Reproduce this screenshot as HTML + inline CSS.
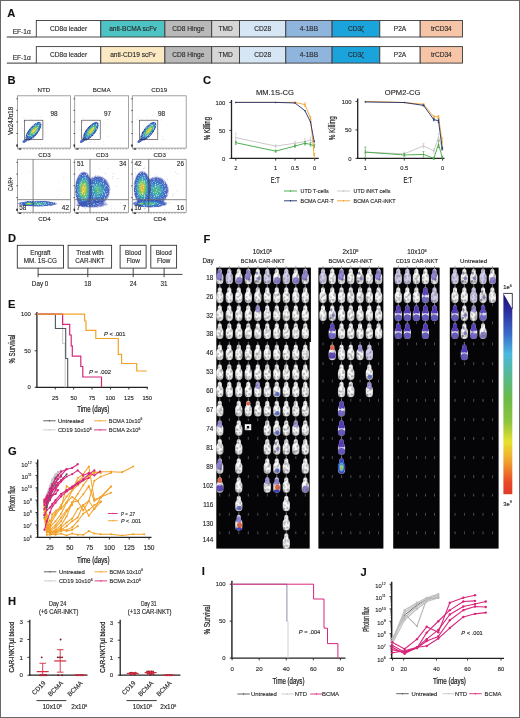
<!DOCTYPE html>
<html><head><meta charset="utf-8"><style>
html,body{margin:0;padding:0;background:#fff;}
svg{display:block;font-family:"Liberation Sans", sans-serif;will-change:transform;}
text{stroke:#2a2a2a;stroke-width:0.13px;}
</style></head><body>
<svg width="520" height="718" viewBox="0 0 520 718">
<rect width="520" height="718" fill="#fff"/>
<text x="7.3" y="17.3" font-size="11.2" font-weight="bold" fill="#111">A</text>
<line x1="6.8" y1="37.0" x2="36.3" y2="37.0" stroke="#333" stroke-width="1"/>
<rect x="36.3" y="20.5" width="64.50" height="16.50" fill="#ffffff" stroke="#3a3a3a" stroke-width="0.9"/>
<text x="68.55" y="31.05" font-size="6.6" text-anchor="middle" fill="#2a2a2a">CD8&#945; leader</text>
<rect x="100.8" y="20.5" width="64.10" height="16.50" fill="#4ec3c4" stroke="#3a3a3a" stroke-width="0.9"/>
<text x="132.85" y="31.05" font-size="6.6" text-anchor="middle" fill="#2a2a2a">anti-BCMA scFv</text>
<rect x="164.9" y="20.5" width="46.80" height="16.50" fill="#b9b9b9" stroke="#3a3a3a" stroke-width="0.9"/>
<text x="188.3" y="31.05" font-size="6.6" text-anchor="middle" fill="#2a2a2a">CD8 Hinge</text>
<rect x="211.7" y="20.5" width="27.80" height="16.50" fill="#d6d6d6" stroke="#3a3a3a" stroke-width="0.9"/>
<text x="225.6" y="31.05" font-size="6.6" text-anchor="middle" fill="#2a2a2a">TMD</text>
<rect x="239.5" y="20.5" width="46.30" height="16.50" fill="#d7e6f5" stroke="#3a3a3a" stroke-width="0.9"/>
<text x="262.65" y="31.05" font-size="6.6" text-anchor="middle" fill="#2a2a2a">CD28</text>
<rect x="285.8" y="20.5" width="46.30" height="16.50" fill="#8fb5dd" stroke="#3a3a3a" stroke-width="0.9"/>
<text x="308.95000000000005" y="31.05" font-size="6.6" text-anchor="middle" fill="#2a2a2a">4-1BB</text>
<rect x="332.1" y="20.5" width="47.70" height="16.50" fill="#1ba4dc" stroke="#3a3a3a" stroke-width="0.9"/>
<text x="355.95000000000005" y="31.05" font-size="6.6" text-anchor="middle" fill="#2a2a2a">CD3&#950;</text>
<rect x="379.8" y="20.5" width="40.40" height="16.50" fill="#ffffff" stroke="#3a3a3a" stroke-width="0.9"/>
<text x="400.0" y="31.05" font-size="6.6" text-anchor="middle" fill="#2a2a2a">P2A</text>
<rect x="420.2" y="20.5" width="42.30" height="16.50" fill="#f6c4a6" stroke="#3a3a3a" stroke-width="0.9"/>
<text x="441.35" y="31.05" font-size="6.6" text-anchor="middle" fill="#2a2a2a">trCD34</text>
<text x="12.7" y="34.0" font-size="6.6" fill="#2a2a2a">EF-1&#945;</text>
<line x1="6.8" y1="63.1" x2="36.3" y2="63.1" stroke="#333" stroke-width="1"/>
<rect x="36.3" y="46.6" width="64.50" height="16.50" fill="#ffffff" stroke="#3a3a3a" stroke-width="0.9"/>
<text x="68.55" y="57.15" font-size="6.6" text-anchor="middle" fill="#2a2a2a">CD8&#945; leader</text>
<rect x="100.8" y="46.6" width="64.10" height="16.50" fill="#fbe9c3" stroke="#3a3a3a" stroke-width="0.9"/>
<text x="132.85" y="57.15" font-size="6.6" text-anchor="middle" fill="#2a2a2a">anti-CD19 scFv</text>
<rect x="164.9" y="46.6" width="46.80" height="16.50" fill="#b9b9b9" stroke="#3a3a3a" stroke-width="0.9"/>
<text x="188.3" y="57.15" font-size="6.6" text-anchor="middle" fill="#2a2a2a">CD8 Hinge</text>
<rect x="211.7" y="46.6" width="27.80" height="16.50" fill="#d6d6d6" stroke="#3a3a3a" stroke-width="0.9"/>
<text x="225.6" y="57.15" font-size="6.6" text-anchor="middle" fill="#2a2a2a">TMD</text>
<rect x="239.5" y="46.6" width="46.30" height="16.50" fill="#d7e6f5" stroke="#3a3a3a" stroke-width="0.9"/>
<text x="262.65" y="57.15" font-size="6.6" text-anchor="middle" fill="#2a2a2a">CD28</text>
<rect x="285.8" y="46.6" width="46.30" height="16.50" fill="#8fb5dd" stroke="#3a3a3a" stroke-width="0.9"/>
<text x="308.95000000000005" y="57.15" font-size="6.6" text-anchor="middle" fill="#2a2a2a">4-1BB</text>
<rect x="332.1" y="46.6" width="47.70" height="16.50" fill="#1ba4dc" stroke="#3a3a3a" stroke-width="0.9"/>
<text x="355.95000000000005" y="57.15" font-size="6.6" text-anchor="middle" fill="#2a2a2a">CD3&#950;</text>
<rect x="379.8" y="46.6" width="40.40" height="16.50" fill="#ffffff" stroke="#3a3a3a" stroke-width="0.9"/>
<text x="400.0" y="57.15" font-size="6.6" text-anchor="middle" fill="#2a2a2a">P2A</text>
<rect x="420.2" y="46.6" width="42.30" height="16.50" fill="#f6c4a6" stroke="#3a3a3a" stroke-width="0.9"/>
<text x="441.35" y="57.15" font-size="6.6" text-anchor="middle" fill="#2a2a2a">trCD34</text>
<text x="12.7" y="60.1" font-size="6.6" fill="#2a2a2a">EF-1&#945;</text>
<defs>
<radialGradient id="dens" cx="0.5" cy="0.5" r="0.5">
<stop offset="0" stop-color="#f09a30"/><stop offset="0.12" stop-color="#e8c838"/><stop offset="0.3" stop-color="#8cc448"/>
<stop offset="0.5" stop-color="#40b0a8"/><stop offset="0.7" stop-color="#3478c8"/><stop offset="0.88" stop-color="#3448b4" stop-opacity="0.9"/><stop offset="1" stop-color="#3448b4" stop-opacity="0"/>
</radialGradient>
<radialGradient id="densR1" cx="0.6" cy="0.5" r="0.5" fx="0.62" fy="0.5">
<stop offset="0" stop-color="#e8c030"/><stop offset="0.15" stop-color="#d8d840"/><stop offset="0.32" stop-color="#7cc050"/>
<stop offset="0.5" stop-color="#38a8b0"/><stop offset="0.68" stop-color="#2f6cc0"/><stop offset="0.85" stop-color="#243a98" stop-opacity="0.95"/><stop offset="1" stop-color="#243a98" stop-opacity="0"/>
</radialGradient>
<radialGradient id="dens2" cx="0.5" cy="0.5" r="0.5">
<stop offset="0" stop-color="#5cb868"/><stop offset="0.25" stop-color="#40b0a8"/>
<stop offset="0.55" stop-color="#3478c8"/><stop offset="0.85" stop-color="#3448b4" stop-opacity="0.85"/><stop offset="1" stop-color="#3448b4" stop-opacity="0"/>
</radialGradient>
<filter id="speck" x="0" y="0" width="1" height="1" color-interpolation-filters="sRGB">
<feTurbulence type="fractalNoise" baseFrequency="1.1" numOctaves="1" seed="9" result="n"/>
<feColorMatrix in="n" type="matrix" values="0 0 0 0 0  0 0 0 0 0  0 0 0 0 0  0 0 0 2.4 -0.22" result="m"/>
<feComposite in="SourceGraphic" in2="m" operator="in"/>
</filter>
<radialGradient id="dens3" cx="0.5" cy="0.5" r="0.5">
<stop offset="0" stop-color="#3468c0"/><stop offset="0.7" stop-color="#3448b4" stop-opacity="0.75"/><stop offset="1" stop-color="#3448b4" stop-opacity="0"/>
</radialGradient>
</defs>
<text x="7.6" y="83.5" font-size="11.2" font-weight="bold" fill="#111">B</text>
<text x="43.900000000000006" y="92.2" font-size="6.2" text-anchor="middle" fill="#2a2a2a">NTD</text>
<text x="101.65" y="92.2" font-size="6.2" text-anchor="middle" fill="#2a2a2a">BCMA</text>
<text x="159.25" y="92.2" font-size="6.2" text-anchor="middle" fill="#2a2a2a">CD19</text>
<rect x="17.4" y="95.8" width="53.00" height="52.30" fill="none" stroke="#8c8c8c" stroke-width="0.8"/><line x1="16.099999999999998" y1="145.1" x2="17.799999999999997" y2="145.1" stroke="#222" stroke-width="0.6"/><line x1="16.099999999999998" y1="133.5" x2="17.799999999999997" y2="133.5" stroke="#222" stroke-width="0.6"/><line x1="16.099999999999998" y1="121.9" x2="17.799999999999997" y2="121.9" stroke="#222" stroke-width="0.6"/><line x1="16.099999999999998" y1="110.4" x2="17.799999999999997" y2="110.4" stroke="#222" stroke-width="0.6"/><line x1="16.099999999999998" y1="98.8" x2="17.799999999999997" y2="98.8" stroke="#222" stroke-width="0.6"/><line x1="17.4" y1="149.0" x2="70.4" y2="149.0" stroke="#777" stroke-width="0.6" stroke-dasharray="1.5 1.5"/><rect x="18.9" y="148.4" width="2.2" height="1.2" fill="#222"/><rect x="16.4" y="144.6" width="1.3" height="2.2" fill="#222"/>
<circle cx="31.1" cy="119.7" r="0.4" fill="#9a84e0" opacity="0.55"/><circle cx="40.9" cy="117.2" r="0.4" fill="#9a84e0" opacity="0.55"/><circle cx="37.5" cy="126.3" r="0.4" fill="#9a84e0" opacity="0.55"/><circle cx="23.1" cy="130.7" r="0.4" fill="#9a84e0" opacity="0.55"/><circle cx="22.5" cy="128.4" r="0.4" fill="#9a84e0" opacity="0.55"/><circle cx="23.5" cy="117.8" r="0.4" fill="#9a84e0" opacity="0.55"/><circle cx="34.1" cy="140.6" r="0.4" fill="#9a84e0" opacity="0.55"/><circle cx="25.1" cy="121.9" r="0.4" fill="#9a84e0" opacity="0.55"/><circle cx="40.2" cy="144.4" r="0.4" fill="#9a84e0" opacity="0.55"/><circle cx="38.7" cy="127.3" r="0.4" fill="#9a84e0" opacity="0.55"/><circle cx="50.7" cy="116.4" r="0.4" fill="#9a84e0" opacity="0.55"/><circle cx="47.2" cy="124.0" r="0.4" fill="#9a84e0" opacity="0.55"/><circle cx="25.7" cy="118.7" r="0.4" fill="#9a84e0" opacity="0.55"/><circle cx="30.7" cy="140.3" r="0.4" fill="#9a84e0" opacity="0.55"/><circle cx="26.8" cy="133.0" r="0.4" fill="#9a84e0" opacity="0.55"/><circle cx="40.6" cy="126.5" r="0.4" fill="#9a84e0" opacity="0.55"/><circle cx="37.8" cy="116.9" r="0.4" fill="#9a84e0" opacity="0.55"/><circle cx="23.2" cy="121.4" r="0.4" fill="#9a84e0" opacity="0.55"/><circle cx="41.8" cy="128.3" r="0.4" fill="#9a84e0" opacity="0.55"/><circle cx="30.8" cy="133.2" r="0.4" fill="#9a84e0" opacity="0.55"/><circle cx="35.0" cy="124.3" r="0.4" fill="#9a84e0" opacity="0.55"/><circle cx="45.2" cy="136.7" r="0.4" fill="#9a84e0" opacity="0.55"/><circle cx="28.7" cy="132.8" r="0.4" fill="#9a84e0" opacity="0.55"/><circle cx="37.2" cy="142.1" r="0.4" fill="#9a84e0" opacity="0.55"/><circle cx="43.3" cy="123.9" r="0.4" fill="#9a84e0" opacity="0.55"/><circle cx="50.8" cy="118.7" r="0.4" fill="#9a84e0" opacity="0.55"/><circle cx="33.9" cy="138.5" r="0.4" fill="#9a84e0" opacity="0.55"/><circle cx="26.0" cy="130.2" r="0.4" fill="#9a84e0" opacity="0.55"/>
<g filter="url(#speck)"><ellipse cx="0" cy="0" rx="13.2" ry="5.0" fill="url(#densR1)" opacity="1.0" transform="translate(32.2 132.8) rotate(-51)"/></g>
<ellipse cx="0" cy="0" rx="3.2" ry="1.8" fill="url(#dens3)" opacity="1.0" transform="translate(24.9 141.0) rotate(-30)"/>
<rect x="24.4" y="120.2" width="18.5" height="19.39999999999999" fill="none" stroke="#333" stroke-width="0.6"/>
<text x="54.0" y="115.8" font-size="6.4" text-anchor="middle" fill="#2a2a2a">98</text>
<text x="44.400000000000006" y="156.7" font-size="6.2" text-anchor="middle" fill="#2a2a2a">CD3</text>
<rect x="74.7" y="95.8" width="53.90" height="52.30" fill="none" stroke="#8c8c8c" stroke-width="0.8"/><line x1="73.4" y1="145.1" x2="75.10000000000001" y2="145.1" stroke="#222" stroke-width="0.6"/><line x1="73.4" y1="133.5" x2="75.10000000000001" y2="133.5" stroke="#222" stroke-width="0.6"/><line x1="73.4" y1="121.9" x2="75.10000000000001" y2="121.9" stroke="#222" stroke-width="0.6"/><line x1="73.4" y1="110.4" x2="75.10000000000001" y2="110.4" stroke="#222" stroke-width="0.6"/><line x1="73.4" y1="98.8" x2="75.10000000000001" y2="98.8" stroke="#222" stroke-width="0.6"/><line x1="74.7" y1="149.0" x2="128.6" y2="149.0" stroke="#777" stroke-width="0.6" stroke-dasharray="1.5 1.5"/><rect x="76.2" y="148.4" width="2.2" height="1.2" fill="#222"/><rect x="73.7" y="144.6" width="1.3" height="2.2" fill="#222"/>
<circle cx="79.9" cy="135.7" r="0.4" fill="#9a84e0" opacity="0.55"/><circle cx="101.6" cy="132.8" r="0.4" fill="#9a84e0" opacity="0.55"/><circle cx="105.0" cy="124.7" r="0.4" fill="#9a84e0" opacity="0.55"/><circle cx="99.6" cy="133.4" r="0.4" fill="#9a84e0" opacity="0.55"/><circle cx="96.1" cy="129.1" r="0.4" fill="#9a84e0" opacity="0.55"/><circle cx="103.9" cy="144.3" r="0.4" fill="#9a84e0" opacity="0.55"/><circle cx="92.9" cy="135.6" r="0.4" fill="#9a84e0" opacity="0.55"/><circle cx="80.5" cy="136.7" r="0.4" fill="#9a84e0" opacity="0.55"/><circle cx="98.1" cy="145.8" r="0.4" fill="#9a84e0" opacity="0.55"/><circle cx="103.4" cy="123.8" r="0.4" fill="#9a84e0" opacity="0.55"/><circle cx="90.3" cy="135.7" r="0.4" fill="#9a84e0" opacity="0.55"/><circle cx="79.4" cy="129.3" r="0.4" fill="#9a84e0" opacity="0.55"/><circle cx="83.7" cy="118.6" r="0.4" fill="#9a84e0" opacity="0.55"/><circle cx="80.5" cy="138.8" r="0.4" fill="#9a84e0" opacity="0.55"/><circle cx="82.6" cy="122.7" r="0.4" fill="#9a84e0" opacity="0.55"/><circle cx="90.4" cy="142.0" r="0.4" fill="#9a84e0" opacity="0.55"/><circle cx="81.1" cy="128.9" r="0.4" fill="#9a84e0" opacity="0.55"/><circle cx="95.2" cy="142.4" r="0.4" fill="#9a84e0" opacity="0.55"/><circle cx="103.3" cy="141.8" r="0.4" fill="#9a84e0" opacity="0.55"/><circle cx="87.1" cy="127.9" r="0.4" fill="#9a84e0" opacity="0.55"/><circle cx="89.5" cy="142.4" r="0.4" fill="#9a84e0" opacity="0.55"/><circle cx="107.4" cy="119.7" r="0.4" fill="#9a84e0" opacity="0.55"/><circle cx="84.0" cy="122.2" r="0.4" fill="#9a84e0" opacity="0.55"/><circle cx="85.7" cy="130.0" r="0.4" fill="#9a84e0" opacity="0.55"/><circle cx="96.4" cy="123.1" r="0.4" fill="#9a84e0" opacity="0.55"/><circle cx="78.8" cy="128.0" r="0.4" fill="#9a84e0" opacity="0.55"/><circle cx="89.8" cy="132.6" r="0.4" fill="#9a84e0" opacity="0.55"/><circle cx="107.3" cy="136.4" r="0.4" fill="#9a84e0" opacity="0.55"/>
<g filter="url(#speck)"><ellipse cx="0" cy="0" rx="13.2" ry="5.0" fill="url(#densR1)" opacity="1.0" transform="translate(89.5 132.8) rotate(-51)"/></g>
<ellipse cx="0" cy="0" rx="3.2" ry="1.8" fill="url(#dens3)" opacity="1.0" transform="translate(82.2 141.0) rotate(-30)"/>
<rect x="81.7" y="120.2" width="18.5" height="19.39999999999999" fill="none" stroke="#333" stroke-width="0.6"/>
<text x="107.5" y="115.8" font-size="6.4" text-anchor="middle" fill="#2a2a2a">97</text>
<text x="102.15" y="156.7" font-size="6.2" text-anchor="middle" fill="#2a2a2a">CD3</text>
<rect x="132.3" y="95.8" width="53.90" height="52.30" fill="none" stroke="#8c8c8c" stroke-width="0.8"/><line x1="131.0" y1="145.1" x2="132.70000000000002" y2="145.1" stroke="#222" stroke-width="0.6"/><line x1="131.0" y1="133.5" x2="132.70000000000002" y2="133.5" stroke="#222" stroke-width="0.6"/><line x1="131.0" y1="121.9" x2="132.70000000000002" y2="121.9" stroke="#222" stroke-width="0.6"/><line x1="131.0" y1="110.4" x2="132.70000000000002" y2="110.4" stroke="#222" stroke-width="0.6"/><line x1="131.0" y1="98.8" x2="132.70000000000002" y2="98.8" stroke="#222" stroke-width="0.6"/><line x1="132.3" y1="149.0" x2="186.2" y2="149.0" stroke="#777" stroke-width="0.6" stroke-dasharray="1.5 1.5"/><rect x="133.8" y="148.4" width="2.2" height="1.2" fill="#222"/><rect x="131.3" y="144.6" width="1.3" height="2.2" fill="#222"/>
<circle cx="151.8" cy="134.1" r="0.4" fill="#9a84e0" opacity="0.55"/><circle cx="156.6" cy="116.7" r="0.4" fill="#9a84e0" opacity="0.55"/><circle cx="163.3" cy="139.2" r="0.4" fill="#9a84e0" opacity="0.55"/><circle cx="162.5" cy="139.7" r="0.4" fill="#9a84e0" opacity="0.55"/><circle cx="148.1" cy="127.4" r="0.4" fill="#9a84e0" opacity="0.55"/><circle cx="139.4" cy="134.7" r="0.4" fill="#9a84e0" opacity="0.55"/><circle cx="138.2" cy="117.1" r="0.4" fill="#9a84e0" opacity="0.55"/><circle cx="142.6" cy="120.0" r="0.4" fill="#9a84e0" opacity="0.55"/><circle cx="146.5" cy="116.6" r="0.4" fill="#9a84e0" opacity="0.55"/><circle cx="136.3" cy="119.7" r="0.4" fill="#9a84e0" opacity="0.55"/><circle cx="139.3" cy="126.3" r="0.4" fill="#9a84e0" opacity="0.55"/><circle cx="137.1" cy="142.1" r="0.4" fill="#9a84e0" opacity="0.55"/><circle cx="154.7" cy="119.6" r="0.4" fill="#9a84e0" opacity="0.55"/><circle cx="143.9" cy="125.8" r="0.4" fill="#9a84e0" opacity="0.55"/><circle cx="147.2" cy="118.8" r="0.4" fill="#9a84e0" opacity="0.55"/><circle cx="161.8" cy="145.8" r="0.4" fill="#9a84e0" opacity="0.55"/><circle cx="150.3" cy="130.0" r="0.4" fill="#9a84e0" opacity="0.55"/><circle cx="138.9" cy="118.2" r="0.4" fill="#9a84e0" opacity="0.55"/><circle cx="146.6" cy="123.2" r="0.4" fill="#9a84e0" opacity="0.55"/><circle cx="161.2" cy="120.0" r="0.4" fill="#9a84e0" opacity="0.55"/><circle cx="137.0" cy="144.5" r="0.4" fill="#9a84e0" opacity="0.55"/><circle cx="152.1" cy="119.5" r="0.4" fill="#9a84e0" opacity="0.55"/><circle cx="152.6" cy="115.8" r="0.4" fill="#9a84e0" opacity="0.55"/><circle cx="152.1" cy="145.3" r="0.4" fill="#9a84e0" opacity="0.55"/><circle cx="162.2" cy="136.6" r="0.4" fill="#9a84e0" opacity="0.55"/><circle cx="144.1" cy="126.4" r="0.4" fill="#9a84e0" opacity="0.55"/><circle cx="141.3" cy="138.9" r="0.4" fill="#9a84e0" opacity="0.55"/><circle cx="152.3" cy="139.2" r="0.4" fill="#9a84e0" opacity="0.55"/>
<g filter="url(#speck)"><ellipse cx="0" cy="0" rx="13.2" ry="5.0" fill="url(#densR1)" opacity="1.0" transform="translate(147.10000000000002 132.8) rotate(-51)"/></g>
<ellipse cx="0" cy="0" rx="3.2" ry="1.8" fill="url(#dens3)" opacity="1.0" transform="translate(139.8 141.0) rotate(-30)"/>
<rect x="139.3" y="120.2" width="18.5" height="19.39999999999999" fill="none" stroke="#333" stroke-width="0.6"/>
<text x="161.5" y="115.8" font-size="6.4" text-anchor="middle" fill="#2a2a2a">98</text>
<text x="159.75" y="156.7" font-size="6.2" text-anchor="middle" fill="#2a2a2a">CD3</text>
<rect x="17.4" y="159.3" width="53.00" height="53.00" fill="none" stroke="#8c8c8c" stroke-width="0.8"/><line x1="16.099999999999998" y1="209.3" x2="17.799999999999997" y2="209.3" stroke="#222" stroke-width="0.6"/><line x1="16.099999999999998" y1="197.6" x2="17.799999999999997" y2="197.6" stroke="#222" stroke-width="0.6"/><line x1="16.099999999999998" y1="185.8" x2="17.799999999999997" y2="185.8" stroke="#222" stroke-width="0.6"/><line x1="16.099999999999998" y1="174.1" x2="17.799999999999997" y2="174.1" stroke="#222" stroke-width="0.6"/><line x1="16.099999999999998" y1="162.3" x2="17.799999999999997" y2="162.3" stroke="#222" stroke-width="0.6"/><line x1="17.4" y1="213.20000000000002" x2="70.4" y2="213.20000000000002" stroke="#777" stroke-width="0.6" stroke-dasharray="1.5 1.5"/><rect x="18.9" y="212.60000000000002" width="2.2" height="1.2" fill="#222"/><rect x="16.4" y="208.8" width="1.3" height="2.2" fill="#222"/>
<circle cx="35.2" cy="171.7" r="0.35" fill="#b0a8e0" opacity="0.5"/><circle cx="56.9" cy="197.2" r="0.35" fill="#b0a8e0" opacity="0.5"/><circle cx="58.8" cy="191.2" r="0.35" fill="#b0a8e0" opacity="0.5"/><circle cx="57.2" cy="189.0" r="0.35" fill="#b0a8e0" opacity="0.5"/><circle cx="30.6" cy="181.6" r="0.35" fill="#b0a8e0" opacity="0.5"/><circle cx="36.4" cy="165.3" r="0.35" fill="#b0a8e0" opacity="0.5"/><circle cx="21.7" cy="173.6" r="0.35" fill="#b0a8e0" opacity="0.5"/><circle cx="32.1" cy="187.4" r="0.35" fill="#b0a8e0" opacity="0.5"/><circle cx="63.4" cy="179.2" r="0.35" fill="#b0a8e0" opacity="0.5"/><circle cx="62.6" cy="197.3" r="0.35" fill="#b0a8e0" opacity="0.5"/><circle cx="63.4" cy="176.5" r="0.35" fill="#b0a8e0" opacity="0.5"/><circle cx="30.3" cy="171.9" r="0.35" fill="#b0a8e0" opacity="0.5"/><circle cx="29.3" cy="171.1" r="0.35" fill="#b0a8e0" opacity="0.5"/><circle cx="48.5" cy="194.4" r="0.35" fill="#b0a8e0" opacity="0.5"/><circle cx="58.2" cy="180.3" r="0.35" fill="#b0a8e0" opacity="0.5"/><circle cx="49.8" cy="191.0" r="0.35" fill="#b0a8e0" opacity="0.5"/><circle cx="24.2" cy="186.4" r="0.35" fill="#b0a8e0" opacity="0.5"/><circle cx="61.3" cy="190.4" r="0.35" fill="#b0a8e0" opacity="0.5"/><circle cx="54.2" cy="180.3" r="0.35" fill="#b0a8e0" opacity="0.5"/><circle cx="28.4" cy="190.7" r="0.35" fill="#b0a8e0" opacity="0.5"/><circle cx="35.4" cy="191.0" r="0.35" fill="#b0a8e0" opacity="0.5"/><circle cx="64.1" cy="177.5" r="0.35" fill="#b0a8e0" opacity="0.5"/><circle cx="38.5" cy="195.9" r="0.35" fill="#b0a8e0" opacity="0.5"/><circle cx="53.0" cy="170.0" r="0.35" fill="#b0a8e0" opacity="0.5"/><circle cx="26.1" cy="169.3" r="0.35" fill="#b0a8e0" opacity="0.5"/>
<circle cx="56.6" cy="196.1" r="0.35" fill="#d8d070" opacity="0.5"/><circle cx="26.2" cy="196.2" r="0.35" fill="#d8d070" opacity="0.5"/><circle cx="59.6" cy="194.8" r="0.35" fill="#d8d070" opacity="0.5"/><circle cx="34.4" cy="193.9" r="0.35" fill="#d8d070" opacity="0.5"/><circle cx="25.6" cy="189.4" r="0.35" fill="#d8d070" opacity="0.5"/><circle cx="59.2" cy="194.8" r="0.35" fill="#d8d070" opacity="0.5"/><circle cx="41.5" cy="197.1" r="0.35" fill="#d8d070" opacity="0.5"/><circle cx="37.8" cy="196.6" r="0.35" fill="#d8d070" opacity="0.5"/>
<g filter="url(#speck)"><ellipse cx="0" cy="0" rx="20.5" ry="3.1" fill="url(#dens2)" opacity="1.0" transform="translate(37.4 203.7) rotate(0)"/></g>
<ellipse cx="0" cy="0" rx="6.0" ry="2.2" fill="url(#dens)" opacity="1.0" transform="translate(28.9 203.7) rotate(0)"/>
<line x1="33.099999999999994" y1="159.3" x2="33.099999999999994" y2="212.3" stroke="#555" stroke-width="0.7"/>
<line x1="17.4" y1="199.7" x2="70.4" y2="199.7" stroke="#666" stroke-width="0.8"/>
<text x="22.799999999999997" y="209.5" font-size="6.4" text-anchor="middle" fill="#2a2a2a">58</text>
<text x="65.4" y="209.5" font-size="6.4" text-anchor="middle" fill="#2a2a2a">42</text>
<text x="44.400000000000006" y="220.6" font-size="6.2" text-anchor="middle" fill="#2a2a2a">CD4</text>
<rect x="74.7" y="159.3" width="53.90" height="53.00" fill="none" stroke="#8c8c8c" stroke-width="0.8"/><line x1="73.4" y1="209.3" x2="75.10000000000001" y2="209.3" stroke="#222" stroke-width="0.6"/><line x1="73.4" y1="197.6" x2="75.10000000000001" y2="197.6" stroke="#222" stroke-width="0.6"/><line x1="73.4" y1="185.8" x2="75.10000000000001" y2="185.8" stroke="#222" stroke-width="0.6"/><line x1="73.4" y1="174.1" x2="75.10000000000001" y2="174.1" stroke="#222" stroke-width="0.6"/><line x1="73.4" y1="162.3" x2="75.10000000000001" y2="162.3" stroke="#222" stroke-width="0.6"/><line x1="74.7" y1="213.20000000000002" x2="128.6" y2="213.20000000000002" stroke="#777" stroke-width="0.6" stroke-dasharray="1.5 1.5"/><rect x="76.2" y="212.60000000000002" width="2.2" height="1.2" fill="#222"/><rect x="73.7" y="208.8" width="1.3" height="2.2" fill="#222"/>
<circle cx="112.8" cy="176.4" r="0.45" fill="#3b50b8" opacity="0.5"/><circle cx="87.0" cy="179.9" r="0.45" fill="#3b50b8" opacity="0.5"/><circle cx="86.5" cy="192.5" r="0.45" fill="#3b50b8" opacity="0.5"/><circle cx="87.3" cy="185.3" r="0.45" fill="#3b50b8" opacity="0.5"/><circle cx="81.6" cy="206.4" r="0.45" fill="#3b50b8" opacity="0.5"/><circle cx="91.6" cy="187.0" r="0.45" fill="#3b50b8" opacity="0.5"/><circle cx="101.9" cy="206.2" r="0.45" fill="#3b50b8" opacity="0.5"/><circle cx="94.6" cy="206.8" r="0.45" fill="#3b50b8" opacity="0.5"/><circle cx="98.2" cy="190.2" r="0.45" fill="#3b50b8" opacity="0.5"/><circle cx="99.2" cy="168.1" r="0.45" fill="#3b50b8" opacity="0.5"/><circle cx="95.5" cy="175.2" r="0.45" fill="#3b50b8" opacity="0.5"/><circle cx="75.9" cy="201.7" r="0.45" fill="#3b50b8" opacity="0.5"/><circle cx="83.4" cy="187.7" r="0.45" fill="#3b50b8" opacity="0.5"/><circle cx="108.3" cy="191.2" r="0.45" fill="#3b50b8" opacity="0.5"/><circle cx="90.3" cy="189.6" r="0.45" fill="#3b50b8" opacity="0.5"/><circle cx="100.6" cy="201.0" r="0.45" fill="#3b50b8" opacity="0.5"/><circle cx="80.5" cy="191.4" r="0.45" fill="#3b50b8" opacity="0.5"/><circle cx="86.9" cy="179.2" r="0.45" fill="#3b50b8" opacity="0.5"/><circle cx="110.4" cy="189.1" r="0.45" fill="#3b50b8" opacity="0.5"/><circle cx="100.9" cy="200.0" r="0.45" fill="#3b50b8" opacity="0.5"/><circle cx="116.7" cy="186.4" r="0.45" fill="#3b50b8" opacity="0.5"/><circle cx="103.2" cy="189.0" r="0.45" fill="#3b50b8" opacity="0.5"/><circle cx="98.7" cy="197.1" r="0.45" fill="#3b50b8" opacity="0.5"/><circle cx="96.0" cy="190.2" r="0.45" fill="#3b50b8" opacity="0.5"/><circle cx="97.2" cy="207.8" r="0.45" fill="#3b50b8" opacity="0.5"/><circle cx="107.1" cy="205.0" r="0.45" fill="#3b50b8" opacity="0.5"/><circle cx="118.0" cy="178.5" r="0.45" fill="#3b50b8" opacity="0.5"/><circle cx="100.8" cy="207.9" r="0.45" fill="#3b50b8" opacity="0.5"/><circle cx="113.4" cy="173.2" r="0.45" fill="#3b50b8" opacity="0.5"/><circle cx="81.2" cy="186.3" r="0.45" fill="#3b50b8" opacity="0.5"/><circle cx="79.0" cy="177.6" r="0.45" fill="#3b50b8" opacity="0.5"/><circle cx="79.0" cy="196.1" r="0.45" fill="#3b50b8" opacity="0.5"/><circle cx="110.9" cy="205.9" r="0.45" fill="#3b50b8" opacity="0.5"/><circle cx="82.6" cy="198.1" r="0.45" fill="#3b50b8" opacity="0.5"/><circle cx="105.3" cy="173.4" r="0.45" fill="#3b50b8" opacity="0.5"/><circle cx="115.3" cy="208.9" r="0.45" fill="#3b50b8" opacity="0.5"/><circle cx="85.6" cy="208.3" r="0.45" fill="#3b50b8" opacity="0.5"/><circle cx="93.6" cy="188.3" r="0.45" fill="#3b50b8" opacity="0.5"/><circle cx="120.1" cy="203.1" r="0.45" fill="#3b50b8" opacity="0.5"/><circle cx="82.9" cy="185.9" r="0.45" fill="#3b50b8" opacity="0.5"/><circle cx="98.9" cy="181.9" r="0.45" fill="#3b50b8" opacity="0.5"/><circle cx="84.5" cy="181.0" r="0.45" fill="#3b50b8" opacity="0.5"/><circle cx="108.1" cy="168.1" r="0.45" fill="#3b50b8" opacity="0.5"/><circle cx="100.6" cy="186.2" r="0.45" fill="#3b50b8" opacity="0.5"/><circle cx="76.5" cy="181.6" r="0.45" fill="#3b50b8" opacity="0.5"/><circle cx="103.7" cy="189.3" r="0.45" fill="#3b50b8" opacity="0.5"/><circle cx="78.6" cy="209.7" r="0.45" fill="#3b50b8" opacity="0.5"/><circle cx="111.1" cy="209.1" r="0.45" fill="#3b50b8" opacity="0.5"/><circle cx="80.4" cy="178.7" r="0.45" fill="#3b50b8" opacity="0.5"/><circle cx="77.5" cy="200.8" r="0.45" fill="#3b50b8" opacity="0.5"/><circle cx="87.8" cy="172.9" r="0.45" fill="#3b50b8" opacity="0.5"/><circle cx="94.7" cy="206.5" r="0.45" fill="#3b50b8" opacity="0.5"/><circle cx="112.5" cy="178.4" r="0.45" fill="#3b50b8" opacity="0.5"/><circle cx="82.4" cy="206.8" r="0.45" fill="#3b50b8" opacity="0.5"/><circle cx="101.3" cy="197.4" r="0.45" fill="#3b50b8" opacity="0.5"/><circle cx="79.7" cy="169.8" r="0.45" fill="#3b50b8" opacity="0.5"/><circle cx="106.6" cy="185.6" r="0.45" fill="#3b50b8" opacity="0.5"/><circle cx="79.0" cy="207.6" r="0.45" fill="#3b50b8" opacity="0.5"/><circle cx="104.2" cy="201.8" r="0.45" fill="#3b50b8" opacity="0.5"/><circle cx="79.5" cy="204.1" r="0.45" fill="#3b50b8" opacity="0.5"/>
<g filter="url(#speck)"><ellipse cx="0" cy="0" rx="13.0" ry="15.0" fill="url(#dens2)" opacity="1.0" transform="translate(97.7 190.0) rotate(0)"/></g>
<g filter="url(#speck)"><ellipse cx="0" cy="0" rx="9.0" ry="18.5" fill="url(#dens)" opacity="1.0" transform="translate(83.7 189.5) rotate(0)"/></g>
<g filter="url(#speck)"><ellipse cx="0" cy="0" rx="17" ry="4.0" fill="url(#dens3)" opacity="1.0" transform="translate(91.7 204.0) rotate(0)"/></g>
<line x1="90.0" y1="159.3" x2="90.0" y2="212.3" stroke="#444" stroke-width="0.7"/>
<line x1="74.7" y1="199.7" x2="128.6" y2="199.7" stroke="#666" stroke-width="0.8"/>
<text x="80.5" y="165.6" font-size="6.4" text-anchor="middle" fill="#2a2a2a">51</text>
<text x="122.8" y="165.6" font-size="6.4" text-anchor="middle" fill="#2a2a2a">34</text>
<text x="78.2" y="209.6" font-size="6.4" text-anchor="middle" fill="#2a2a2a">7</text>
<text x="124.6" y="209.6" font-size="6.4" text-anchor="middle" fill="#2a2a2a">7</text>
<text x="102.15" y="220.6" font-size="6.2" text-anchor="middle" fill="#2a2a2a">CD4</text>
<rect x="132.3" y="159.3" width="53.90" height="53.00" fill="none" stroke="#8c8c8c" stroke-width="0.8"/><line x1="131.0" y1="209.3" x2="132.70000000000002" y2="209.3" stroke="#222" stroke-width="0.6"/><line x1="131.0" y1="197.6" x2="132.70000000000002" y2="197.6" stroke="#222" stroke-width="0.6"/><line x1="131.0" y1="185.8" x2="132.70000000000002" y2="185.8" stroke="#222" stroke-width="0.6"/><line x1="131.0" y1="174.1" x2="132.70000000000002" y2="174.1" stroke="#222" stroke-width="0.6"/><line x1="131.0" y1="162.3" x2="132.70000000000002" y2="162.3" stroke="#222" stroke-width="0.6"/><line x1="132.3" y1="213.20000000000002" x2="186.2" y2="213.20000000000002" stroke="#777" stroke-width="0.6" stroke-dasharray="1.5 1.5"/><rect x="133.8" y="212.60000000000002" width="2.2" height="1.2" fill="#222"/><rect x="131.3" y="208.8" width="1.3" height="2.2" fill="#222"/>
<circle cx="136.3" cy="204.4" r="0.45" fill="#3b50b8" opacity="0.5"/><circle cx="153.7" cy="181.9" r="0.45" fill="#3b50b8" opacity="0.5"/><circle cx="158.1" cy="207.1" r="0.45" fill="#3b50b8" opacity="0.5"/><circle cx="145.3" cy="172.9" r="0.45" fill="#3b50b8" opacity="0.5"/><circle cx="157.0" cy="177.6" r="0.45" fill="#3b50b8" opacity="0.5"/><circle cx="138.2" cy="174.2" r="0.45" fill="#3b50b8" opacity="0.5"/><circle cx="135.6" cy="176.0" r="0.45" fill="#3b50b8" opacity="0.5"/><circle cx="147.3" cy="180.4" r="0.45" fill="#3b50b8" opacity="0.5"/><circle cx="167.4" cy="179.8" r="0.45" fill="#3b50b8" opacity="0.5"/><circle cx="155.8" cy="174.9" r="0.45" fill="#3b50b8" opacity="0.5"/><circle cx="148.9" cy="168.1" r="0.45" fill="#3b50b8" opacity="0.5"/><circle cx="144.5" cy="168.0" r="0.45" fill="#3b50b8" opacity="0.5"/><circle cx="166.2" cy="191.0" r="0.45" fill="#3b50b8" opacity="0.5"/><circle cx="141.8" cy="187.7" r="0.45" fill="#3b50b8" opacity="0.5"/><circle cx="175.3" cy="171.9" r="0.45" fill="#3b50b8" opacity="0.5"/><circle cx="170.1" cy="185.9" r="0.45" fill="#3b50b8" opacity="0.5"/><circle cx="155.5" cy="203.2" r="0.45" fill="#3b50b8" opacity="0.5"/><circle cx="150.9" cy="189.1" r="0.45" fill="#3b50b8" opacity="0.5"/><circle cx="164.2" cy="209.5" r="0.45" fill="#3b50b8" opacity="0.5"/><circle cx="148.7" cy="203.1" r="0.45" fill="#3b50b8" opacity="0.5"/><circle cx="165.0" cy="194.6" r="0.45" fill="#3b50b8" opacity="0.5"/><circle cx="151.5" cy="182.2" r="0.45" fill="#3b50b8" opacity="0.5"/><circle cx="135.7" cy="172.9" r="0.45" fill="#3b50b8" opacity="0.5"/><circle cx="136.5" cy="199.2" r="0.45" fill="#3b50b8" opacity="0.5"/><circle cx="144.8" cy="174.3" r="0.45" fill="#3b50b8" opacity="0.5"/><circle cx="137.1" cy="203.5" r="0.45" fill="#3b50b8" opacity="0.5"/><circle cx="172.4" cy="196.1" r="0.45" fill="#3b50b8" opacity="0.5"/><circle cx="146.0" cy="177.7" r="0.45" fill="#3b50b8" opacity="0.5"/><circle cx="146.5" cy="187.1" r="0.45" fill="#3b50b8" opacity="0.5"/><circle cx="140.4" cy="186.5" r="0.45" fill="#3b50b8" opacity="0.5"/><circle cx="145.1" cy="208.7" r="0.45" fill="#3b50b8" opacity="0.5"/><circle cx="177.0" cy="190.8" r="0.45" fill="#3b50b8" opacity="0.5"/><circle cx="144.3" cy="208.8" r="0.45" fill="#3b50b8" opacity="0.5"/><circle cx="147.2" cy="182.6" r="0.45" fill="#3b50b8" opacity="0.5"/><circle cx="133.3" cy="183.7" r="0.45" fill="#3b50b8" opacity="0.5"/><circle cx="154.6" cy="188.9" r="0.45" fill="#3b50b8" opacity="0.5"/><circle cx="142.3" cy="189.0" r="0.45" fill="#3b50b8" opacity="0.5"/><circle cx="133.5" cy="178.7" r="0.45" fill="#3b50b8" opacity="0.5"/><circle cx="137.3" cy="184.5" r="0.45" fill="#3b50b8" opacity="0.5"/><circle cx="135.2" cy="168.3" r="0.45" fill="#3b50b8" opacity="0.5"/><circle cx="147.0" cy="177.3" r="0.45" fill="#3b50b8" opacity="0.5"/><circle cx="159.6" cy="190.1" r="0.45" fill="#3b50b8" opacity="0.5"/><circle cx="167.0" cy="195.6" r="0.45" fill="#3b50b8" opacity="0.5"/><circle cx="165.4" cy="205.1" r="0.45" fill="#3b50b8" opacity="0.5"/><circle cx="150.8" cy="181.3" r="0.45" fill="#3b50b8" opacity="0.5"/><circle cx="177.5" cy="173.7" r="0.45" fill="#3b50b8" opacity="0.5"/><circle cx="165.8" cy="195.0" r="0.45" fill="#3b50b8" opacity="0.5"/><circle cx="135.3" cy="203.2" r="0.45" fill="#3b50b8" opacity="0.5"/><circle cx="173.3" cy="194.3" r="0.45" fill="#3b50b8" opacity="0.5"/><circle cx="166.2" cy="202.2" r="0.45" fill="#3b50b8" opacity="0.5"/><circle cx="139.6" cy="189.8" r="0.45" fill="#3b50b8" opacity="0.5"/><circle cx="155.9" cy="203.2" r="0.45" fill="#3b50b8" opacity="0.5"/><circle cx="169.4" cy="202.8" r="0.45" fill="#3b50b8" opacity="0.5"/><circle cx="159.5" cy="205.7" r="0.45" fill="#3b50b8" opacity="0.5"/><circle cx="164.0" cy="197.1" r="0.45" fill="#3b50b8" opacity="0.5"/><circle cx="143.6" cy="168.6" r="0.45" fill="#3b50b8" opacity="0.5"/><circle cx="139.3" cy="182.8" r="0.45" fill="#3b50b8" opacity="0.5"/><circle cx="138.0" cy="203.2" r="0.45" fill="#3b50b8" opacity="0.5"/><circle cx="158.4" cy="194.3" r="0.45" fill="#3b50b8" opacity="0.5"/><circle cx="161.4" cy="196.6" r="0.45" fill="#3b50b8" opacity="0.5"/>
<g filter="url(#speck)"><ellipse cx="0" cy="0" rx="13.0" ry="14.5" fill="url(#dens2)" opacity="1.0" transform="translate(156.3 190.5) rotate(0)"/></g>
<g filter="url(#speck)"><ellipse cx="0" cy="0" rx="9.0" ry="17.5" fill="url(#dens)" opacity="1.0" transform="translate(142.3 188.0) rotate(0)"/></g>
<g filter="url(#speck)"><ellipse cx="0" cy="0" rx="18" ry="4.2" fill="url(#dens2)" opacity="1.0" transform="translate(149.8 203.6) rotate(0)"/></g>
<ellipse cx="0" cy="0" rx="5" ry="2.0" fill="url(#dens)" opacity="0.8" transform="translate(141.3 203.6) rotate(0)"/>
<line x1="148.70000000000002" y1="159.3" x2="148.70000000000002" y2="212.3" stroke="#444" stroke-width="0.7"/>
<line x1="132.3" y1="199.7" x2="186.2" y2="199.7" stroke="#666" stroke-width="0.8"/>
<text x="138.10000000000002" y="165.6" font-size="6.4" text-anchor="middle" fill="#2a2a2a">42</text>
<text x="180.39999999999998" y="165.6" font-size="6.4" text-anchor="middle" fill="#2a2a2a">26</text>
<text x="137.8" y="209.6" font-size="6.4" text-anchor="middle" fill="#2a2a2a">16</text>
<text x="180.39999999999998" y="209.6" font-size="6.4" text-anchor="middle" fill="#2a2a2a">16</text>
<text x="159.75" y="220.6" font-size="6.2" text-anchor="middle" fill="#2a2a2a">CD4</text>
<text x="13.4" y="120.9" font-size="6.8" text-anchor="middle" textLength="28.4" lengthAdjust="spacingAndGlyphs" transform="rotate(-90 13.4 120.9)" fill="#2a2a2a">V&#945;24J&#945;18</text>
<text x="13.2" y="183.9" font-size="6.6" text-anchor="middle" textLength="14.0" lengthAdjust="spacingAndGlyphs" transform="rotate(-90 13.2 183.9)" fill="#2a2a2a">CAR+</text>
<text x="203.0" y="83.7" font-size="11.2" font-weight="bold" fill="#111">C</text>
<line x1="231.50" y1="100.00" x2="231.50" y2="159.00" stroke="#222" stroke-width="1.3"/>
<line x1="230.90" y1="158.40" x2="318.80" y2="158.40" stroke="#222" stroke-width="1.2"/>
<line x1="229.30" y1="102.40" x2="231.50" y2="102.40" stroke="#222" stroke-width="0.9"/>
<text x="225.4" y="104.5" font-size="5.9" text-anchor="end" fill="#2a2a2a">100</text>
<line x1="229.30" y1="130.40" x2="231.50" y2="130.40" stroke="#222" stroke-width="0.9"/>
<text x="225.4" y="132.5" font-size="5.9" text-anchor="end" fill="#2a2a2a">50</text>
<line x1="229.30" y1="158.40" x2="231.50" y2="158.40" stroke="#222" stroke-width="0.9"/>
<text x="225.4" y="160.5" font-size="5.9" text-anchor="end" fill="#2a2a2a">0</text>
<line x1="235.80" y1="158.40" x2="235.80" y2="160.60" stroke="#222" stroke-width="0.9"/>
<text x="235.8" y="170.0" font-size="5.8" text-anchor="middle" fill="#2a2a2a">2</text>
<line x1="275.70" y1="158.40" x2="275.70" y2="160.60" stroke="#222" stroke-width="0.9"/>
<text x="275.7" y="170.0" font-size="5.8" text-anchor="middle" fill="#2a2a2a">1</text>
<line x1="295.00" y1="158.40" x2="295.00" y2="160.60" stroke="#222" stroke-width="0.9"/>
<text x="295.0" y="170.0" font-size="5.8" text-anchor="middle" fill="#2a2a2a">0.5</text>
<line x1="314.70" y1="158.40" x2="314.70" y2="160.60" stroke="#222" stroke-width="0.9"/>
<text x="314.7" y="170.0" font-size="5.8" text-anchor="middle" fill="#2a2a2a">0</text>
<line x1="235.80" y1="133.20" x2="235.80" y2="142.16" stroke="#c4c4c4" stroke-width="0.6"/>
<line x1="234.80" y1="133.20" x2="236.80" y2="133.20" stroke="#c4c4c4" stroke-width="0.6"/>
<line x1="234.80" y1="142.16" x2="236.80" y2="142.16" stroke="#c4c4c4" stroke-width="0.6"/>
<line x1="275.70" y1="144.96" x2="275.70" y2="147.20" stroke="#c4c4c4" stroke-width="0.6"/>
<line x1="274.70" y1="144.96" x2="276.70" y2="144.96" stroke="#c4c4c4" stroke-width="0.6"/>
<line x1="274.70" y1="147.20" x2="276.70" y2="147.20" stroke="#c4c4c4" stroke-width="0.6"/>
<line x1="295.00" y1="141.60" x2="295.00" y2="144.96" stroke="#c4c4c4" stroke-width="0.6"/>
<line x1="294.00" y1="141.60" x2="296.00" y2="141.60" stroke="#c4c4c4" stroke-width="0.6"/>
<line x1="294.00" y1="144.96" x2="296.00" y2="144.96" stroke="#c4c4c4" stroke-width="0.6"/>
<line x1="305.00" y1="138.80" x2="305.00" y2="144.40" stroke="#c4c4c4" stroke-width="0.6"/>
<line x1="304.00" y1="138.80" x2="306.00" y2="138.80" stroke="#c4c4c4" stroke-width="0.6"/>
<line x1="304.00" y1="144.40" x2="306.00" y2="144.40" stroke="#c4c4c4" stroke-width="0.6"/>
<line x1="310.50" y1="137.12" x2="310.50" y2="142.72" stroke="#c4c4c4" stroke-width="0.6"/>
<line x1="309.50" y1="137.12" x2="311.50" y2="137.12" stroke="#c4c4c4" stroke-width="0.6"/>
<line x1="309.50" y1="142.72" x2="311.50" y2="142.72" stroke="#c4c4c4" stroke-width="0.6"/>
<line x1="314.20" y1="140.48" x2="314.20" y2="144.96" stroke="#c4c4c4" stroke-width="0.6"/>
<line x1="313.20" y1="140.48" x2="315.20" y2="140.48" stroke="#c4c4c4" stroke-width="0.6"/>
<line x1="313.20" y1="144.96" x2="315.20" y2="144.96" stroke="#c4c4c4" stroke-width="0.6"/>
<polyline points="235.80,137.68 275.70,146.08 295.00,143.28 305.00,141.60 310.50,139.92 314.20,142.72" fill="none" stroke="#c4c4c4" stroke-width="0.9" stroke-linejoin="round"/>
<circle cx="235.80" cy="137.68" r="0.75" fill="#c4c4c4"/><circle cx="275.70" cy="146.08" r="0.75" fill="#c4c4c4"/><circle cx="295.00" cy="143.28" r="0.75" fill="#c4c4c4"/><circle cx="305.00" cy="141.60" r="0.75" fill="#c4c4c4"/><circle cx="310.50" cy="139.92" r="0.75" fill="#c4c4c4"/><circle cx="314.20" cy="142.72" r="0.75" fill="#c4c4c4"/>
<line x1="235.80" y1="141.04" x2="235.80" y2="144.40" stroke="#3ea640" stroke-width="0.6"/>
<line x1="234.80" y1="141.04" x2="236.80" y2="141.04" stroke="#3ea640" stroke-width="0.6"/>
<line x1="234.80" y1="144.40" x2="236.80" y2="144.40" stroke="#3ea640" stroke-width="0.6"/>
<line x1="275.70" y1="150.00" x2="275.70" y2="152.24" stroke="#3ea640" stroke-width="0.6"/>
<line x1="274.70" y1="150.00" x2="276.70" y2="150.00" stroke="#3ea640" stroke-width="0.6"/>
<line x1="274.70" y1="152.24" x2="276.70" y2="152.24" stroke="#3ea640" stroke-width="0.6"/>
<line x1="295.00" y1="144.96" x2="295.00" y2="147.20" stroke="#3ea640" stroke-width="0.6"/>
<line x1="294.00" y1="144.96" x2="296.00" y2="144.96" stroke="#3ea640" stroke-width="0.6"/>
<line x1="294.00" y1="147.20" x2="296.00" y2="147.20" stroke="#3ea640" stroke-width="0.6"/>
<line x1="305.00" y1="141.60" x2="305.00" y2="144.96" stroke="#3ea640" stroke-width="0.6"/>
<line x1="304.00" y1="141.60" x2="306.00" y2="141.60" stroke="#3ea640" stroke-width="0.6"/>
<line x1="304.00" y1="144.96" x2="306.00" y2="144.96" stroke="#3ea640" stroke-width="0.6"/>
<line x1="310.50" y1="142.72" x2="310.50" y2="146.08" stroke="#3ea640" stroke-width="0.6"/>
<line x1="309.50" y1="142.72" x2="311.50" y2="142.72" stroke="#3ea640" stroke-width="0.6"/>
<line x1="309.50" y1="146.08" x2="311.50" y2="146.08" stroke="#3ea640" stroke-width="0.6"/>
<line x1="314.20" y1="144.40" x2="314.20" y2="147.76" stroke="#3ea640" stroke-width="0.6"/>
<line x1="313.20" y1="144.40" x2="315.20" y2="144.40" stroke="#3ea640" stroke-width="0.6"/>
<line x1="313.20" y1="147.76" x2="315.20" y2="147.76" stroke="#3ea640" stroke-width="0.6"/>
<polyline points="235.80,142.72 275.70,151.12 295.00,146.08 305.00,143.28 310.50,144.40 314.20,146.08" fill="none" stroke="#3ea640" stroke-width="0.9" stroke-linejoin="round"/>
<circle cx="235.80" cy="142.72" r="0.75" fill="#3ea640"/><circle cx="275.70" cy="151.12" r="0.75" fill="#3ea640"/><circle cx="295.00" cy="146.08" r="0.75" fill="#3ea640"/><circle cx="305.00" cy="143.28" r="0.75" fill="#3ea640"/><circle cx="310.50" cy="144.40" r="0.75" fill="#3ea640"/><circle cx="314.20" cy="146.08" r="0.75" fill="#3ea640"/>
<line x1="295.00" y1="101.84" x2="295.00" y2="102.96" stroke="#f2a22a" stroke-width="0.6"/>
<line x1="294.00" y1="101.84" x2="296.00" y2="101.84" stroke="#f2a22a" stroke-width="0.6"/>
<line x1="294.00" y1="102.96" x2="296.00" y2="102.96" stroke="#f2a22a" stroke-width="0.6"/>
<line x1="305.00" y1="102.96" x2="305.00" y2="106.32" stroke="#f2a22a" stroke-width="0.6"/>
<line x1="304.00" y1="102.96" x2="306.00" y2="102.96" stroke="#f2a22a" stroke-width="0.6"/>
<line x1="304.00" y1="106.32" x2="306.00" y2="106.32" stroke="#f2a22a" stroke-width="0.6"/>
<line x1="310.50" y1="116.40" x2="310.50" y2="119.76" stroke="#f2a22a" stroke-width="0.6"/>
<line x1="309.50" y1="116.40" x2="311.50" y2="116.40" stroke="#f2a22a" stroke-width="0.6"/>
<line x1="309.50" y1="119.76" x2="311.50" y2="119.76" stroke="#f2a22a" stroke-width="0.6"/>
<line x1="314.20" y1="153.36" x2="314.20" y2="157.84" stroke="#f2a22a" stroke-width="0.6"/>
<line x1="313.20" y1="153.36" x2="315.20" y2="153.36" stroke="#f2a22a" stroke-width="0.6"/>
<line x1="313.20" y1="157.84" x2="315.20" y2="157.84" stroke="#f2a22a" stroke-width="0.6"/>
<polyline points="235.80,102.40 275.70,102.40 295.00,102.40 305.00,104.64 310.50,118.08 314.20,155.60" fill="none" stroke="#f2a22a" stroke-width="0.9" stroke-linejoin="round"/>
<circle cx="235.80" cy="102.40" r="0.75" fill="#f2a22a"/><circle cx="275.70" cy="102.40" r="0.75" fill="#f2a22a"/><circle cx="295.00" cy="102.40" r="0.75" fill="#f2a22a"/><circle cx="305.00" cy="104.64" r="0.75" fill="#f2a22a"/><circle cx="310.50" cy="118.08" r="0.75" fill="#f2a22a"/><circle cx="314.20" cy="155.60" r="0.75" fill="#f2a22a"/>
<polyline points="235.80,102.40 275.70,102.40 295.00,102.96 305.00,110.80 310.50,122.00 314.20,141.60" fill="none" stroke="#1f3072" stroke-width="0.9" stroke-linejoin="round"/>
<circle cx="235.80" cy="102.40" r="0.75" fill="#1f3072"/><circle cx="275.70" cy="102.40" r="0.75" fill="#1f3072"/><circle cx="295.00" cy="102.96" r="0.75" fill="#1f3072"/><circle cx="305.00" cy="110.80" r="0.75" fill="#1f3072"/><circle cx="310.50" cy="122.00" r="0.75" fill="#1f3072"/><circle cx="314.20" cy="141.60" r="0.75" fill="#1f3072"/>
<text x="274.9" y="94.6" font-size="7.6" text-anchor="middle" fill="#222">MM.1S-CG</text>
<text x="275.2" y="182.6" font-size="9.8" text-anchor="middle" textLength="8.8" lengthAdjust="spacingAndGlyphs" style="stroke:#222;stroke-width:0.24px" fill="#222">E:T</text>
<line x1="357.70" y1="98.40" x2="357.70" y2="159.00" stroke="#222" stroke-width="1.3"/>
<line x1="357.10" y1="158.40" x2="444.50" y2="158.40" stroke="#222" stroke-width="1.2"/>
<line x1="355.50" y1="101.40" x2="357.70" y2="101.40" stroke="#222" stroke-width="0.9"/>
<text x="351.59999999999997" y="103.5" font-size="5.9" text-anchor="end" fill="#2a2a2a">100</text>
<line x1="355.50" y1="129.90" x2="357.70" y2="129.90" stroke="#222" stroke-width="0.9"/>
<text x="351.59999999999997" y="132.0" font-size="5.9" text-anchor="end" fill="#2a2a2a">50</text>
<line x1="355.50" y1="158.40" x2="357.70" y2="158.40" stroke="#222" stroke-width="0.9"/>
<text x="351.59999999999997" y="160.5" font-size="5.9" text-anchor="end" fill="#2a2a2a">0</text>
<line x1="365.30" y1="158.40" x2="365.30" y2="160.60" stroke="#222" stroke-width="0.9"/>
<text x="365.3" y="170.0" font-size="5.8" text-anchor="middle" fill="#2a2a2a">1</text>
<line x1="404.30" y1="158.40" x2="404.30" y2="160.60" stroke="#222" stroke-width="0.9"/>
<text x="404.3" y="170.0" font-size="5.8" text-anchor="middle" fill="#2a2a2a">0.5</text>
<line x1="442.60" y1="158.40" x2="442.60" y2="160.60" stroke="#222" stroke-width="0.9"/>
<text x="442.6" y="170.0" font-size="5.8" text-anchor="middle" fill="#2a2a2a">0</text>
<line x1="365.30" y1="150.42" x2="365.30" y2="153.84" stroke="#c4c4c4" stroke-width="0.6"/>
<line x1="364.30" y1="150.42" x2="366.30" y2="150.42" stroke="#c4c4c4" stroke-width="0.6"/>
<line x1="364.30" y1="153.84" x2="366.30" y2="153.84" stroke="#c4c4c4" stroke-width="0.6"/>
<line x1="404.30" y1="152.13" x2="404.30" y2="155.55" stroke="#c4c4c4" stroke-width="0.6"/>
<line x1="403.30" y1="152.13" x2="405.30" y2="152.13" stroke="#c4c4c4" stroke-width="0.6"/>
<line x1="403.30" y1="155.55" x2="405.30" y2="155.55" stroke="#c4c4c4" stroke-width="0.6"/>
<line x1="423.50" y1="143.58" x2="423.50" y2="148.14" stroke="#c4c4c4" stroke-width="0.6"/>
<line x1="422.50" y1="143.58" x2="424.50" y2="143.58" stroke="#c4c4c4" stroke-width="0.6"/>
<line x1="422.50" y1="148.14" x2="424.50" y2="148.14" stroke="#c4c4c4" stroke-width="0.6"/>
<line x1="433.80" y1="148.71" x2="433.80" y2="153.27" stroke="#c4c4c4" stroke-width="0.6"/>
<line x1="432.80" y1="148.71" x2="434.80" y2="148.71" stroke="#c4c4c4" stroke-width="0.6"/>
<line x1="432.80" y1="153.27" x2="434.80" y2="153.27" stroke="#c4c4c4" stroke-width="0.6"/>
<line x1="438.50" y1="133.89" x2="438.50" y2="140.73" stroke="#c4c4c4" stroke-width="0.6"/>
<line x1="437.50" y1="133.89" x2="439.50" y2="133.89" stroke="#c4c4c4" stroke-width="0.6"/>
<line x1="437.50" y1="140.73" x2="439.50" y2="140.73" stroke="#c4c4c4" stroke-width="0.6"/>
<line x1="442.20" y1="145.86" x2="442.20" y2="150.42" stroke="#c4c4c4" stroke-width="0.6"/>
<line x1="441.20" y1="145.86" x2="443.20" y2="145.86" stroke="#c4c4c4" stroke-width="0.6"/>
<line x1="441.20" y1="150.42" x2="443.20" y2="150.42" stroke="#c4c4c4" stroke-width="0.6"/>
<polyline points="365.30,152.13 404.30,153.84 423.50,145.86 433.80,150.99 438.50,137.31 442.20,148.14" fill="none" stroke="#c4c4c4" stroke-width="0.9" stroke-linejoin="round"/>
<circle cx="365.30" cy="152.13" r="0.75" fill="#c4c4c4"/><circle cx="404.30" cy="153.84" r="0.75" fill="#c4c4c4"/><circle cx="423.50" cy="145.86" r="0.75" fill="#c4c4c4"/><circle cx="433.80" cy="150.99" r="0.75" fill="#c4c4c4"/><circle cx="438.50" cy="137.31" r="0.75" fill="#c4c4c4"/><circle cx="442.20" cy="148.14" r="0.75" fill="#c4c4c4"/>
<line x1="365.30" y1="147.00" x2="365.30" y2="157.26" stroke="#3ea640" stroke-width="0.6"/>
<line x1="364.30" y1="147.00" x2="366.30" y2="147.00" stroke="#3ea640" stroke-width="0.6"/>
<line x1="364.30" y1="157.26" x2="366.30" y2="157.26" stroke="#3ea640" stroke-width="0.6"/>
<line x1="404.30" y1="153.27" x2="404.30" y2="156.69" stroke="#3ea640" stroke-width="0.6"/>
<line x1="403.30" y1="153.27" x2="405.30" y2="153.27" stroke="#3ea640" stroke-width="0.6"/>
<line x1="403.30" y1="156.69" x2="405.30" y2="156.69" stroke="#3ea640" stroke-width="0.6"/>
<line x1="423.50" y1="151.56" x2="423.50" y2="157.26" stroke="#3ea640" stroke-width="0.6"/>
<line x1="422.50" y1="151.56" x2="424.50" y2="151.56" stroke="#3ea640" stroke-width="0.6"/>
<line x1="422.50" y1="157.26" x2="424.50" y2="157.26" stroke="#3ea640" stroke-width="0.6"/>
<line x1="433.80" y1="157.26" x2="433.80" y2="159.54" stroke="#3ea640" stroke-width="0.6"/>
<line x1="432.80" y1="157.26" x2="434.80" y2="157.26" stroke="#3ea640" stroke-width="0.6"/>
<line x1="432.80" y1="159.54" x2="434.80" y2="159.54" stroke="#3ea640" stroke-width="0.6"/>
<line x1="438.50" y1="140.73" x2="438.50" y2="147.57" stroke="#3ea640" stroke-width="0.6"/>
<line x1="437.50" y1="140.73" x2="439.50" y2="140.73" stroke="#3ea640" stroke-width="0.6"/>
<line x1="437.50" y1="147.57" x2="439.50" y2="147.57" stroke="#3ea640" stroke-width="0.6"/>
<line x1="442.20" y1="156.12" x2="442.20" y2="158.40" stroke="#3ea640" stroke-width="0.6"/>
<line x1="441.20" y1="156.12" x2="443.20" y2="156.12" stroke="#3ea640" stroke-width="0.6"/>
<line x1="441.20" y1="158.40" x2="443.20" y2="158.40" stroke="#3ea640" stroke-width="0.6"/>
<polyline points="365.30,152.13 404.30,154.98 423.50,154.41 433.80,158.40 438.50,144.15 442.20,157.26" fill="none" stroke="#3ea640" stroke-width="0.9" stroke-linejoin="round"/>
<circle cx="365.30" cy="152.13" r="0.75" fill="#3ea640"/><circle cx="404.30" cy="154.98" r="0.75" fill="#3ea640"/><circle cx="423.50" cy="154.41" r="0.75" fill="#3ea640"/><circle cx="433.80" cy="158.40" r="0.75" fill="#3ea640"/><circle cx="438.50" cy="144.15" r="0.75" fill="#3ea640"/><circle cx="442.20" cy="157.26" r="0.75" fill="#3ea640"/>
<line x1="423.50" y1="103.68" x2="423.50" y2="104.82" stroke="#f2a22a" stroke-width="0.6"/>
<line x1="422.50" y1="103.68" x2="424.50" y2="103.68" stroke="#f2a22a" stroke-width="0.6"/>
<line x1="422.50" y1="104.82" x2="424.50" y2="104.82" stroke="#f2a22a" stroke-width="0.6"/>
<line x1="433.80" y1="115.65" x2="433.80" y2="117.93" stroke="#f2a22a" stroke-width="0.6"/>
<line x1="432.80" y1="115.65" x2="434.80" y2="115.65" stroke="#f2a22a" stroke-width="0.6"/>
<line x1="432.80" y1="117.93" x2="434.80" y2="117.93" stroke="#f2a22a" stroke-width="0.6"/>
<line x1="438.50" y1="115.65" x2="438.50" y2="117.93" stroke="#f2a22a" stroke-width="0.6"/>
<line x1="437.50" y1="115.65" x2="439.50" y2="115.65" stroke="#f2a22a" stroke-width="0.6"/>
<line x1="437.50" y1="117.93" x2="439.50" y2="117.93" stroke="#f2a22a" stroke-width="0.6"/>
<line x1="442.20" y1="137.88" x2="442.20" y2="147.00" stroke="#f2a22a" stroke-width="0.6"/>
<line x1="441.20" y1="137.88" x2="443.20" y2="137.88" stroke="#f2a22a" stroke-width="0.6"/>
<line x1="441.20" y1="147.00" x2="443.20" y2="147.00" stroke="#f2a22a" stroke-width="0.6"/>
<polyline points="365.30,101.40 404.30,102.54 423.50,104.25 433.80,116.79 438.50,116.79 442.20,142.44" fill="none" stroke="#f2a22a" stroke-width="0.9" stroke-linejoin="round"/>
<circle cx="365.30" cy="101.40" r="0.75" fill="#f2a22a"/><circle cx="404.30" cy="102.54" r="0.75" fill="#f2a22a"/><circle cx="423.50" cy="104.25" r="0.75" fill="#f2a22a"/><circle cx="433.80" cy="116.79" r="0.75" fill="#f2a22a"/><circle cx="438.50" cy="116.79" r="0.75" fill="#f2a22a"/><circle cx="442.20" cy="142.44" r="0.75" fill="#f2a22a"/>
<line x1="423.50" y1="104.82" x2="423.50" y2="105.96" stroke="#1f3072" stroke-width="0.6"/>
<line x1="422.50" y1="104.82" x2="424.50" y2="104.82" stroke="#1f3072" stroke-width="0.6"/>
<line x1="422.50" y1="105.96" x2="424.50" y2="105.96" stroke="#1f3072" stroke-width="0.6"/>
<line x1="433.80" y1="118.50" x2="433.80" y2="120.78" stroke="#1f3072" stroke-width="0.6"/>
<line x1="432.80" y1="118.50" x2="434.80" y2="118.50" stroke="#1f3072" stroke-width="0.6"/>
<line x1="432.80" y1="120.78" x2="434.80" y2="120.78" stroke="#1f3072" stroke-width="0.6"/>
<line x1="438.50" y1="119.07" x2="438.50" y2="122.49" stroke="#1f3072" stroke-width="0.6"/>
<line x1="437.50" y1="119.07" x2="439.50" y2="119.07" stroke="#1f3072" stroke-width="0.6"/>
<line x1="437.50" y1="122.49" x2="439.50" y2="122.49" stroke="#1f3072" stroke-width="0.6"/>
<line x1="442.20" y1="147.57" x2="442.20" y2="149.85" stroke="#1f3072" stroke-width="0.6"/>
<line x1="441.20" y1="147.57" x2="443.20" y2="147.57" stroke="#1f3072" stroke-width="0.6"/>
<line x1="441.20" y1="149.85" x2="443.20" y2="149.85" stroke="#1f3072" stroke-width="0.6"/>
<polyline points="365.30,101.97 404.30,102.54 423.50,105.39 433.80,119.64 438.50,120.78 442.20,148.71" fill="none" stroke="#1f3072" stroke-width="0.9" stroke-linejoin="round"/>
<circle cx="365.30" cy="101.97" r="0.75" fill="#1f3072"/><circle cx="404.30" cy="102.54" r="0.75" fill="#1f3072"/><circle cx="423.50" cy="105.39" r="0.75" fill="#1f3072"/><circle cx="433.80" cy="119.64" r="0.75" fill="#1f3072"/><circle cx="438.50" cy="120.78" r="0.75" fill="#1f3072"/><circle cx="442.20" cy="148.71" r="0.75" fill="#1f3072"/>
<text x="402.6" y="94.6" font-size="7.6" text-anchor="middle" fill="#222">OPM2-CG</text>
<text x="407.9" y="182.6" font-size="9.8" text-anchor="middle" textLength="8.8" lengthAdjust="spacingAndGlyphs" style="stroke:#222;stroke-width:0.24px" fill="#222">E:T</text>
<text x="209.6" y="128.6" font-size="8.6" text-anchor="middle" textLength="23.5" lengthAdjust="spacingAndGlyphs" transform="rotate(-90 209.6 128.6)" style="stroke:#222;stroke-width:0.24px" fill="#222">% Killing</text>
<text x="335.4" y="128.2" font-size="8.6" text-anchor="middle" textLength="24.0" lengthAdjust="spacingAndGlyphs" transform="rotate(-90 335.4 128.2)" style="stroke:#222;stroke-width:0.24px" fill="#222">% Killing</text>
<line x1="284.00" y1="191.00" x2="297.00" y2="191.00" stroke="#3ea640" stroke-width="0.9"/>
<circle cx="290.50" cy="191.00" r="0.7" fill="#3ea640"/>
<text x="300.6" y="192.9" font-size="5.4" fill="#2a2a2a">UTD T-cells</text>
<line x1="337.00" y1="191.00" x2="350.00" y2="191.00" stroke="#c4c4c4" stroke-width="0.9"/>
<circle cx="343.50" cy="191.00" r="0.7" fill="#c4c4c4"/>
<text x="353.6" y="192.9" font-size="5.4" fill="#2a2a2a">UTD iNKT cells</text>
<line x1="284.00" y1="200.80" x2="297.00" y2="200.80" stroke="#1f3072" stroke-width="0.9"/>
<circle cx="290.50" cy="200.80" r="0.7" fill="#1f3072"/>
<text x="300.6" y="202.70000000000002" font-size="5.4" fill="#2a2a2a">BCMA CAR-T</text>
<line x1="337.00" y1="200.80" x2="350.00" y2="200.80" stroke="#f2a22a" stroke-width="0.9"/>
<circle cx="343.50" cy="200.80" r="0.7" fill="#f2a22a"/>
<text x="353.6" y="202.70000000000002" font-size="5.4" fill="#2a2a2a">BCMA CAR-iNKT</text>
<text x="7.9" y="242.3" font-size="11.2" font-weight="bold" fill="#111">D</text>
<rect x="17.3" y="245.3" width="46.2" height="22.8" fill="#fff" stroke="#333" stroke-width="0.9"/>
<text x="40.4" y="254.5" font-size="6.3" text-anchor="middle" fill="#2a2a2a">Engraft</text>
<text x="40.4" y="263.0" font-size="6.3" text-anchor="middle" fill="#2a2a2a">MM. 1S-CG</text>
<rect x="68.1" y="245.3" width="43.5" height="22.8" fill="#fff" stroke="#333" stroke-width="0.9"/>
<text x="89.85" y="254.5" font-size="6.3" text-anchor="middle" fill="#2a2a2a">Treat with</text>
<text x="89.85" y="263.0" font-size="6.3" text-anchor="middle" fill="#2a2a2a">CAR-iNKT</text>
<rect x="120.1" y="245.3" width="26.0" height="22.8" fill="#fff" stroke="#333" stroke-width="0.9"/>
<text x="133.1" y="254.5" font-size="6.3" text-anchor="middle" fill="#2a2a2a">Blood</text>
<text x="133.1" y="263.0" font-size="6.3" text-anchor="middle" fill="#2a2a2a">Flow</text>
<rect x="150.8" y="245.3" width="25.8" height="22.8" fill="#fff" stroke="#333" stroke-width="0.9"/>
<text x="163.7" y="254.5" font-size="6.3" text-anchor="middle" fill="#2a2a2a">Blood</text>
<text x="163.7" y="263.0" font-size="6.3" text-anchor="middle" fill="#2a2a2a">Flow</text>
<line x1="38.00" y1="274.40" x2="182.50" y2="274.40" stroke="#333" stroke-width="0.9"/>
<line x1="38.10" y1="268.10" x2="38.10" y2="277.20" stroke="#333" stroke-width="0.9"/>
<text x="40.1" y="286.0" font-size="6.3" text-anchor="middle" fill="#2a2a2a">Day 0</text>
<line x1="87.80" y1="268.10" x2="87.80" y2="277.20" stroke="#333" stroke-width="0.9"/>
<text x="87.8" y="286.0" font-size="6.3" text-anchor="middle" fill="#2a2a2a">18</text>
<line x1="133.20" y1="268.10" x2="133.20" y2="277.20" stroke="#333" stroke-width="0.9"/>
<text x="133.2" y="286.0" font-size="6.3" text-anchor="middle" fill="#2a2a2a">24</text>
<line x1="164.10" y1="268.10" x2="164.10" y2="277.20" stroke="#333" stroke-width="0.9"/>
<text x="164.1" y="286.0" font-size="6.3" text-anchor="middle" fill="#2a2a2a">31</text>
<text x="8.0" y="307.9" font-size="11.2" font-weight="bold" fill="#111">E</text>
<line x1="36.90" y1="311.90" x2="36.90" y2="387.90" stroke="#222" stroke-width="1.3"/>
<line x1="36.30" y1="387.30" x2="147.80" y2="387.30" stroke="#222" stroke-width="1.2"/>
<line x1="34.70" y1="314.20" x2="36.90" y2="314.20" stroke="#222" stroke-width="0.9"/>
<text x="30.799999999999997" y="316.3" font-size="5.9" text-anchor="end" fill="#2a2a2a">100</text>
<line x1="34.70" y1="350.75" x2="36.90" y2="350.75" stroke="#222" stroke-width="0.9"/>
<text x="30.799999999999997" y="352.85" font-size="5.9" text-anchor="end" fill="#2a2a2a">50</text>
<line x1="34.70" y1="387.30" x2="36.90" y2="387.30" stroke="#222" stroke-width="0.9"/>
<text x="30.799999999999997" y="389.40000000000003" font-size="5.9" text-anchor="end" fill="#2a2a2a">0</text>
<line x1="55.29" y1="387.30" x2="55.29" y2="389.50" stroke="#222" stroke-width="0.9"/>
<text x="55.2875" y="399.8" font-size="5.8" text-anchor="middle" fill="#2a2a2a">25</text>
<line x1="73.68" y1="387.30" x2="73.68" y2="389.50" stroke="#222" stroke-width="0.9"/>
<text x="73.67500000000001" y="399.8" font-size="5.8" text-anchor="middle" fill="#2a2a2a">50</text>
<line x1="92.06" y1="387.30" x2="92.06" y2="389.50" stroke="#222" stroke-width="0.9"/>
<text x="92.0625" y="399.8" font-size="5.8" text-anchor="middle" fill="#2a2a2a">75</text>
<line x1="110.45" y1="387.30" x2="110.45" y2="389.50" stroke="#222" stroke-width="0.9"/>
<text x="110.45000000000002" y="399.8" font-size="5.8" text-anchor="middle" fill="#2a2a2a">100</text>
<line x1="128.84" y1="387.30" x2="128.84" y2="389.50" stroke="#222" stroke-width="0.9"/>
<text x="128.8375" y="399.8" font-size="5.8" text-anchor="middle" fill="#2a2a2a">125</text>
<line x1="147.22" y1="387.30" x2="147.22" y2="389.50" stroke="#222" stroke-width="0.9"/>
<text x="147.225" y="399.8" font-size="5.8" text-anchor="middle" fill="#2a2a2a">150</text>
<text x="93.3" y="411.6" font-size="8.4" text-anchor="middle" textLength="32.2" lengthAdjust="spacingAndGlyphs" style="stroke:#222;stroke-width:0.24px" fill="#222">Time (days)</text>
<text x="15.0" y="349.1" font-size="9.2" text-anchor="middle" textLength="28.9" lengthAdjust="spacingAndGlyphs" transform="rotate(-90 15.0 349.1)" style="stroke:#222;stroke-width:0.24px" fill="#222">% Survival</text>
<path d="M36.9,314.2 H62.6 V343.5 H65.2 V387.3" fill="none" stroke="#cfcfcf" stroke-width="1.2"/>
<path d="M36.9,314.2 H55.4 V328.5 H65.7 V358.5 H67.7 V387.3" fill="none" stroke="#4d565e" stroke-width="1.1"/>
<path d="M36.9,314.2 H62.6 V324.3 H69.7 V335 H71.2 V345.8 H72.3 V356.1 H80.8 V366.5 H82.8 V377 H101.5 V387.3" fill="none" stroke="#d8267c" stroke-width="1.2"/>
<path d="M36.9,314.2 H84.6 V321 H86.0 V330.4 H95.8 V338.5 H118.3 V354.3 H121.6 V363.5 H136.7 V371 H146.8" fill="none" stroke="#f2a22a" stroke-width="1.2"/>
<text x="104.0" y="335.6" font-size="6.2" textLength="21.5" lengthAdjust="spacingAndGlyphs" fill="#222"><tspan font-style="italic">P</tspan> &lt; .001</text>
<text x="89.0" y="373.8" font-size="6.2" textLength="22" lengthAdjust="spacingAndGlyphs" fill="#222"><tspan font-style="italic">P</tspan> = .002</text>
<line x1="43.20" y1="420.80" x2="55.70" y2="420.80" stroke="#4d565e" stroke-width="0.9"/>
<circle cx="49.40" cy="420.80" r="0.7" fill="#4d565e"/>
<text x="58.0" y="422.8" font-size="5.9" fill="#2a2a2a">Untreated</text>
<line x1="94.00" y1="420.80" x2="106.50" y2="420.80" stroke="#f2a22a" stroke-width="0.9"/>
<circle cx="100.20" cy="420.80" r="0.7" fill="#f2a22a"/>
<text x="108.8" y="422.8" font-size="5.9" textLength="33.6" lengthAdjust="spacingAndGlyphs" fill="#2a2a2a">BCMA 10x10<tspan font-size="3.6" dy="-2.4">6</tspan></text>
<line x1="43.20" y1="429.90" x2="55.70" y2="429.90" stroke="#c8c8c8" stroke-width="0.9"/>
<circle cx="49.40" cy="429.90" r="0.7" fill="#c8c8c8"/>
<text x="58.0" y="431.9" font-size="5.9" textLength="33.6" lengthAdjust="spacingAndGlyphs" fill="#2a2a2a">CD19 10x10<tspan font-size="3.6" dy="-2.4">6</tspan></text>
<line x1="94.00" y1="429.90" x2="106.50" y2="429.90" stroke="#d8267c" stroke-width="0.9"/>
<circle cx="100.20" cy="429.90" r="0.7" fill="#d8267c"/>
<text x="108.8" y="431.9" font-size="5.9" textLength="31.5" lengthAdjust="spacingAndGlyphs" fill="#2a2a2a">BCMA 2x10<tspan font-size="3.6" dy="-2.4">6</tspan></text>
<text x="8.0" y="454.6" font-size="11.2" font-weight="bold" fill="#111">G</text>
<line x1="37.70" y1="459.60" x2="37.70" y2="537.80" stroke="#222" stroke-width="1.4"/>
<line x1="37.10" y1="537.30" x2="151.50" y2="537.30" stroke="#222" stroke-width="1.2"/>
<line x1="35.50" y1="463.00" x2="37.70" y2="463.00" stroke="#222" stroke-width="0.9"/>
<text x="31.700000000000003" y="466.50" font-size="5.8" text-anchor="end" fill="#2a2a2a">10<tspan font-size="3.6" dy="-2.8">12</tspan></text>
<line x1="36.40" y1="471.66" x2="37.70" y2="471.66" stroke="#222" stroke-width="0.6"/>
<line x1="36.40" y1="469.47" x2="37.70" y2="469.47" stroke="#222" stroke-width="0.6"/>
<line x1="36.40" y1="467.93" x2="37.70" y2="467.93" stroke="#222" stroke-width="0.6"/>
<line x1="36.40" y1="466.73" x2="37.70" y2="466.73" stroke="#222" stroke-width="0.6"/>
<line x1="36.40" y1="465.75" x2="37.70" y2="465.75" stroke="#222" stroke-width="0.6"/>
<line x1="36.40" y1="464.92" x2="37.70" y2="464.92" stroke="#222" stroke-width="0.6"/>
<line x1="36.40" y1="464.20" x2="37.70" y2="464.20" stroke="#222" stroke-width="0.6"/>
<line x1="36.40" y1="463.57" x2="37.70" y2="463.57" stroke="#222" stroke-width="0.6"/>
<line x1="35.50" y1="475.38" x2="37.70" y2="475.38" stroke="#222" stroke-width="0.9"/>
<text x="31.700000000000003" y="478.88" font-size="5.8" text-anchor="end" fill="#2a2a2a">10<tspan font-size="3.6" dy="-2.8">11</tspan></text>
<line x1="36.40" y1="484.04" x2="37.70" y2="484.04" stroke="#222" stroke-width="0.6"/>
<line x1="36.40" y1="481.86" x2="37.70" y2="481.86" stroke="#222" stroke-width="0.6"/>
<line x1="36.40" y1="480.31" x2="37.70" y2="480.31" stroke="#222" stroke-width="0.6"/>
<line x1="36.40" y1="479.11" x2="37.70" y2="479.11" stroke="#222" stroke-width="0.6"/>
<line x1="36.40" y1="478.13" x2="37.70" y2="478.13" stroke="#222" stroke-width="0.6"/>
<line x1="36.40" y1="477.30" x2="37.70" y2="477.30" stroke="#222" stroke-width="0.6"/>
<line x1="36.40" y1="476.58" x2="37.70" y2="476.58" stroke="#222" stroke-width="0.6"/>
<line x1="36.40" y1="475.95" x2="37.70" y2="475.95" stroke="#222" stroke-width="0.6"/>
<line x1="35.50" y1="487.77" x2="37.70" y2="487.77" stroke="#222" stroke-width="0.9"/>
<text x="31.700000000000003" y="491.27" font-size="5.8" text-anchor="end" fill="#2a2a2a">10<tspan font-size="3.6" dy="-2.8">10</tspan></text>
<line x1="36.40" y1="496.42" x2="37.70" y2="496.42" stroke="#222" stroke-width="0.6"/>
<line x1="36.40" y1="494.24" x2="37.70" y2="494.24" stroke="#222" stroke-width="0.6"/>
<line x1="36.40" y1="492.69" x2="37.70" y2="492.69" stroke="#222" stroke-width="0.6"/>
<line x1="36.40" y1="491.49" x2="37.70" y2="491.49" stroke="#222" stroke-width="0.6"/>
<line x1="36.40" y1="490.51" x2="37.70" y2="490.51" stroke="#222" stroke-width="0.6"/>
<line x1="36.40" y1="489.68" x2="37.70" y2="489.68" stroke="#222" stroke-width="0.6"/>
<line x1="36.40" y1="488.97" x2="37.70" y2="488.97" stroke="#222" stroke-width="0.6"/>
<line x1="36.40" y1="488.33" x2="37.70" y2="488.33" stroke="#222" stroke-width="0.6"/>
<line x1="35.50" y1="500.15" x2="37.70" y2="500.15" stroke="#222" stroke-width="0.9"/>
<text x="31.700000000000003" y="503.65" font-size="5.8" text-anchor="end" fill="#2a2a2a">10<tspan font-size="3.6" dy="-2.8">9</tspan></text>
<line x1="36.40" y1="508.81" x2="37.70" y2="508.81" stroke="#222" stroke-width="0.6"/>
<line x1="36.40" y1="506.62" x2="37.70" y2="506.62" stroke="#222" stroke-width="0.6"/>
<line x1="36.40" y1="505.08" x2="37.70" y2="505.08" stroke="#222" stroke-width="0.6"/>
<line x1="36.40" y1="503.88" x2="37.70" y2="503.88" stroke="#222" stroke-width="0.6"/>
<line x1="36.40" y1="502.90" x2="37.70" y2="502.90" stroke="#222" stroke-width="0.6"/>
<line x1="36.40" y1="502.07" x2="37.70" y2="502.07" stroke="#222" stroke-width="0.6"/>
<line x1="36.40" y1="501.35" x2="37.70" y2="501.35" stroke="#222" stroke-width="0.6"/>
<line x1="36.40" y1="500.72" x2="37.70" y2="500.72" stroke="#222" stroke-width="0.6"/>
<line x1="35.50" y1="512.53" x2="37.70" y2="512.53" stroke="#222" stroke-width="0.9"/>
<text x="31.700000000000003" y="516.03" font-size="5.8" text-anchor="end" fill="#2a2a2a">10<tspan font-size="3.6" dy="-2.8">8</tspan></text>
<line x1="36.40" y1="521.19" x2="37.70" y2="521.19" stroke="#222" stroke-width="0.6"/>
<line x1="36.40" y1="519.01" x2="37.70" y2="519.01" stroke="#222" stroke-width="0.6"/>
<line x1="36.40" y1="517.46" x2="37.70" y2="517.46" stroke="#222" stroke-width="0.6"/>
<line x1="36.40" y1="516.26" x2="37.70" y2="516.26" stroke="#222" stroke-width="0.6"/>
<line x1="36.40" y1="515.28" x2="37.70" y2="515.28" stroke="#222" stroke-width="0.6"/>
<line x1="36.40" y1="514.45" x2="37.70" y2="514.45" stroke="#222" stroke-width="0.6"/>
<line x1="36.40" y1="513.73" x2="37.70" y2="513.73" stroke="#222" stroke-width="0.6"/>
<line x1="36.40" y1="513.10" x2="37.70" y2="513.10" stroke="#222" stroke-width="0.6"/>
<line x1="35.50" y1="524.92" x2="37.70" y2="524.92" stroke="#222" stroke-width="0.9"/>
<text x="31.700000000000003" y="528.42" font-size="5.8" text-anchor="end" fill="#2a2a2a">10<tspan font-size="3.6" dy="-2.8">7</tspan></text>
<line x1="36.40" y1="533.57" x2="37.70" y2="533.57" stroke="#222" stroke-width="0.6"/>
<line x1="36.40" y1="531.39" x2="37.70" y2="531.39" stroke="#222" stroke-width="0.6"/>
<line x1="36.40" y1="529.84" x2="37.70" y2="529.84" stroke="#222" stroke-width="0.6"/>
<line x1="36.40" y1="528.64" x2="37.70" y2="528.64" stroke="#222" stroke-width="0.6"/>
<line x1="36.40" y1="527.66" x2="37.70" y2="527.66" stroke="#222" stroke-width="0.6"/>
<line x1="36.40" y1="526.83" x2="37.70" y2="526.83" stroke="#222" stroke-width="0.6"/>
<line x1="36.40" y1="526.12" x2="37.70" y2="526.12" stroke="#222" stroke-width="0.6"/>
<line x1="36.40" y1="525.48" x2="37.70" y2="525.48" stroke="#222" stroke-width="0.6"/>
<line x1="35.50" y1="537.30" x2="37.70" y2="537.30" stroke="#222" stroke-width="0.9"/>
<text x="31.700000000000003" y="540.80" font-size="5.8" text-anchor="end" fill="#2a2a2a">10<tspan font-size="3.6" dy="-2.8">6</tspan></text>
<line x1="50.00" y1="537.30" x2="50.00" y2="539.50" stroke="#222" stroke-width="0.9"/>
<text x="50.0" y="549.6999999999999" font-size="6.6" text-anchor="middle" fill="#2a2a2a">25</text>
<line x1="69.80" y1="537.30" x2="69.80" y2="539.50" stroke="#222" stroke-width="0.9"/>
<text x="69.8" y="549.6999999999999" font-size="6.6" text-anchor="middle" fill="#2a2a2a">50</text>
<line x1="89.60" y1="537.30" x2="89.60" y2="539.50" stroke="#222" stroke-width="0.9"/>
<text x="89.60000000000001" y="549.6999999999999" font-size="6.6" text-anchor="middle" fill="#2a2a2a">75</text>
<line x1="109.40" y1="537.30" x2="109.40" y2="539.50" stroke="#222" stroke-width="0.9"/>
<text x="109.4" y="549.6999999999999" font-size="6.6" text-anchor="middle" fill="#2a2a2a">100</text>
<line x1="129.20" y1="537.30" x2="129.20" y2="539.50" stroke="#222" stroke-width="0.9"/>
<text x="129.2" y="549.6999999999999" font-size="6.6" text-anchor="middle" fill="#2a2a2a">125</text>
<line x1="149.00" y1="537.30" x2="149.00" y2="539.50" stroke="#222" stroke-width="0.9"/>
<text x="149.0" y="549.6999999999999" font-size="6.6" text-anchor="middle" fill="#2a2a2a">150</text>
<text x="93.2" y="563.2" font-size="8.4" text-anchor="middle" textLength="32.6" lengthAdjust="spacingAndGlyphs" style="stroke:#222;stroke-width:0.24px" fill="#222">Time (days)</text>
<text x="15.4" y="498.4" font-size="9.0" text-anchor="middle" textLength="25.0" lengthAdjust="spacingAndGlyphs" transform="rotate(-90 15.4 498.4)" style="stroke:#222;stroke-width:0.24px" fill="#222">Photon flux</text>
<polyline points="44.46,508.82 46.83,501.39 50.00,490.24 52.38,482.81 55.54,477.86 57.92,472.91 61.09,470.43" fill="none" stroke="#c4c4c4" stroke-width="1.1" stroke-linejoin="round"/>
<circle cx="44.46" cy="508.82" r="1.0" fill="#c4c4c4"/><circle cx="46.83" cy="501.39" r="1.0" fill="#c4c4c4"/><circle cx="50.00" cy="490.24" r="1.0" fill="#c4c4c4"/><circle cx="52.38" cy="482.81" r="1.0" fill="#c4c4c4"/><circle cx="55.54" cy="477.86" r="1.0" fill="#c4c4c4"/><circle cx="57.92" cy="472.91" r="1.0" fill="#c4c4c4"/><circle cx="61.09" cy="470.43" r="1.0" fill="#c4c4c4"/>
<polyline points="44.46,505.10 46.83,496.43 50.00,487.77 52.38,480.34 55.54,475.38 57.92,471.67" fill="none" stroke="#c4c4c4" stroke-width="1.1" stroke-linejoin="round"/>
<circle cx="44.46" cy="505.10" r="1.0" fill="#c4c4c4"/><circle cx="46.83" cy="496.43" r="1.0" fill="#c4c4c4"/><circle cx="50.00" cy="487.77" r="1.0" fill="#c4c4c4"/><circle cx="52.38" cy="480.34" r="1.0" fill="#c4c4c4"/><circle cx="55.54" cy="475.38" r="1.0" fill="#c4c4c4"/><circle cx="57.92" cy="471.67" r="1.0" fill="#c4c4c4"/>
<polyline points="44.46,512.53 46.83,503.87 50.00,492.72 52.38,486.53 55.54,481.57 57.92,476.62 61.09,474.14" fill="none" stroke="#c4c4c4" stroke-width="1.1" stroke-linejoin="round"/>
<circle cx="44.46" cy="512.53" r="1.0" fill="#c4c4c4"/><circle cx="46.83" cy="503.87" r="1.0" fill="#c4c4c4"/><circle cx="50.00" cy="492.72" r="1.0" fill="#c4c4c4"/><circle cx="52.38" cy="486.53" r="1.0" fill="#c4c4c4"/><circle cx="55.54" cy="481.57" r="1.0" fill="#c4c4c4"/><circle cx="57.92" cy="476.62" r="1.0" fill="#c4c4c4"/><circle cx="61.09" cy="474.14" r="1.0" fill="#c4c4c4"/>
<polyline points="44.46,502.63 46.83,493.96 50.00,485.29 52.38,479.10 55.54,474.14" fill="none" stroke="#c4c4c4" stroke-width="1.1" stroke-linejoin="round"/>
<circle cx="44.46" cy="502.63" r="1.0" fill="#c4c4c4"/><circle cx="46.83" cy="493.96" r="1.0" fill="#c4c4c4"/><circle cx="50.00" cy="485.29" r="1.0" fill="#c4c4c4"/><circle cx="52.38" cy="479.10" r="1.0" fill="#c4c4c4"/><circle cx="55.54" cy="474.14" r="1.0" fill="#c4c4c4"/>
<polyline points="44.46,517.49 46.83,505.10 50.00,495.20 52.38,487.77 55.54,482.81 57.92,479.10 61.09,476.62" fill="none" stroke="#4d565e" stroke-width="1.0" stroke-linejoin="round"/>
<circle cx="44.46" cy="517.49" r="1.0" fill="#4d565e"/><circle cx="46.83" cy="505.10" r="1.0" fill="#4d565e"/><circle cx="50.00" cy="495.20" r="1.0" fill="#4d565e"/><circle cx="52.38" cy="487.77" r="1.0" fill="#4d565e"/><circle cx="55.54" cy="482.81" r="1.0" fill="#4d565e"/><circle cx="57.92" cy="479.10" r="1.0" fill="#4d565e"/><circle cx="61.09" cy="476.62" r="1.0" fill="#4d565e"/>
<polyline points="44.46,515.01 46.83,507.58 50.00,497.67 52.38,491.48 55.54,485.29 61.09,480.34 66.63,474.14" fill="none" stroke="#4d565e" stroke-width="1.0" stroke-linejoin="round"/>
<circle cx="44.46" cy="515.01" r="1.0" fill="#4d565e"/><circle cx="46.83" cy="507.58" r="1.0" fill="#4d565e"/><circle cx="50.00" cy="497.67" r="1.0" fill="#4d565e"/><circle cx="52.38" cy="491.48" r="1.0" fill="#4d565e"/><circle cx="55.54" cy="485.29" r="1.0" fill="#4d565e"/><circle cx="61.09" cy="480.34" r="1.0" fill="#4d565e"/><circle cx="66.63" cy="474.14" r="1.0" fill="#4d565e"/>
<polyline points="44.46,510.06 46.83,501.39 50.00,493.96 52.38,485.29 55.54,477.86 57.92,475.38" fill="none" stroke="#4d565e" stroke-width="1.0" stroke-linejoin="round"/>
<circle cx="44.46" cy="510.06" r="1.0" fill="#4d565e"/><circle cx="46.83" cy="501.39" r="1.0" fill="#4d565e"/><circle cx="50.00" cy="493.96" r="1.0" fill="#4d565e"/><circle cx="52.38" cy="485.29" r="1.0" fill="#4d565e"/><circle cx="55.54" cy="477.86" r="1.0" fill="#4d565e"/><circle cx="57.92" cy="475.38" r="1.0" fill="#4d565e"/>
<polyline points="44.46,502.63 46.83,524.92 50.00,533.58 55.54,534.82 61.09,533.58 66.63,535.44 72.18,533.58 77.72,534.82 83.26,534.82 88.81,531.11 94.35,533.58 100.69,534.20 110.98,534.20 122.07,535.44 133.16,534.20 144.25,534.20" fill="none" stroke="#f2a22a" stroke-width="1.05" stroke-linejoin="round"/>
<circle cx="44.46" cy="502.63" r="1.05" fill="#f2a22a"/><circle cx="46.83" cy="524.92" r="1.05" fill="#f2a22a"/><circle cx="50.00" cy="533.58" r="1.05" fill="#f2a22a"/><circle cx="55.54" cy="534.82" r="1.05" fill="#f2a22a"/><circle cx="61.09" cy="533.58" r="1.05" fill="#f2a22a"/><circle cx="66.63" cy="535.44" r="1.05" fill="#f2a22a"/><circle cx="72.18" cy="533.58" r="1.05" fill="#f2a22a"/><circle cx="77.72" cy="534.82" r="1.05" fill="#f2a22a"/><circle cx="83.26" cy="534.82" r="1.05" fill="#f2a22a"/><circle cx="88.81" cy="531.11" r="1.05" fill="#f2a22a"/><circle cx="94.35" cy="533.58" r="1.05" fill="#f2a22a"/><circle cx="100.69" cy="534.20" r="1.05" fill="#f2a22a"/><circle cx="110.98" cy="534.20" r="1.05" fill="#f2a22a"/><circle cx="122.07" cy="535.44" r="1.05" fill="#f2a22a"/><circle cx="133.16" cy="534.20" r="1.05" fill="#f2a22a"/><circle cx="144.25" cy="534.20" r="1.05" fill="#f2a22a"/>
<polyline points="44.46,500.15 46.83,518.72 50.00,531.11 55.54,527.39 61.09,521.20 66.63,511.29 72.18,502.63 77.72,493.96 83.26,485.29 88.81,477.86 94.35,472.91 100.69,471.67 110.98,471.67 122.07,472.16 133.16,466.47" fill="none" stroke="#f2a22a" stroke-width="1.05" stroke-linejoin="round"/>
<circle cx="44.46" cy="500.15" r="1.05" fill="#f2a22a"/><circle cx="46.83" cy="518.72" r="1.05" fill="#f2a22a"/><circle cx="50.00" cy="531.11" r="1.05" fill="#f2a22a"/><circle cx="55.54" cy="527.39" r="1.05" fill="#f2a22a"/><circle cx="61.09" cy="521.20" r="1.05" fill="#f2a22a"/><circle cx="66.63" cy="511.29" r="1.05" fill="#f2a22a"/><circle cx="72.18" cy="502.63" r="1.05" fill="#f2a22a"/><circle cx="77.72" cy="493.96" r="1.05" fill="#f2a22a"/><circle cx="83.26" cy="485.29" r="1.05" fill="#f2a22a"/><circle cx="88.81" cy="477.86" r="1.05" fill="#f2a22a"/><circle cx="94.35" cy="472.91" r="1.05" fill="#f2a22a"/><circle cx="100.69" cy="471.67" r="1.05" fill="#f2a22a"/><circle cx="110.98" cy="471.67" r="1.05" fill="#f2a22a"/><circle cx="122.07" cy="472.16" r="1.05" fill="#f2a22a"/><circle cx="133.16" cy="466.47" r="1.05" fill="#f2a22a"/>
<polyline points="44.46,506.34 46.83,522.44 50.00,527.39 55.54,521.20 61.09,513.77 66.63,502.63 72.18,490.24 77.72,478.11 83.26,474.14 88.81,466.47 94.35,499.53 100.69,497.67 110.98,486.53" fill="none" stroke="#f2a22a" stroke-width="1.05" stroke-linejoin="round"/>
<circle cx="44.46" cy="506.34" r="1.05" fill="#f2a22a"/><circle cx="46.83" cy="522.44" r="1.05" fill="#f2a22a"/><circle cx="50.00" cy="527.39" r="1.05" fill="#f2a22a"/><circle cx="55.54" cy="521.20" r="1.05" fill="#f2a22a"/><circle cx="61.09" cy="513.77" r="1.05" fill="#f2a22a"/><circle cx="66.63" cy="502.63" r="1.05" fill="#f2a22a"/><circle cx="72.18" cy="490.24" r="1.05" fill="#f2a22a"/><circle cx="77.72" cy="478.11" r="1.05" fill="#f2a22a"/><circle cx="83.26" cy="474.14" r="1.05" fill="#f2a22a"/><circle cx="88.81" cy="466.47" r="1.05" fill="#f2a22a"/><circle cx="94.35" cy="499.53" r="1.05" fill="#f2a22a"/><circle cx="100.69" cy="497.67" r="1.05" fill="#f2a22a"/><circle cx="110.98" cy="486.53" r="1.05" fill="#f2a22a"/>
<polyline points="44.46,503.87 46.83,518.72 50.00,524.92 55.54,515.01 61.09,507.58 66.63,486.16 72.18,490.24 77.72,485.29 83.26,480.34 88.81,475.38 94.35,471.67 100.69,472.91" fill="none" stroke="#f2a22a" stroke-width="1.05" stroke-linejoin="round"/>
<circle cx="44.46" cy="503.87" r="1.05" fill="#f2a22a"/><circle cx="46.83" cy="518.72" r="1.05" fill="#f2a22a"/><circle cx="50.00" cy="524.92" r="1.05" fill="#f2a22a"/><circle cx="55.54" cy="515.01" r="1.05" fill="#f2a22a"/><circle cx="61.09" cy="507.58" r="1.05" fill="#f2a22a"/><circle cx="66.63" cy="486.16" r="1.05" fill="#f2a22a"/><circle cx="72.18" cy="490.24" r="1.05" fill="#f2a22a"/><circle cx="77.72" cy="485.29" r="1.05" fill="#f2a22a"/><circle cx="83.26" cy="480.34" r="1.05" fill="#f2a22a"/><circle cx="88.81" cy="475.38" r="1.05" fill="#f2a22a"/><circle cx="94.35" cy="471.67" r="1.05" fill="#f2a22a"/><circle cx="100.69" cy="472.91" r="1.05" fill="#f2a22a"/>
<polyline points="44.46,510.06 46.83,529.87 50.00,533.58 55.54,531.11 61.09,527.39 66.63,522.44 72.18,518.48 77.72,508.94 83.26,505.10 88.81,501.02 94.35,480.83 100.69,476.62 110.98,472.91" fill="none" stroke="#f2a22a" stroke-width="1.05" stroke-linejoin="round"/>
<circle cx="44.46" cy="510.06" r="1.05" fill="#f2a22a"/><circle cx="46.83" cy="529.87" r="1.05" fill="#f2a22a"/><circle cx="50.00" cy="533.58" r="1.05" fill="#f2a22a"/><circle cx="55.54" cy="531.11" r="1.05" fill="#f2a22a"/><circle cx="61.09" cy="527.39" r="1.05" fill="#f2a22a"/><circle cx="66.63" cy="522.44" r="1.05" fill="#f2a22a"/><circle cx="72.18" cy="518.48" r="1.05" fill="#f2a22a"/><circle cx="77.72" cy="508.94" r="1.05" fill="#f2a22a"/><circle cx="83.26" cy="505.10" r="1.05" fill="#f2a22a"/><circle cx="88.81" cy="501.02" r="1.05" fill="#f2a22a"/><circle cx="94.35" cy="480.83" r="1.05" fill="#f2a22a"/><circle cx="100.69" cy="476.62" r="1.05" fill="#f2a22a"/><circle cx="110.98" cy="472.91" r="1.05" fill="#f2a22a"/>
<polyline points="44.46,512.53 46.83,527.39 50.00,532.35 55.54,529.87 61.09,525.16 66.63,516.37 72.18,502.26 77.72,501.02 83.26,494.21 88.81,486.16 94.35,501.02 100.69,496.93 110.98,492.72" fill="none" stroke="#f2a22a" stroke-width="1.05" stroke-linejoin="round"/>
<circle cx="44.46" cy="512.53" r="1.05" fill="#f2a22a"/><circle cx="46.83" cy="527.39" r="1.05" fill="#f2a22a"/><circle cx="50.00" cy="532.35" r="1.05" fill="#f2a22a"/><circle cx="55.54" cy="529.87" r="1.05" fill="#f2a22a"/><circle cx="61.09" cy="525.16" r="1.05" fill="#f2a22a"/><circle cx="66.63" cy="516.37" r="1.05" fill="#f2a22a"/><circle cx="72.18" cy="502.26" r="1.05" fill="#f2a22a"/><circle cx="77.72" cy="501.02" r="1.05" fill="#f2a22a"/><circle cx="83.26" cy="494.21" r="1.05" fill="#f2a22a"/><circle cx="88.81" cy="486.16" r="1.05" fill="#f2a22a"/><circle cx="94.35" cy="501.02" r="1.05" fill="#f2a22a"/><circle cx="100.69" cy="496.93" r="1.05" fill="#f2a22a"/><circle cx="110.98" cy="492.72" r="1.05" fill="#f2a22a"/>
<polyline points="44.46,501.39 46.83,522.44 50.00,529.87 52.14,514.39 56.18,510.43 61.09,508.82 66.63,502.26 72.18,496.93 77.72,501.02 83.26,510.43 88.81,501.02 94.35,508.94 100.69,502.26" fill="none" stroke="#f2a22a" stroke-width="1.05" stroke-linejoin="round"/>
<circle cx="44.46" cy="501.39" r="1.05" fill="#f2a22a"/><circle cx="46.83" cy="522.44" r="1.05" fill="#f2a22a"/><circle cx="50.00" cy="529.87" r="1.05" fill="#f2a22a"/><circle cx="52.14" cy="514.39" r="1.05" fill="#f2a22a"/><circle cx="56.18" cy="510.43" r="1.05" fill="#f2a22a"/><circle cx="61.09" cy="508.82" r="1.05" fill="#f2a22a"/><circle cx="66.63" cy="502.26" r="1.05" fill="#f2a22a"/><circle cx="72.18" cy="496.93" r="1.05" fill="#f2a22a"/><circle cx="77.72" cy="501.02" r="1.05" fill="#f2a22a"/><circle cx="83.26" cy="510.43" r="1.05" fill="#f2a22a"/><circle cx="88.81" cy="501.02" r="1.05" fill="#f2a22a"/><circle cx="94.35" cy="508.94" r="1.05" fill="#f2a22a"/><circle cx="100.69" cy="502.26" r="1.05" fill="#f2a22a"/>
<polyline points="44.46,507.58 46.83,531.11 50.00,533.58 55.54,532.35 61.09,529.87 66.63,526.15 72.18,521.20 77.72,517.49 83.26,505.10 88.81,515.75 94.35,508.94 100.69,496.93 110.98,486.53" fill="none" stroke="#f2a22a" stroke-width="1.05" stroke-linejoin="round"/>
<circle cx="44.46" cy="507.58" r="1.05" fill="#f2a22a"/><circle cx="46.83" cy="531.11" r="1.05" fill="#f2a22a"/><circle cx="50.00" cy="533.58" r="1.05" fill="#f2a22a"/><circle cx="55.54" cy="532.35" r="1.05" fill="#f2a22a"/><circle cx="61.09" cy="529.87" r="1.05" fill="#f2a22a"/><circle cx="66.63" cy="526.15" r="1.05" fill="#f2a22a"/><circle cx="72.18" cy="521.20" r="1.05" fill="#f2a22a"/><circle cx="77.72" cy="517.49" r="1.05" fill="#f2a22a"/><circle cx="83.26" cy="505.10" r="1.05" fill="#f2a22a"/><circle cx="88.81" cy="515.75" r="1.05" fill="#f2a22a"/><circle cx="94.35" cy="508.94" r="1.05" fill="#f2a22a"/><circle cx="100.69" cy="496.93" r="1.05" fill="#f2a22a"/><circle cx="110.98" cy="486.53" r="1.05" fill="#f2a22a"/>
<polyline points="44.46,505.10 46.83,515.01 50.00,521.20 55.54,513.03 61.09,505.10 66.63,496.43 72.18,490.24 77.72,481.57 83.26,476.62" fill="none" stroke="#f2a22a" stroke-width="1.05" stroke-linejoin="round"/>
<circle cx="44.46" cy="505.10" r="1.05" fill="#f2a22a"/><circle cx="46.83" cy="515.01" r="1.05" fill="#f2a22a"/><circle cx="50.00" cy="521.20" r="1.05" fill="#f2a22a"/><circle cx="55.54" cy="513.03" r="1.05" fill="#f2a22a"/><circle cx="61.09" cy="505.10" r="1.05" fill="#f2a22a"/><circle cx="66.63" cy="496.43" r="1.05" fill="#f2a22a"/><circle cx="72.18" cy="490.24" r="1.05" fill="#f2a22a"/><circle cx="77.72" cy="481.57" r="1.05" fill="#f2a22a"/><circle cx="83.26" cy="476.62" r="1.05" fill="#f2a22a"/>
<polyline points="44.46,518.72 46.83,534.82 50.00,534.82 55.54,533.58 61.09,531.11 66.63,529.87 72.18,527.39 77.72,521.20 83.26,513.77 88.81,510.06 94.35,505.10 100.69,501.39" fill="none" stroke="#f2a22a" stroke-width="1.05" stroke-linejoin="round"/>
<circle cx="44.46" cy="518.72" r="1.05" fill="#f2a22a"/><circle cx="46.83" cy="534.82" r="1.05" fill="#f2a22a"/><circle cx="50.00" cy="534.82" r="1.05" fill="#f2a22a"/><circle cx="55.54" cy="533.58" r="1.05" fill="#f2a22a"/><circle cx="61.09" cy="531.11" r="1.05" fill="#f2a22a"/><circle cx="66.63" cy="529.87" r="1.05" fill="#f2a22a"/><circle cx="72.18" cy="527.39" r="1.05" fill="#f2a22a"/><circle cx="77.72" cy="521.20" r="1.05" fill="#f2a22a"/><circle cx="83.26" cy="513.77" r="1.05" fill="#f2a22a"/><circle cx="88.81" cy="510.06" r="1.05" fill="#f2a22a"/><circle cx="94.35" cy="505.10" r="1.05" fill="#f2a22a"/><circle cx="100.69" cy="501.39" r="1.05" fill="#f2a22a"/>
<polyline points="44.46,508.82 46.83,532.35 50.00,531.11 55.54,532.35 61.09,528.63 66.63,531.11 72.18,529.87 77.72,526.15" fill="none" stroke="#f2a22a" stroke-width="1.05" stroke-linejoin="round"/>
<circle cx="44.46" cy="508.82" r="1.05" fill="#f2a22a"/><circle cx="46.83" cy="532.35" r="1.05" fill="#f2a22a"/><circle cx="50.00" cy="531.11" r="1.05" fill="#f2a22a"/><circle cx="55.54" cy="532.35" r="1.05" fill="#f2a22a"/><circle cx="61.09" cy="528.63" r="1.05" fill="#f2a22a"/><circle cx="66.63" cy="531.11" r="1.05" fill="#f2a22a"/><circle cx="72.18" cy="529.87" r="1.05" fill="#f2a22a"/><circle cx="77.72" cy="526.15" r="1.05" fill="#f2a22a"/>
<polyline points="44.46,498.91 46.83,526.15 50.00,529.87 55.54,525.16 61.09,517.49 66.63,510.06 72.18,505.10" fill="none" stroke="#f2a22a" stroke-width="1.05" stroke-linejoin="round"/>
<circle cx="44.46" cy="498.91" r="1.05" fill="#f2a22a"/><circle cx="46.83" cy="526.15" r="1.05" fill="#f2a22a"/><circle cx="50.00" cy="529.87" r="1.05" fill="#f2a22a"/><circle cx="55.54" cy="525.16" r="1.05" fill="#f2a22a"/><circle cx="61.09" cy="517.49" r="1.05" fill="#f2a22a"/><circle cx="66.63" cy="510.06" r="1.05" fill="#f2a22a"/><circle cx="72.18" cy="505.10" r="1.05" fill="#f2a22a"/>
<polyline points="44.46,502.63 46.83,496.43 50.00,489.00 52.38,484.05 55.54,479.10 57.92,475.38 61.09,471.67 66.63,469.19 72.18,467.95 77.72,464.24" fill="none" stroke="#d8267c" stroke-width="1.05" stroke-linejoin="round"/>
<circle cx="44.46" cy="502.63" r="1.15" fill="#d8267c"/><circle cx="46.83" cy="496.43" r="1.15" fill="#d8267c"/><circle cx="50.00" cy="489.00" r="1.15" fill="#d8267c"/><circle cx="52.38" cy="484.05" r="1.15" fill="#d8267c"/><circle cx="55.54" cy="479.10" r="1.15" fill="#d8267c"/><circle cx="57.92" cy="475.38" r="1.15" fill="#d8267c"/><circle cx="61.09" cy="471.67" r="1.15" fill="#d8267c"/><circle cx="66.63" cy="469.19" r="1.15" fill="#d8267c"/><circle cx="72.18" cy="467.95" r="1.15" fill="#d8267c"/><circle cx="77.72" cy="464.24" r="1.15" fill="#d8267c"/>
<polyline points="44.46,505.10 46.83,500.15 50.00,492.72 52.38,487.77 55.54,482.81 57.92,479.10 61.09,475.38 66.63,469.19" fill="none" stroke="#d8267c" stroke-width="1.05" stroke-linejoin="round"/>
<circle cx="44.46" cy="505.10" r="1.15" fill="#d8267c"/><circle cx="46.83" cy="500.15" r="1.15" fill="#d8267c"/><circle cx="50.00" cy="492.72" r="1.15" fill="#d8267c"/><circle cx="52.38" cy="487.77" r="1.15" fill="#d8267c"/><circle cx="55.54" cy="482.81" r="1.15" fill="#d8267c"/><circle cx="57.92" cy="479.10" r="1.15" fill="#d8267c"/><circle cx="61.09" cy="475.38" r="1.15" fill="#d8267c"/><circle cx="66.63" cy="469.19" r="1.15" fill="#d8267c"/>
<polyline points="44.46,501.39 46.83,497.67 50.00,493.96 52.38,490.24 55.54,487.77 57.92,482.81 61.09,480.34 63.46,477.86" fill="none" stroke="#d8267c" stroke-width="1.05" stroke-linejoin="round"/>
<circle cx="44.46" cy="501.39" r="1.15" fill="#d8267c"/><circle cx="46.83" cy="497.67" r="1.15" fill="#d8267c"/><circle cx="50.00" cy="493.96" r="1.15" fill="#d8267c"/><circle cx="52.38" cy="490.24" r="1.15" fill="#d8267c"/><circle cx="55.54" cy="487.77" r="1.15" fill="#d8267c"/><circle cx="57.92" cy="482.81" r="1.15" fill="#d8267c"/><circle cx="61.09" cy="480.34" r="1.15" fill="#d8267c"/><circle cx="63.46" cy="477.86" r="1.15" fill="#d8267c"/>
<polyline points="44.46,508.82 46.83,503.87 50.00,500.15 52.38,495.20 55.54,490.24 57.92,485.29 61.09,481.57 66.63,476.62 72.18,474.14 77.72,470.43 83.26,475.38 88.81,472.91 94.35,475.38 99.90,471.67" fill="none" stroke="#d8267c" stroke-width="1.05" stroke-linejoin="round"/>
<circle cx="44.46" cy="508.82" r="1.15" fill="#d8267c"/><circle cx="46.83" cy="503.87" r="1.15" fill="#d8267c"/><circle cx="50.00" cy="500.15" r="1.15" fill="#d8267c"/><circle cx="52.38" cy="495.20" r="1.15" fill="#d8267c"/><circle cx="55.54" cy="490.24" r="1.15" fill="#d8267c"/><circle cx="57.92" cy="485.29" r="1.15" fill="#d8267c"/><circle cx="61.09" cy="481.57" r="1.15" fill="#d8267c"/><circle cx="66.63" cy="476.62" r="1.15" fill="#d8267c"/><circle cx="72.18" cy="474.14" r="1.15" fill="#d8267c"/><circle cx="77.72" cy="470.43" r="1.15" fill="#d8267c"/><circle cx="83.26" cy="475.38" r="1.15" fill="#d8267c"/><circle cx="88.81" cy="472.91" r="1.15" fill="#d8267c"/><circle cx="94.35" cy="475.38" r="1.15" fill="#d8267c"/><circle cx="99.90" cy="471.67" r="1.15" fill="#d8267c"/>
<polyline points="44.46,515.01 46.83,510.06 50.00,507.58 52.38,503.87 55.54,500.15 61.09,493.96 66.63,490.24 72.18,486.53 77.72,482.81 83.26,479.10 88.81,474.14 94.35,470.43" fill="none" stroke="#d8267c" stroke-width="1.05" stroke-linejoin="round"/>
<circle cx="44.46" cy="515.01" r="1.15" fill="#d8267c"/><circle cx="46.83" cy="510.06" r="1.15" fill="#d8267c"/><circle cx="50.00" cy="507.58" r="1.15" fill="#d8267c"/><circle cx="52.38" cy="503.87" r="1.15" fill="#d8267c"/><circle cx="55.54" cy="500.15" r="1.15" fill="#d8267c"/><circle cx="61.09" cy="493.96" r="1.15" fill="#d8267c"/><circle cx="66.63" cy="490.24" r="1.15" fill="#d8267c"/><circle cx="72.18" cy="486.53" r="1.15" fill="#d8267c"/><circle cx="77.72" cy="482.81" r="1.15" fill="#d8267c"/><circle cx="83.26" cy="479.10" r="1.15" fill="#d8267c"/><circle cx="88.81" cy="474.14" r="1.15" fill="#d8267c"/><circle cx="94.35" cy="470.43" r="1.15" fill="#d8267c"/>
<polyline points="44.46,529.87 46.83,521.20 50.00,512.53 52.38,506.34 55.54,502.63 61.09,496.43 66.63,491.48 72.18,487.77 77.72,484.05 83.26,480.34 88.81,477.86" fill="none" stroke="#d8267c" stroke-width="1.05" stroke-linejoin="round"/>
<circle cx="44.46" cy="529.87" r="1.15" fill="#d8267c"/><circle cx="46.83" cy="521.20" r="1.15" fill="#d8267c"/><circle cx="50.00" cy="512.53" r="1.15" fill="#d8267c"/><circle cx="52.38" cy="506.34" r="1.15" fill="#d8267c"/><circle cx="55.54" cy="502.63" r="1.15" fill="#d8267c"/><circle cx="61.09" cy="496.43" r="1.15" fill="#d8267c"/><circle cx="66.63" cy="491.48" r="1.15" fill="#d8267c"/><circle cx="72.18" cy="487.77" r="1.15" fill="#d8267c"/><circle cx="77.72" cy="484.05" r="1.15" fill="#d8267c"/><circle cx="83.26" cy="480.34" r="1.15" fill="#d8267c"/><circle cx="88.81" cy="477.86" r="1.15" fill="#d8267c"/>
<polyline points="44.46,500.15 46.83,496.43 50.00,497.67 52.38,495.20 55.54,493.96 57.92,490.24" fill="none" stroke="#d8267c" stroke-width="1.05" stroke-linejoin="round"/>
<circle cx="44.46" cy="500.15" r="1.15" fill="#d8267c"/><circle cx="46.83" cy="496.43" r="1.15" fill="#d8267c"/><circle cx="50.00" cy="497.67" r="1.15" fill="#d8267c"/><circle cx="52.38" cy="495.20" r="1.15" fill="#d8267c"/><circle cx="55.54" cy="493.96" r="1.15" fill="#d8267c"/><circle cx="57.92" cy="490.24" r="1.15" fill="#d8267c"/>
<line x1="107.90" y1="513.50" x2="117.70" y2="513.50" stroke="#d8267c" stroke-width="0.9"/>
<circle cx="113.00" cy="513.50" r="0.75" fill="#d8267c"/>
<text x="121.0" y="515.5" font-size="6.0" textLength="14.0" lengthAdjust="spacingAndGlyphs" fill="#222"><tspan font-style="italic">P</tspan> = .27</text>
<line x1="107.90" y1="520.70" x2="117.70" y2="520.70" stroke="#f2a22a" stroke-width="0.9"/>
<circle cx="113.00" cy="520.70" r="0.75" fill="#f2a22a"/>
<text x="121.0" y="522.7" font-size="6.0" textLength="20.0" lengthAdjust="spacingAndGlyphs" fill="#222"><tspan font-style="italic">P</tspan> &lt; .001</text>
<line x1="43.80" y1="571.80" x2="56.30" y2="571.80" stroke="#4d565e" stroke-width="0.9"/>
<circle cx="50.00" cy="571.80" r="0.7" fill="#4d565e"/>
<text x="59.0" y="573.8" font-size="5.9" fill="#2a2a2a">Untreated</text>
<line x1="94.60" y1="571.80" x2="107.10" y2="571.80" stroke="#f2a22a" stroke-width="0.9"/>
<circle cx="100.80" cy="571.80" r="0.7" fill="#f2a22a"/>
<text x="109.4" y="573.8" font-size="5.9" textLength="33.6" lengthAdjust="spacingAndGlyphs" fill="#2a2a2a">BCMA 10x10<tspan font-size="3.6" dy="-2.4">6</tspan></text>
<line x1="43.80" y1="580.90" x2="56.30" y2="580.90" stroke="#c8c8c8" stroke-width="0.9"/>
<circle cx="50.00" cy="580.90" r="0.7" fill="#c8c8c8"/>
<text x="59.0" y="582.9" font-size="5.9" textLength="33.6" lengthAdjust="spacingAndGlyphs" fill="#2a2a2a">CD19 10x10<tspan font-size="3.6" dy="-2.4">6</tspan></text>
<line x1="94.60" y1="580.90" x2="107.10" y2="580.90" stroke="#d8267c" stroke-width="0.9"/>
<circle cx="100.80" cy="580.90" r="0.7" fill="#d8267c"/>
<text x="109.4" y="582.9" font-size="5.9" textLength="31.5" lengthAdjust="spacingAndGlyphs" fill="#2a2a2a">BCMA 2x10<tspan font-size="3.6" dy="-2.4">6</tspan></text>
<text x="8.0" y="605.0" font-size="11.2" font-weight="bold" fill="#111">H</text>
<line x1="29.80" y1="619.80" x2="29.80" y2="675.80" stroke="#222" stroke-width="1.3"/>
<line x1="29.20" y1="675.20" x2="87.50" y2="675.20" stroke="#222" stroke-width="1.2"/>
<line x1="27.40" y1="621.70" x2="29.80" y2="621.70" stroke="#222" stroke-width="0.9"/>
<text x="22.9" y="623.9000000000001" font-size="6.2" text-anchor="end" fill="#2a2a2a">3</text>
<line x1="27.40" y1="639.53" x2="29.80" y2="639.53" stroke="#222" stroke-width="0.9"/>
<text x="22.9" y="641.7333333333335" font-size="6.2" text-anchor="end" fill="#2a2a2a">2</text>
<line x1="27.40" y1="657.37" x2="29.80" y2="657.37" stroke="#222" stroke-width="0.9"/>
<text x="22.9" y="659.5666666666667" font-size="6.2" text-anchor="end" fill="#2a2a2a">1</text>
<line x1="27.40" y1="675.20" x2="29.80" y2="675.20" stroke="#222" stroke-width="0.9"/>
<text x="22.9" y="677.4000000000001" font-size="6.2" text-anchor="end" fill="#2a2a2a">0</text>
<text x="57.7" y="605.9" font-size="6.3" text-anchor="middle" textLength="17.3" lengthAdjust="spacingAndGlyphs" fill="#222">Day 24</text>
<text x="58.7" y="614.3" font-size="6.3" text-anchor="middle" textLength="39.4" lengthAdjust="spacingAndGlyphs" fill="#222">(+6 CAR-iNKT)</text>
<circle cx="40.20" cy="675.20" r="0.95" fill="#7a1828"/>
<circle cx="41.70" cy="675.20" r="0.95" fill="#7a1828"/>
<circle cx="43.20" cy="675.20" r="0.95" fill="#7a1828"/>
<circle cx="44.70" cy="675.20" r="0.95" fill="#7a1828"/>
<circle cx="46.20" cy="675.20" r="0.95" fill="#7a1828"/>
<circle cx="41.70" cy="657.37" r="0.95" fill="#7a1828"/>
<line x1="36.70" y1="671.63" x2="48.70" y2="671.63" stroke="#cf2a3c" stroke-width="1.2"/>
<line x1="42.70" y1="663.25" x2="42.70" y2="675.20" stroke="#cf2a3c" stroke-width="0.9"/>
<line x1="39.40" y1="663.25" x2="46.00" y2="663.25" stroke="#cf2a3c" stroke-width="0.9"/>
<line x1="39.40" y1="675.20" x2="46.00" y2="675.20" stroke="#cf2a3c" stroke-width="0.9"/>
<circle cx="60.60" cy="639.53" r="0.95" fill="#7a1828"/>
<circle cx="57.70" cy="657.37" r="0.95" fill="#7a1828"/>
<circle cx="59.20" cy="657.37" r="0.95" fill="#7a1828"/>
<circle cx="60.70" cy="657.37" r="0.95" fill="#7a1828"/>
<circle cx="62.20" cy="657.37" r="0.95" fill="#7a1828"/>
<circle cx="58.20" cy="675.20" r="0.95" fill="#7a1828"/>
<circle cx="62.20" cy="675.20" r="0.95" fill="#7a1828"/>
<line x1="54.20" y1="660.93" x2="66.20" y2="660.93" stroke="#cf2a3c" stroke-width="1.2"/>
<line x1="60.20" y1="649.70" x2="60.20" y2="672.17" stroke="#cf2a3c" stroke-width="0.9"/>
<line x1="56.90" y1="649.70" x2="63.50" y2="649.70" stroke="#cf2a3c" stroke-width="0.9"/>
<line x1="56.90" y1="672.17" x2="63.50" y2="672.17" stroke="#cf2a3c" stroke-width="0.9"/>
<circle cx="76.80" cy="675.20" r="0.95" fill="#7a1828"/>
<circle cx="78.80" cy="675.20" r="0.95" fill="#7a1828"/>
<circle cx="80.80" cy="675.20" r="0.95" fill="#7a1828"/>
<circle cx="82.80" cy="675.20" r="0.95" fill="#7a1828"/>
<line x1="73.80" y1="675.20" x2="85.80" y2="675.20" stroke="#cf2a3c" stroke-width="1.2"/>
<text x="46.0" y="683.6" font-size="6.4" text-anchor="end" transform="rotate(-45 46.0 683.6)" fill="#222">CD19</text>
<text x="63.5" y="683.6" font-size="6.4" text-anchor="end" transform="rotate(-45 63.5 683.6)" fill="#222">BCMA</text>
<text x="83.1" y="683.6" font-size="6.4" text-anchor="end" transform="rotate(-45 83.1 683.6)" fill="#222">BCMA</text>
<line x1="36.50" y1="700.60" x2="66.30" y2="700.60" stroke="#222" stroke-width="0.9"/>
<text x="52.25" y="709.2" font-size="6.4" text-anchor="middle" fill="#222">10x10<tspan font-size="3.6" dy="-2.4">6</tspan></text>
<text x="79.3" y="709.2" font-size="6.4" text-anchor="middle" fill="#222">2x10<tspan font-size="3.6" dy="-2.4">6</tspan></text>
<line x1="120.20" y1="619.80" x2="120.20" y2="675.80" stroke="#222" stroke-width="1.3"/>
<line x1="119.60" y1="675.20" x2="180.40" y2="675.20" stroke="#222" stroke-width="1.2"/>
<line x1="117.80" y1="622.70" x2="120.20" y2="622.70" stroke="#222" stroke-width="0.9"/>
<text x="113.3" y="624.9000000000001" font-size="6.2" text-anchor="end" fill="#2a2a2a">3</text>
<line x1="117.80" y1="640.20" x2="120.20" y2="640.20" stroke="#222" stroke-width="0.9"/>
<text x="113.3" y="642.4000000000001" font-size="6.2" text-anchor="end" fill="#2a2a2a">2</text>
<line x1="117.80" y1="657.70" x2="120.20" y2="657.70" stroke="#222" stroke-width="0.9"/>
<text x="113.3" y="659.9000000000001" font-size="6.2" text-anchor="end" fill="#2a2a2a">1</text>
<line x1="117.80" y1="675.20" x2="120.20" y2="675.20" stroke="#222" stroke-width="0.9"/>
<text x="113.3" y="677.4000000000001" font-size="6.2" text-anchor="end" fill="#2a2a2a">0</text>
<text x="148.7" y="605.9" font-size="6.3" text-anchor="middle" textLength="15.6" lengthAdjust="spacingAndGlyphs" fill="#222">Day 31</text>
<text x="149.7" y="614.3" font-size="6.3" text-anchor="middle" textLength="43.8" lengthAdjust="spacingAndGlyphs" fill="#222">(+13 CAR-iNKT)</text>
<circle cx="129.70" cy="673.10" r="0.95" fill="#7a1828"/>
<circle cx="131.20" cy="672.58" r="0.95" fill="#7a1828"/>
<circle cx="132.70" cy="673.10" r="0.95" fill="#7a1828"/>
<circle cx="134.20" cy="673.45" r="0.95" fill="#7a1828"/>
<circle cx="135.70" cy="672.75" r="0.95" fill="#7a1828"/>
<circle cx="130.70" cy="674.33" r="0.95" fill="#7a1828"/>
<circle cx="134.70" cy="674.50" r="0.95" fill="#7a1828"/>
<line x1="126.70" y1="673.45" x2="138.70" y2="673.45" stroke="#cf2a3c" stroke-width="1.2"/>
<line x1="132.70" y1="672.58" x2="132.70" y2="674.33" stroke="#cf2a3c" stroke-width="0.9"/>
<line x1="129.40" y1="672.58" x2="136.00" y2="672.58" stroke="#cf2a3c" stroke-width="0.9"/>
<line x1="129.40" y1="674.33" x2="136.00" y2="674.33" stroke="#cf2a3c" stroke-width="0.9"/>
<circle cx="147.10" cy="671.70" r="0.95" fill="#7a1828"/>
<circle cx="148.60" cy="671.35" r="0.95" fill="#7a1828"/>
<circle cx="150.10" cy="671.70" r="0.95" fill="#7a1828"/>
<circle cx="151.60" cy="671.35" r="0.95" fill="#7a1828"/>
<circle cx="153.10" cy="671.70" r="0.95" fill="#7a1828"/>
<circle cx="147.60" cy="673.45" r="0.95" fill="#7a1828"/>
<circle cx="149.60" cy="673.80" r="0.95" fill="#7a1828"/>
<circle cx="151.60" cy="673.45" r="0.95" fill="#7a1828"/>
<circle cx="153.60" cy="674.15" r="0.95" fill="#7a1828"/>
<circle cx="150.60" cy="674.85" r="0.95" fill="#7a1828"/>
<line x1="144.60" y1="672.58" x2="156.60" y2="672.58" stroke="#cf2a3c" stroke-width="1.2"/>
<line x1="150.60" y1="671.35" x2="150.60" y2="673.80" stroke="#cf2a3c" stroke-width="0.9"/>
<line x1="147.30" y1="671.35" x2="153.90" y2="671.35" stroke="#cf2a3c" stroke-width="0.9"/>
<line x1="147.30" y1="673.80" x2="153.90" y2="673.80" stroke="#cf2a3c" stroke-width="0.9"/>
<circle cx="165.80" cy="675.20" r="0.95" fill="#7a1828"/>
<circle cx="167.80" cy="675.20" r="0.95" fill="#7a1828"/>
<circle cx="169.80" cy="675.20" r="0.95" fill="#7a1828"/>
<circle cx="171.80" cy="675.20" r="0.95" fill="#7a1828"/>
<line x1="162.80" y1="675.20" x2="174.80" y2="675.20" stroke="#cf2a3c" stroke-width="1.2"/>
<text x="136.0" y="683.6" font-size="6.4" text-anchor="end" transform="rotate(-45 136.0 683.6)" fill="#222">CD19</text>
<text x="153.9" y="683.6" font-size="6.4" text-anchor="end" transform="rotate(-45 153.9 683.6)" fill="#222">BCMA</text>
<text x="172.10000000000002" y="683.6" font-size="6.4" text-anchor="end" transform="rotate(-45 172.10000000000002 683.6)" fill="#222">BCMA</text>
<line x1="126.50" y1="700.60" x2="156.70" y2="700.60" stroke="#222" stroke-width="0.9"/>
<text x="142.45" y="709.2" font-size="6.4" text-anchor="middle" fill="#222">10x10<tspan font-size="3.6" dy="-2.4">6</tspan></text>
<text x="168.3" y="709.2" font-size="6.4" text-anchor="middle" fill="#222">2x10<tspan font-size="3.6" dy="-2.4">6</tspan></text>
<text x="14.0" y="647.2" font-size="7.6" text-anchor="middle" textLength="50.8" lengthAdjust="spacingAndGlyphs" transform="rotate(-90 14.0 647.2)" style="stroke:#222;stroke-width:0.24px" fill="#222">CAR-iNKT/&#181;l blood</text>
<text x="104.9" y="647.2" font-size="7.6" text-anchor="middle" textLength="51" lengthAdjust="spacingAndGlyphs" transform="rotate(-90 104.9 647.2)" style="stroke:#222;stroke-width:0.24px" fill="#222">CAR-iNKT/&#181;l blood</text>
<text x="201.8" y="575.4" font-size="11.2" font-weight="bold" fill="#111">I</text>
<line x1="231.90" y1="580.80" x2="231.90" y2="658.60" stroke="#3a3a3a" stroke-width="1.6"/>
<line x1="231.30" y1="658.10" x2="345.50" y2="658.10" stroke="#222" stroke-width="1.2"/>
<line x1="229.70" y1="584.20" x2="231.90" y2="584.20" stroke="#222" stroke-width="0.9"/>
<text x="225.6" y="586.3000000000001" font-size="5.9" text-anchor="end" fill="#2a2a2a">100</text>
<line x1="229.70" y1="621.15" x2="231.90" y2="621.15" stroke="#222" stroke-width="0.9"/>
<text x="225.6" y="623.2500000000001" font-size="5.9" text-anchor="end" fill="#2a2a2a">50</text>
<line x1="229.70" y1="658.10" x2="231.90" y2="658.10" stroke="#222" stroke-width="0.9"/>
<text x="225.6" y="660.2" font-size="5.9" text-anchor="end" fill="#2a2a2a">0</text>
<line x1="232.10" y1="658.10" x2="232.10" y2="660.30" stroke="#222" stroke-width="0.9"/>
<text x="232.1" y="670.8" font-size="6.1" text-anchor="middle" fill="#2a2a2a">0</text>
<line x1="259.18" y1="658.10" x2="259.18" y2="660.30" stroke="#222" stroke-width="0.9"/>
<text x="259.175" y="670.8" font-size="6.1" text-anchor="middle" fill="#2a2a2a">20</text>
<line x1="286.25" y1="658.10" x2="286.25" y2="660.30" stroke="#222" stroke-width="0.9"/>
<text x="286.25" y="670.8" font-size="6.1" text-anchor="middle" fill="#2a2a2a">40</text>
<line x1="313.32" y1="658.10" x2="313.32" y2="660.30" stroke="#222" stroke-width="0.9"/>
<text x="313.325" y="670.8" font-size="6.1" text-anchor="middle" fill="#2a2a2a">60</text>
<line x1="340.40" y1="658.10" x2="340.40" y2="660.30" stroke="#222" stroke-width="0.9"/>
<text x="340.4" y="670.8" font-size="6.1" text-anchor="middle" fill="#2a2a2a">80</text>
<text x="288.5" y="684.0" font-size="8.3" text-anchor="middle" textLength="31.9" lengthAdjust="spacingAndGlyphs" style="stroke:#222;stroke-width:0.24px" fill="#222">Time (days)</text>
<text x="210.4" y="619.7" font-size="8.2" text-anchor="middle" textLength="29.8" lengthAdjust="spacingAndGlyphs" transform="rotate(-90 210.4 619.7)" style="stroke:#222;stroke-width:0.24px" fill="#222">% Survival</text>
<path d="M286.6,621.2 H288.0 V658.1" fill="none" stroke="#d0d0d0" stroke-width="1.0"/>
<path d="M231.9,584.2 H286.9 V621.2" fill="none" stroke="#8a8fa8" stroke-width="1.0"/>
<path d="M231.9,584.2 H313.6 V599.0 H324.0 V628.2 H327.5 V643.6 H337.9 V658.1" fill="none" stroke="#d8267c" stroke-width="1.0"/>
<text x="298.8" y="634.0" font-size="6.2" textLength="21.5" lengthAdjust="spacingAndGlyphs" fill="#222"><tspan font-style="italic">P</tspan> = .004</text>
<line x1="237.30" y1="694.00" x2="249.80" y2="694.00" stroke="#4d565e" stroke-width="0.9"/>
<circle cx="243.50" cy="694.00" r="0.7" fill="#4d565e"/>
<text x="251.0" y="696.0" font-size="5.9" fill="#2a2a2a">Untreated</text>
<line x1="281.30" y1="694.00" x2="293.80" y2="694.00" stroke="#c8c8c8" stroke-width="0.9"/>
<circle cx="287.50" cy="694.00" r="0.7" fill="#c8c8c8"/>
<text x="294.8" y="696.0" font-size="5.9" fill="#2a2a2a">NTD</text>
<line x1="310.20" y1="694.00" x2="322.70" y2="694.00" stroke="#d8267c" stroke-width="0.9"/>
<circle cx="316.40" cy="694.00" r="0.7" fill="#d8267c"/>
<text x="322.0" y="696.0" font-size="5.9" fill="#2a2a2a">BCMA</text>
<text x="360.6" y="575.6" font-size="11.2" font-weight="bold" fill="#111">J</text>
<line x1="391.70" y1="581.70" x2="391.70" y2="658.80" stroke="#222" stroke-width="1.4"/>
<line x1="391.10" y1="658.30" x2="504.00" y2="658.30" stroke="#222" stroke-width="1.2"/>
<line x1="389.50" y1="584.20" x2="391.70" y2="584.20" stroke="#222" stroke-width="0.9"/>
<text x="385.7" y="587.70" font-size="5.8" text-anchor="end" fill="#2a2a2a">10<tspan font-size="3.6" dy="-2.8">12</tspan></text>
<line x1="390.40" y1="592.83" x2="391.70" y2="592.83" stroke="#222" stroke-width="0.6"/>
<line x1="390.40" y1="590.66" x2="391.70" y2="590.66" stroke="#222" stroke-width="0.6"/>
<line x1="390.40" y1="589.11" x2="391.70" y2="589.11" stroke="#222" stroke-width="0.6"/>
<line x1="390.40" y1="587.92" x2="391.70" y2="587.92" stroke="#222" stroke-width="0.6"/>
<line x1="390.40" y1="586.94" x2="391.70" y2="586.94" stroke="#222" stroke-width="0.6"/>
<line x1="390.40" y1="586.11" x2="391.70" y2="586.11" stroke="#222" stroke-width="0.6"/>
<line x1="390.40" y1="585.40" x2="391.70" y2="585.40" stroke="#222" stroke-width="0.6"/>
<line x1="390.40" y1="584.77" x2="391.70" y2="584.77" stroke="#222" stroke-width="0.6"/>
<line x1="389.50" y1="596.55" x2="391.70" y2="596.55" stroke="#222" stroke-width="0.9"/>
<text x="385.7" y="600.05" font-size="5.8" text-anchor="end" fill="#2a2a2a">10<tspan font-size="3.6" dy="-2.8">11</tspan></text>
<line x1="390.40" y1="605.18" x2="391.70" y2="605.18" stroke="#222" stroke-width="0.6"/>
<line x1="390.40" y1="603.01" x2="391.70" y2="603.01" stroke="#222" stroke-width="0.6"/>
<line x1="390.40" y1="601.46" x2="391.70" y2="601.46" stroke="#222" stroke-width="0.6"/>
<line x1="390.40" y1="600.27" x2="391.70" y2="600.27" stroke="#222" stroke-width="0.6"/>
<line x1="390.40" y1="599.29" x2="391.70" y2="599.29" stroke="#222" stroke-width="0.6"/>
<line x1="390.40" y1="598.46" x2="391.70" y2="598.46" stroke="#222" stroke-width="0.6"/>
<line x1="390.40" y1="597.75" x2="391.70" y2="597.75" stroke="#222" stroke-width="0.6"/>
<line x1="390.40" y1="597.12" x2="391.70" y2="597.12" stroke="#222" stroke-width="0.6"/>
<line x1="389.50" y1="608.90" x2="391.70" y2="608.90" stroke="#222" stroke-width="0.9"/>
<text x="385.7" y="612.40" font-size="5.8" text-anchor="end" fill="#2a2a2a">10<tspan font-size="3.6" dy="-2.8">10</tspan></text>
<line x1="390.40" y1="617.53" x2="391.70" y2="617.53" stroke="#222" stroke-width="0.6"/>
<line x1="390.40" y1="615.36" x2="391.70" y2="615.36" stroke="#222" stroke-width="0.6"/>
<line x1="390.40" y1="613.81" x2="391.70" y2="613.81" stroke="#222" stroke-width="0.6"/>
<line x1="390.40" y1="612.62" x2="391.70" y2="612.62" stroke="#222" stroke-width="0.6"/>
<line x1="390.40" y1="611.64" x2="391.70" y2="611.64" stroke="#222" stroke-width="0.6"/>
<line x1="390.40" y1="610.81" x2="391.70" y2="610.81" stroke="#222" stroke-width="0.6"/>
<line x1="390.40" y1="610.10" x2="391.70" y2="610.10" stroke="#222" stroke-width="0.6"/>
<line x1="390.40" y1="609.47" x2="391.70" y2="609.47" stroke="#222" stroke-width="0.6"/>
<line x1="389.50" y1="621.25" x2="391.70" y2="621.25" stroke="#222" stroke-width="0.9"/>
<text x="385.7" y="624.75" font-size="5.8" text-anchor="end" fill="#2a2a2a">10<tspan font-size="3.6" dy="-2.8">9</tspan></text>
<line x1="390.40" y1="629.88" x2="391.70" y2="629.88" stroke="#222" stroke-width="0.6"/>
<line x1="390.40" y1="627.71" x2="391.70" y2="627.71" stroke="#222" stroke-width="0.6"/>
<line x1="390.40" y1="626.16" x2="391.70" y2="626.16" stroke="#222" stroke-width="0.6"/>
<line x1="390.40" y1="624.97" x2="391.70" y2="624.97" stroke="#222" stroke-width="0.6"/>
<line x1="390.40" y1="623.99" x2="391.70" y2="623.99" stroke="#222" stroke-width="0.6"/>
<line x1="390.40" y1="623.16" x2="391.70" y2="623.16" stroke="#222" stroke-width="0.6"/>
<line x1="390.40" y1="622.45" x2="391.70" y2="622.45" stroke="#222" stroke-width="0.6"/>
<line x1="390.40" y1="621.82" x2="391.70" y2="621.82" stroke="#222" stroke-width="0.6"/>
<line x1="389.50" y1="633.60" x2="391.70" y2="633.60" stroke="#222" stroke-width="0.9"/>
<text x="385.7" y="637.10" font-size="5.8" text-anchor="end" fill="#2a2a2a">10<tspan font-size="3.6" dy="-2.8">8</tspan></text>
<line x1="390.40" y1="642.23" x2="391.70" y2="642.23" stroke="#222" stroke-width="0.6"/>
<line x1="390.40" y1="640.06" x2="391.70" y2="640.06" stroke="#222" stroke-width="0.6"/>
<line x1="390.40" y1="638.51" x2="391.70" y2="638.51" stroke="#222" stroke-width="0.6"/>
<line x1="390.40" y1="637.32" x2="391.70" y2="637.32" stroke="#222" stroke-width="0.6"/>
<line x1="390.40" y1="636.34" x2="391.70" y2="636.34" stroke="#222" stroke-width="0.6"/>
<line x1="390.40" y1="635.51" x2="391.70" y2="635.51" stroke="#222" stroke-width="0.6"/>
<line x1="390.40" y1="634.80" x2="391.70" y2="634.80" stroke="#222" stroke-width="0.6"/>
<line x1="390.40" y1="634.17" x2="391.70" y2="634.17" stroke="#222" stroke-width="0.6"/>
<line x1="389.50" y1="645.95" x2="391.70" y2="645.95" stroke="#222" stroke-width="0.9"/>
<text x="385.7" y="649.45" font-size="5.8" text-anchor="end" fill="#2a2a2a">10<tspan font-size="3.6" dy="-2.8">7</tspan></text>
<line x1="390.40" y1="654.58" x2="391.70" y2="654.58" stroke="#222" stroke-width="0.6"/>
<line x1="390.40" y1="652.41" x2="391.70" y2="652.41" stroke="#222" stroke-width="0.6"/>
<line x1="390.40" y1="650.86" x2="391.70" y2="650.86" stroke="#222" stroke-width="0.6"/>
<line x1="390.40" y1="649.67" x2="391.70" y2="649.67" stroke="#222" stroke-width="0.6"/>
<line x1="390.40" y1="648.69" x2="391.70" y2="648.69" stroke="#222" stroke-width="0.6"/>
<line x1="390.40" y1="647.86" x2="391.70" y2="647.86" stroke="#222" stroke-width="0.6"/>
<line x1="390.40" y1="647.15" x2="391.70" y2="647.15" stroke="#222" stroke-width="0.6"/>
<line x1="390.40" y1="646.52" x2="391.70" y2="646.52" stroke="#222" stroke-width="0.6"/>
<line x1="389.50" y1="658.30" x2="391.70" y2="658.30" stroke="#222" stroke-width="0.9"/>
<text x="385.7" y="661.80" font-size="5.8" text-anchor="end" fill="#2a2a2a">10<tspan font-size="3.6" dy="-2.8">6</tspan></text>
<line x1="392.50" y1="658.30" x2="392.50" y2="660.50" stroke="#222" stroke-width="0.9"/>
<text x="392.5" y="670.5999999999999" font-size="5.8" text-anchor="middle" fill="#2a2a2a">0</text>
<line x1="403.70" y1="658.30" x2="403.70" y2="660.50" stroke="#222" stroke-width="0.9"/>
<text x="403.7" y="670.5999999999999" font-size="5.8" text-anchor="middle" fill="#2a2a2a">20</text>
<line x1="436.50" y1="658.30" x2="436.50" y2="660.50" stroke="#222" stroke-width="0.9"/>
<text x="436.5" y="670.5999999999999" font-size="5.8" text-anchor="middle" fill="#2a2a2a">40</text>
<line x1="467.50" y1="658.30" x2="467.50" y2="660.50" stroke="#222" stroke-width="0.9"/>
<text x="467.5" y="670.5999999999999" font-size="5.8" text-anchor="middle" fill="#2a2a2a">60</text>
<line x1="501.00" y1="658.30" x2="501.00" y2="660.50" stroke="#222" stroke-width="0.9"/>
<text x="501.0" y="670.5999999999999" font-size="5.8" text-anchor="middle" fill="#2a2a2a">80</text>
<text x="449.4" y="684.0" font-size="8.3" text-anchor="middle" textLength="33.0" lengthAdjust="spacingAndGlyphs" style="stroke:#222;stroke-width:0.24px" fill="#222">Time (days)</text>
<text x="368.8" y="619.4" font-size="9.0" text-anchor="middle" textLength="24.9" lengthAdjust="spacingAndGlyphs" transform="rotate(-90 368.8 619.4)" style="stroke:#222;stroke-width:0.24px" fill="#222">Photon flux</text>
<polyline points="392.20,639.77 404.60,615.08 417.00,605.20 426.70,599.02 438.30,597.79" fill="none" stroke="#5a6068" stroke-width="1.0" stroke-linejoin="round"/>
<circle cx="392.20" cy="639.77" r="1.0" fill="#5a6068"/><circle cx="404.60" cy="615.08" r="1.0" fill="#5a6068"/><circle cx="417.00" cy="605.20" r="1.0" fill="#5a6068"/><circle cx="426.70" cy="599.02" r="1.0" fill="#5a6068"/><circle cx="438.30" cy="597.79" r="1.0" fill="#5a6068"/>
<polyline points="392.20,641.01 404.60,613.84 417.00,626.19 426.70,599.02" fill="none" stroke="#b4b4b4" stroke-width="1.1" stroke-linejoin="round"/>
<circle cx="417.00" cy="626.19" r="1.05" fill="#b4b4b4"/>
<polyline points="392.20,642.25 404.60,612.61 417.00,603.96 426.70,599.02 438.30,595.32" fill="none" stroke="#c0c0c0" stroke-width="1.25" stroke-linejoin="round"/>
<circle cx="392.20" cy="642.25" r="1.15" fill="#bcbcbc"/><circle cx="404.60" cy="612.61" r="1.15" fill="#bcbcbc"/><circle cx="417.00" cy="603.96" r="1.15" fill="#bcbcbc"/><circle cx="426.70" cy="599.02" r="1.15" fill="#bcbcbc"/><circle cx="438.30" cy="595.32" r="1.15" fill="#bcbcbc"/>
<polyline points="392.20,641.01 404.60,610.13 417.00,602.73 426.70,597.79 438.30,594.08" fill="none" stroke="#c0c0c0" stroke-width="1.25" stroke-linejoin="round"/>
<circle cx="392.20" cy="641.01" r="1.15" fill="#bcbcbc"/><circle cx="404.60" cy="610.13" r="1.15" fill="#bcbcbc"/><circle cx="417.00" cy="602.73" r="1.15" fill="#bcbcbc"/><circle cx="426.70" cy="597.79" r="1.15" fill="#bcbcbc"/><circle cx="438.30" cy="594.08" r="1.15" fill="#bcbcbc"/>
<polyline points="392.20,638.54 404.60,617.54 417.00,606.43 426.70,600.25 438.30,596.55" fill="none" stroke="#c0c0c0" stroke-width="1.25" stroke-linejoin="round"/>
<circle cx="392.20" cy="638.54" r="1.15" fill="#bcbcbc"/><circle cx="404.60" cy="617.54" r="1.15" fill="#bcbcbc"/><circle cx="417.00" cy="606.43" r="1.15" fill="#bcbcbc"/><circle cx="426.70" cy="600.25" r="1.15" fill="#bcbcbc"/><circle cx="438.30" cy="596.55" r="1.15" fill="#bcbcbc"/>
<polyline points="392.20,643.48 404.60,620.01 417.00,608.90 426.70,601.49 438.30,597.79" fill="none" stroke="#c0c0c0" stroke-width="1.25" stroke-linejoin="round"/>
<circle cx="392.20" cy="643.48" r="1.15" fill="#bcbcbc"/><circle cx="404.60" cy="620.01" r="1.15" fill="#bcbcbc"/><circle cx="417.00" cy="608.90" r="1.15" fill="#bcbcbc"/><circle cx="426.70" cy="601.49" r="1.15" fill="#bcbcbc"/><circle cx="438.30" cy="597.79" r="1.15" fill="#bcbcbc"/>
<polyline points="392.20,642.25 404.60,649.04 417.00,639.16 426.70,626.81 438.30,632.37 449.80,602.73 463.30,597.79 475.00,595.32" fill="none" stroke="#d8267c" stroke-width="1.1" stroke-linejoin="round"/>
<circle cx="392.20" cy="642.25" r="1.2" fill="#d8267c"/><circle cx="404.60" cy="649.04" r="1.2" fill="#d8267c"/><circle cx="417.00" cy="639.16" r="1.2" fill="#d8267c"/><circle cx="426.70" cy="626.81" r="1.2" fill="#d8267c"/><circle cx="438.30" cy="632.37" r="1.2" fill="#d8267c"/><circle cx="449.80" cy="602.73" r="1.2" fill="#d8267c"/><circle cx="463.30" cy="597.79" r="1.2" fill="#d8267c"/><circle cx="475.00" cy="595.32" r="1.2" fill="#d8267c"/>
<polyline points="392.20,645.33 404.60,652.12 417.00,648.05 426.70,632.61 438.30,621.25 449.80,610.13 463.30,601.49 475.00,600.87" fill="none" stroke="#d8267c" stroke-width="1.1" stroke-linejoin="round"/>
<circle cx="392.20" cy="645.33" r="1.2" fill="#d8267c"/><circle cx="404.60" cy="652.12" r="1.2" fill="#d8267c"/><circle cx="417.00" cy="648.05" r="1.2" fill="#d8267c"/><circle cx="426.70" cy="632.61" r="1.2" fill="#d8267c"/><circle cx="438.30" cy="621.25" r="1.2" fill="#d8267c"/><circle cx="449.80" cy="610.13" r="1.2" fill="#d8267c"/><circle cx="463.30" cy="601.49" r="1.2" fill="#d8267c"/><circle cx="475.00" cy="600.87" r="1.2" fill="#d8267c"/>
<polyline points="392.20,647.18 404.60,653.73 417.00,647.18 426.70,639.16 438.30,629.89 449.80,614.46 463.30,606.43 475.00,603.96 485.70,601.49" fill="none" stroke="#d8267c" stroke-width="1.1" stroke-linejoin="round"/>
<circle cx="392.20" cy="647.18" r="1.2" fill="#d8267c"/><circle cx="404.60" cy="653.73" r="1.2" fill="#d8267c"/><circle cx="417.00" cy="647.18" r="1.2" fill="#d8267c"/><circle cx="426.70" cy="639.16" r="1.2" fill="#d8267c"/><circle cx="438.30" cy="629.89" r="1.2" fill="#d8267c"/><circle cx="449.80" cy="614.46" r="1.2" fill="#d8267c"/><circle cx="463.30" cy="606.43" r="1.2" fill="#d8267c"/><circle cx="475.00" cy="603.96" r="1.2" fill="#d8267c"/><circle cx="485.70" cy="601.49" r="1.2" fill="#d8267c"/>
<polyline points="392.20,649.65 404.60,652.12 417.00,648.05 426.70,641.01 438.30,636.44 449.80,620.26 463.30,610.13 475.00,606.43 485.70,607.05" fill="none" stroke="#d8267c" stroke-width="1.1" stroke-linejoin="round"/>
<circle cx="392.20" cy="649.65" r="1.2" fill="#d8267c"/><circle cx="404.60" cy="652.12" r="1.2" fill="#d8267c"/><circle cx="417.00" cy="648.05" r="1.2" fill="#d8267c"/><circle cx="426.70" cy="641.01" r="1.2" fill="#d8267c"/><circle cx="438.30" cy="636.44" r="1.2" fill="#d8267c"/><circle cx="449.80" cy="620.26" r="1.2" fill="#d8267c"/><circle cx="463.30" cy="610.13" r="1.2" fill="#d8267c"/><circle cx="475.00" cy="606.43" r="1.2" fill="#d8267c"/><circle cx="485.70" cy="607.05" r="1.2" fill="#d8267c"/>
<polyline points="392.20,652.74 404.60,650.89 417.00,647.18 426.70,645.95 438.30,638.54 449.80,628.04 463.30,616.93 475.00,613.84 485.70,612.61" fill="none" stroke="#d8267c" stroke-width="1.1" stroke-linejoin="round"/>
<circle cx="392.20" cy="652.74" r="1.2" fill="#d8267c"/><circle cx="404.60" cy="650.89" r="1.2" fill="#d8267c"/><circle cx="417.00" cy="647.18" r="1.2" fill="#d8267c"/><circle cx="426.70" cy="645.95" r="1.2" fill="#d8267c"/><circle cx="438.30" cy="638.54" r="1.2" fill="#d8267c"/><circle cx="449.80" cy="628.04" r="1.2" fill="#d8267c"/><circle cx="463.30" cy="616.93" r="1.2" fill="#d8267c"/><circle cx="475.00" cy="613.84" r="1.2" fill="#d8267c"/><circle cx="485.70" cy="612.61" r="1.2" fill="#d8267c"/>
<text x="461.3" y="635.0" font-size="6.2" textLength="21.5" lengthAdjust="spacingAndGlyphs" fill="#222"><tspan font-style="italic">P</tspan> &lt; .001</text>
<line x1="396.20" y1="693.70" x2="408.70" y2="693.70" stroke="#4d565e" stroke-width="0.9"/>
<circle cx="402.40" cy="693.70" r="0.7" fill="#4d565e"/>
<text x="411.5" y="695.7" font-size="5.9" fill="#2a2a2a">Untreated</text>
<line x1="442.30" y1="693.70" x2="454.80" y2="693.70" stroke="#c8c8c8" stroke-width="0.9"/>
<circle cx="448.50" cy="693.70" r="0.7" fill="#c8c8c8"/>
<text x="455.0" y="695.7" font-size="5.9" fill="#2a2a2a">NTD</text>
<line x1="469.20" y1="693.70" x2="481.70" y2="693.70" stroke="#d8267c" stroke-width="0.9"/>
<circle cx="475.40" cy="693.70" r="0.7" fill="#d8267c"/>
<text x="484.5" y="695.7" font-size="5.9" fill="#2a2a2a">BCMA</text>
<defs>
<radialGradient id="mg" cx="0.5" cy="0.5" r="0.62">
<stop offset="0" stop-color="#ffffff"/><stop offset="0.6" stop-color="#f1f1f1"/><stop offset="0.84" stop-color="#cacaca"/><stop offset="1" stop-color="#828282"/>
</radialGradient>
<filter id="mott" x="0" y="0" width="1" height="1" color-interpolation-filters="sRGB">
<feTurbulence type="fractalNoise" baseFrequency="0.32" numOctaves="1" seed="5" result="n"/>
<feColorMatrix in="n" type="matrix" values="0 0 0 0 0.45  0 0 0 0 0.45  0 0 0 0 0.48  2.0 0 0 0 -1.0" result="spots"/>
<feComposite in="spots" in2="SourceAlpha" operator="in" result="sp2"/>
<feMerge result="mg2"><feMergeNode in="SourceGraphic"/><feMergeNode in="sp2"/></feMerge>
<feGaussianBlur in="mg2" stdDeviation="0.3"/>
</filter>
<linearGradient id="cbar" x1="0" y1="0" x2="0" y2="1">
<stop offset="0" stop-color="#1a1070"/><stop offset="0.08" stop-color="#2a2a9a"/><stop offset="0.2" stop-color="#3a6ac8"/><stop offset="0.3" stop-color="#4ab8e0"/>
<stop offset="0.42" stop-color="#5ab88a"/><stop offset="0.52" stop-color="#6abb4a"/><stop offset="0.64" stop-color="#8cc440"/><stop offset="0.74" stop-color="#e8e030"/>
<stop offset="0.84" stop-color="#f0a030"/><stop offset="0.94" stop-color="#e84a28"/><stop offset="1" stop-color="#e03a28"/>
</linearGradient>
<path id="mbody" d="M0,-7.6 C1.2,-7.6 2.1,-6.8 2.2,-5.6 C2.3,-4.6 2.0,-3.9 2.3,-3.2 C2.9,-2.4 3.8,-1.6 3.85,0 L3.85,4.2 C3.85,6.4 3.0,7.6 0,7.6 C-3.0,7.6 -3.85,6.4 -3.85,4.2 L-3.85,0 C-3.8,-1.6 -2.9,-2.4 -2.3,-3.2 C-2.0,-3.9 -2.3,-4.6 -2.2,-5.6 C-2.1,-6.8 -1.2,-7.6 0,-7.6 Z"/>
<clipPath id="mclip" clipPathUnits="userSpaceOnUse"><use href="#mbody"/></clipPath>
<g id="mouse">
<line x1="0" y1="-7" x2="0" y2="-10.2" stroke="#8a8a8a" stroke-width="0.8"/>
<use href="#mbody" fill="url(#mg)"/>
<g clip-path="url(#mclip)">
<ellipse cx="-0.9" cy="-4.2" rx="0.9" ry="0.8" fill="#8c8c8c" opacity="0.6"/>
<ellipse cx="1.5" cy="-0.5" rx="1.0" ry="1.5" fill="#9a9a9a" opacity="0.55"/>
<ellipse cx="-1.6" cy="1.8" rx="0.9" ry="1.1" fill="#a4a4a4" opacity="0.5"/>
<ellipse cx="1.0" cy="4.6" rx="1.1" ry="0.9" fill="#8e8e8e" opacity="0.55"/>
<ellipse cx="-2.6" cy="5.5" rx="1.2" ry="1.6" fill="#707070" opacity="0.5"/>
<ellipse cx="2.8" cy="-2.5" rx="0.8" ry="1.6" fill="#6a6a6a" opacity="0.45"/>
</g>
</g>
</defs>
<text x="203.4" y="242.7" font-size="11.2" font-weight="bold" fill="#111">F</text>
<rect x="216.3" y="267.6" width="94.6" height="74.39999999999998" fill="#050507"/>
<rect x="216.3" y="341.9" width="93.4" height="206.70000000000005" fill="#050507"/>
<rect x="318.4" y="267.6" width="65.0" height="281.0" fill="#050507"/>
<rect x="393.2" y="267.6" width="46.4" height="281.0" fill="#050507"/>
<rect x="449.8" y="267.6" width="48.8" height="281.0" fill="#050507"/>
<text x="213.6" y="262.6" font-size="6.3" text-anchor="end" fill="#222">Day</text>
<text x="213.2" y="280.09999999999997" font-size="6.3" text-anchor="end" fill="#222">18</text>
<text x="213.2" y="299.0" font-size="6.3" text-anchor="end" fill="#222">26</text>
<text x="213.2" y="317.5" font-size="6.3" text-anchor="end" fill="#222">32</text>
<text x="213.2" y="336.4" font-size="6.3" text-anchor="end" fill="#222">38</text>
<text x="213.2" y="355.4" font-size="6.3" text-anchor="end" fill="#222">46</text>
<text x="213.2" y="374.3" font-size="6.3" text-anchor="end" fill="#222">53</text>
<text x="213.2" y="393.0" font-size="6.3" text-anchor="end" fill="#222">60</text>
<text x="213.2" y="412.2" font-size="6.3" text-anchor="end" fill="#222">67</text>
<text x="213.2" y="431.2" font-size="6.3" text-anchor="end" fill="#222">74</text>
<text x="213.2" y="450.09999999999997" font-size="6.3" text-anchor="end" fill="#222">81</text>
<text x="213.2" y="469.09999999999997" font-size="6.3" text-anchor="end" fill="#222">89</text>
<text x="213.2" y="488.3" font-size="6.3" text-anchor="end" fill="#222">102</text>
<text x="213.2" y="507.2" font-size="6.3" text-anchor="end" fill="#222">116</text>
<text x="213.2" y="525.9000000000001" font-size="6.3" text-anchor="end" fill="#222">130</text>
<text x="213.2" y="542.4000000000001" font-size="6.3" text-anchor="end" fill="#222">144</text>
<text x="262.3" y="254.4" font-size="6.3" text-anchor="middle" fill="#222">10x10<tspan font-size="3.9" dy="-2.6">6</tspan></text>
<text x="262.8" y="262.6" font-size="5.9" text-anchor="middle" textLength="44" lengthAdjust="spacingAndGlyphs" fill="#222">BCMA CAR-iNKT</text>
<text x="350.5" y="254.4" font-size="6.3" text-anchor="middle" fill="#222">2x10<tspan font-size="3.9" dy="-2.6">6</tspan></text>
<text x="350.5" y="262.6" font-size="5.9" text-anchor="middle" textLength="44" lengthAdjust="spacingAndGlyphs" fill="#222">BCMA CAR-iNKT</text>
<text x="417.0" y="254.4" font-size="6.3" text-anchor="middle" fill="#222">10x10<tspan font-size="3.9" dy="-2.6">6</tspan></text>
<text x="416.8" y="262.6" font-size="5.9" text-anchor="middle" textLength="42" lengthAdjust="spacingAndGlyphs" fill="#222">CD19 CAR-iNKT</text>
<text x="473.6" y="262.6" font-size="5.9" text-anchor="middle" textLength="27" lengthAdjust="spacingAndGlyphs" fill="#222">Untreated</text>
<g filter="url(#mott)">
<g transform="translate(219.80 276.50) scale(0.94 1.03)"><use href="#mouse"/><g clip-path="url(#mclip)"><ellipse cx="-0.8" cy="-1.5" rx="3.4" ry="5.5" fill="#5038b8" opacity="0.6"/><ellipse cx="1.2" cy="3" rx="1.2" ry="1.2" fill="#20106a" opacity="0.5"/></g></g>
<g transform="translate(229.30 276.50) scale(0.94 1.03)"><use href="#mouse"/><g clip-path="url(#mclip)"><ellipse cx="0" cy="0" rx="3.8" ry="7.5" fill="#7a70d0" opacity="0.3"/></g></g>
<g transform="translate(238.80 276.50) scale(0.94 1.03)"><use href="#mouse"/><g clip-path="url(#mclip)"><ellipse cx="0.5" cy="4" rx="3.4" ry="3.4" fill="#4b30b0" opacity="0.6"/></g></g>
<g transform="translate(248.30 276.50) scale(0.94 1.03)"><use href="#mouse"/><g clip-path="url(#mclip)"><ellipse cx="-0.8" cy="-1.5" rx="3.4" ry="5.5" fill="#5038b8" opacity="0.6"/><ellipse cx="1.2" cy="3" rx="1.2" ry="1.2" fill="#20106a" opacity="0.5"/></g></g>
<g transform="translate(257.80 276.50) scale(0.94 1.03)"><use href="#mouse"/><g clip-path="url(#mclip)"><ellipse cx="1" cy="2" rx="1.8" ry="2.0" fill="#3a3490" opacity="0.6"/><ellipse cx="-1" cy="-3" rx="1.3" ry="1.3" fill="#3a3090" opacity="0.5"/><ellipse cx="-1.5" cy="4.5" rx="1.2" ry="1.2" fill="#302860" opacity="0.5"/></g></g>
<g transform="translate(267.30 276.50) scale(0.94 1.03)"><use href="#mouse"/><g clip-path="url(#mclip)"><ellipse cx="0" cy="0" rx="3.8" ry="7.5" fill="#7a70d0" opacity="0.3"/></g></g>
<g transform="translate(276.80 276.50) scale(0.94 1.03)"><use href="#mouse"/><g clip-path="url(#mclip)"><ellipse cx="0.5" cy="4" rx="3.4" ry="3.4" fill="#4b30b0" opacity="0.6"/></g></g>
<g transform="translate(286.30 276.50) scale(0.94 1.03)"><use href="#mouse"/><g clip-path="url(#mclip)"><ellipse cx="0" cy="0" rx="3.8" ry="7.5" fill="#7a70d0" opacity="0.3"/></g></g>
<g transform="translate(295.80 276.50) scale(0.94 1.03)"><use href="#mouse"/><g clip-path="url(#mclip)"><ellipse cx="0.5" cy="4" rx="3.4" ry="3.4" fill="#4b30b0" opacity="0.6"/></g></g>
<g transform="translate(305.30 276.50) scale(0.94 1.03)"><use href="#mouse"/><g clip-path="url(#mclip)"><ellipse cx="-0.8" cy="-1.5" rx="3.4" ry="5.5" fill="#5038b8" opacity="0.6"/><ellipse cx="1.2" cy="3" rx="1.2" ry="1.2" fill="#20106a" opacity="0.5"/></g></g>
<g transform="translate(219.80 295.20) scale(0.94 1.03)"><use href="#mouse"/></g>
<g transform="translate(229.30 295.20) scale(0.94 1.03)"><use href="#mouse"/></g>
<g transform="translate(238.80 295.20) scale(0.94 1.03)"><use href="#mouse"/></g>
<g transform="translate(248.30 295.20) scale(0.94 1.03)"><use href="#mouse"/></g>
<g transform="translate(257.80 295.20) scale(0.94 1.03)"><use href="#mouse"/></g>
<g transform="translate(267.30 295.20) scale(0.94 1.03)"><use href="#mouse"/></g>
<g transform="translate(276.80 295.20) scale(0.94 1.03)"><use href="#mouse"/></g>
<g transform="translate(286.30 295.20) scale(0.94 1.03)"><use href="#mouse"/></g>
<g transform="translate(295.80 295.20) scale(0.94 1.03)"><use href="#mouse"/></g>
<g transform="translate(305.30 295.20) scale(0.94 1.03)"><use href="#mouse"/></g>
<g transform="translate(219.80 313.20) scale(0.94 1.03)"><use href="#mouse"/></g>
<g transform="translate(229.30 313.20) scale(0.94 1.03)"><use href="#mouse"/></g>
<g transform="translate(238.80 313.20) scale(0.94 1.03)"><use href="#mouse"/></g>
<g transform="translate(248.30 313.20) scale(0.94 1.03)"><use href="#mouse"/></g>
<g transform="translate(257.80 313.20) scale(0.94 1.03)"><use href="#mouse"/><g clip-path="url(#mclip)"><ellipse cx="0" cy="-4" rx="3.2" ry="3.4" fill="#5a48c0" opacity="0.55"/></g></g>
<g transform="translate(267.30 313.20) scale(0.94 1.03)"><use href="#mouse"/></g>
<g transform="translate(276.80 313.20) scale(0.94 1.03)"><use href="#mouse"/></g>
<g transform="translate(286.30 313.20) scale(0.94 1.03)"><use href="#mouse"/></g>
<g transform="translate(295.80 313.20) scale(0.94 1.03)"><use href="#mouse"/></g>
<g transform="translate(305.30 313.20) scale(0.94 1.03)"><use href="#mouse"/></g>
<g transform="translate(219.80 331.20) scale(0.94 1.03)"><use href="#mouse"/></g>
<g transform="translate(229.30 331.20) scale(0.94 1.03)"><use href="#mouse"/></g>
<g transform="translate(238.80 331.20) scale(0.94 1.03)"><use href="#mouse"/></g>
<g transform="translate(248.30 331.20) scale(0.94 1.03)"><use href="#mouse"/></g>
<g transform="translate(257.80 331.20) scale(0.94 1.03)"><use href="#mouse"/></g>
<g transform="translate(267.30 331.20) scale(0.94 1.03)"><use href="#mouse"/></g>
<g transform="translate(276.80 331.20) scale(0.94 1.03)"><use href="#mouse"/></g>
<g transform="translate(286.30 331.20) scale(0.94 1.03)"><use href="#mouse"/></g>
<g transform="translate(295.80 331.20) scale(0.94 1.03)"><use href="#mouse"/></g>
<g transform="translate(305.30 331.20) scale(0.94 1.03)"><use href="#mouse"/></g>
<g transform="translate(219.80 352.30) scale(0.94 1.03)"><use href="#mouse"/></g>
<g transform="translate(229.30 352.30) scale(0.94 1.03)"><use href="#mouse"/></g>
<g transform="translate(238.80 352.30) scale(0.94 1.03)"><use href="#mouse"/></g>
<g transform="translate(248.30 352.30) scale(0.94 1.03)"><use href="#mouse"/></g>
<g transform="translate(257.80 352.30) scale(0.94 1.03)"><use href="#mouse"/></g>
<g transform="translate(267.30 352.30) scale(0.94 1.03)"><use href="#mouse"/></g>
<g transform="translate(276.80 352.30) scale(0.94 1.03)"><use href="#mouse"/></g>
<g transform="translate(286.30 352.30) scale(0.94 1.03)"><use href="#mouse"/></g>
<g transform="translate(295.80 352.30) scale(0.94 1.03)"><use href="#mouse"/></g>
<g transform="translate(305.30 352.30) scale(0.94 1.03)"><use href="#mouse"/></g>
<g transform="translate(219.80 372.10) scale(0.94 1.03)"><use href="#mouse"/></g>
<g transform="translate(229.30 372.10) scale(0.94 1.03)"><use href="#mouse"/></g>
<g transform="translate(238.80 372.10) scale(0.94 1.03)"><use href="#mouse"/></g>
<g transform="translate(248.30 372.10) scale(0.94 1.03)"><use href="#mouse"/></g>
<g transform="translate(257.80 372.10) scale(0.94 1.03)"><use href="#mouse"/></g>
<g transform="translate(267.30 372.10) scale(0.94 1.03)"><use href="#mouse"/></g>
<g transform="translate(276.80 372.10) scale(0.94 1.03)"><use href="#mouse"/></g>
<g transform="translate(286.30 372.10) scale(0.94 1.03)"><use href="#mouse"/></g>
<g transform="translate(295.80 372.10) scale(0.94 1.03)"><use href="#mouse"/></g>
<g transform="translate(305.30 372.10) scale(0.94 1.03)"><use href="#mouse"/></g>
<g transform="translate(219.80 389.50) scale(0.94 1.03)"><use href="#mouse"/></g>
<g transform="translate(229.30 389.50) scale(0.94 1.03)"><use href="#mouse"/></g>
<g transform="translate(238.80 389.50) scale(0.94 1.03)"><use href="#mouse"/></g>
<g transform="translate(248.30 389.50) scale(0.94 1.03)"><use href="#mouse"/></g>
<g transform="translate(257.80 389.50) scale(0.94 1.03)"><use href="#mouse"/><g clip-path="url(#mclip)"><ellipse cx="0" cy="-4" rx="3.2" ry="3.4" fill="#5a48c0" opacity="0.55"/></g></g>
<g transform="translate(267.30 389.50) scale(0.94 1.03)"><use href="#mouse"/></g>
<g transform="translate(276.80 389.50) scale(0.94 1.03)"><use href="#mouse"/><g clip-path="url(#mclip)"><ellipse cx="0.5" cy="4.5" rx="2.4" ry="2.2" fill="#2a3cb8" opacity="0.7"/></g></g>
<g transform="translate(286.30 389.50) scale(0.94 1.03)"><use href="#mouse"/></g>
<g transform="translate(295.80 389.50) scale(0.94 1.03)"><use href="#mouse"/></g>
<g transform="translate(305.30 389.50) scale(0.94 1.03)"><use href="#mouse"/></g>
<g transform="translate(219.80 408.70) scale(0.94 1.03)"><use href="#mouse"/></g>
<line x1="229.30" y1="398.90" x2="229.30" y2="401.70" stroke="#8a8a8a" stroke-width="0.7" opacity="0.8"/>
<g transform="translate(238.80 408.70) scale(0.94 1.03)"><use href="#mouse"/></g>
<g transform="translate(248.30 408.70) scale(0.94 1.03)"><use href="#mouse"/><g clip-path="url(#mclip)"><ellipse cx="0" cy="-5" rx="2.4" ry="2.0" fill="#e04a30" opacity="0.85"/></g></g>
<g transform="translate(257.80 408.70) scale(0.94 1.03)"><use href="#mouse"/></g>
<g transform="translate(267.30 408.70) scale(0.94 1.03)"><use href="#mouse"/></g>
<g transform="translate(276.80 408.70) scale(0.94 1.03)"><use href="#mouse"/><g clip-path="url(#mclip)"><ellipse cx="0.5" cy="4.5" rx="2.4" ry="2.2" fill="#2a3cb8" opacity="0.7"/></g></g>
<g transform="translate(286.30 408.70) scale(0.94 1.03)"><use href="#mouse"/></g>
<g transform="translate(295.80 408.70) scale(0.94 1.03)"><use href="#mouse"/></g>
<g transform="translate(305.30 408.70) scale(0.94 1.03)"><use href="#mouse"/></g>
<g transform="translate(219.80 428.00) scale(0.94 1.03)"><use href="#mouse"/><g clip-path="url(#mclip)"><ellipse cx="0" cy="-4" rx="3.2" ry="3.4" fill="#5a48c0" opacity="0.55"/></g></g>
<line x1="229.30" y1="418.20" x2="229.30" y2="421.00" stroke="#8a8a8a" stroke-width="0.7" opacity="0.8"/>
<g transform="translate(238.80 428.00) scale(0.94 1.03)"><use href="#mouse"/></g>
<line x1="248.30" y1="418.20" x2="248.30" y2="421.00" stroke="#8a8a8a" stroke-width="0.7" opacity="0.8"/>
<line x1="257.80" y1="418.20" x2="257.80" y2="421.00" stroke="#8a8a8a" stroke-width="0.7" opacity="0.8"/>
<g transform="translate(267.30 428.00) scale(0.94 1.03)"><use href="#mouse"/></g>
<g transform="translate(276.80 428.00) scale(0.94 1.03)"><use href="#mouse"/><g clip-path="url(#mclip)"><ellipse cx="0.5" cy="4.5" rx="2.4" ry="2.2" fill="#2a3cb8" opacity="0.7"/></g></g>
<g transform="translate(286.30 428.00) scale(0.94 1.03)"><use href="#mouse"/></g>
<g transform="translate(295.80 428.00) scale(0.94 1.03)"><use href="#mouse"/><g clip-path="url(#mclip)"><ellipse cx="0" cy="-4" rx="3.2" ry="3.4" fill="#5a48c0" opacity="0.55"/></g></g>
<g transform="translate(305.30 428.00) scale(0.94 1.03)"><use href="#mouse"/></g>
<g transform="translate(219.80 446.80) scale(0.94 1.03)"><use href="#mouse"/></g>
<line x1="229.30" y1="437.00" x2="229.30" y2="439.80" stroke="#8a8a8a" stroke-width="0.7" opacity="0.8"/>
<g transform="translate(238.80 446.80) scale(0.94 1.03)"><use href="#mouse"/></g>
<line x1="248.30" y1="437.00" x2="248.30" y2="439.80" stroke="#8a8a8a" stroke-width="0.7" opacity="0.8"/>
<line x1="257.80" y1="437.00" x2="257.80" y2="439.80" stroke="#8a8a8a" stroke-width="0.7" opacity="0.8"/>
<g transform="translate(267.30 446.80) scale(0.94 1.03)"><use href="#mouse"/></g>
<g transform="translate(276.80 446.80) scale(0.94 1.03)"><use href="#mouse"/><g clip-path="url(#mclip)"><ellipse cx="1" cy="2" rx="1.8" ry="2.0" fill="#3a3490" opacity="0.6"/><ellipse cx="-1" cy="-3" rx="1.3" ry="1.3" fill="#3a3090" opacity="0.5"/><ellipse cx="-1.5" cy="4.5" rx="1.2" ry="1.2" fill="#302860" opacity="0.5"/></g></g>
<g transform="translate(286.30 446.80) scale(0.94 1.03)"><use href="#mouse"/></g>
<g transform="translate(295.80 446.80) scale(0.94 1.03)"><use href="#mouse"/></g>
<g transform="translate(305.30 446.80) scale(0.94 1.03)"><use href="#mouse"/></g>
<g transform="translate(219.80 466.00) scale(0.94 1.03)"><use href="#mouse"/><g clip-path="url(#mclip)"><ellipse cx="-0.8" cy="-1.5" rx="3.4" ry="5.5" fill="#5038b8" opacity="0.6"/><ellipse cx="1.2" cy="3" rx="1.2" ry="1.2" fill="#20106a" opacity="0.5"/></g></g>
<line x1="229.30" y1="456.20" x2="229.30" y2="459.00" stroke="#8a8a8a" stroke-width="0.7" opacity="0.8"/>
<g transform="translate(238.80 466.00) scale(0.94 1.03)"><use href="#mouse"/></g>
<line x1="248.30" y1="456.20" x2="248.30" y2="459.00" stroke="#8a8a8a" stroke-width="0.7" opacity="0.8"/>
<line x1="257.80" y1="456.20" x2="257.80" y2="459.00" stroke="#8a8a8a" stroke-width="0.7" opacity="0.8"/>
<g transform="translate(267.30 466.00) scale(0.94 1.03)"><use href="#mouse"/></g>
<g transform="translate(276.80 466.00) scale(0.94 1.03)"><use href="#mouse"/><g clip-path="url(#mclip)"><ellipse cx="0.5" cy="4.5" rx="2.4" ry="2.2" fill="#2a3cb8" opacity="0.7"/></g></g>
<g transform="translate(286.30 466.00) scale(0.94 1.03)"><use href="#mouse"/></g>
<line x1="295.80" y1="456.20" x2="295.80" y2="459.00" stroke="#8a8a8a" stroke-width="0.7" opacity="0.8"/>
<g transform="translate(305.30 466.00) scale(0.94 1.03)"><use href="#mouse"/></g>
<g transform="translate(219.80 485.00) scale(0.94 1.03)"><use href="#mouse"/><g clip-path="url(#mclip)"><ellipse cx="0" cy="-4.6" rx="3.4" ry="2.6" fill="#e05a40" opacity="0.9"/><ellipse cx="0" cy="2.8" rx="3.8" ry="3.4" fill="#4b30b0" opacity="0.9"/><ellipse cx="0" cy="0" rx="2.0" ry="0.8" fill="#ffffff" opacity="0.6"/></g></g>
<line x1="229.30" y1="475.20" x2="229.30" y2="478.00" stroke="#8a8a8a" stroke-width="0.7" opacity="0.8"/>
<g transform="translate(238.80 485.00) scale(0.94 1.03)"><use href="#mouse"/></g>
<line x1="248.30" y1="475.20" x2="248.30" y2="478.00" stroke="#8a8a8a" stroke-width="0.7" opacity="0.8"/>
<line x1="257.80" y1="475.20" x2="257.80" y2="478.00" stroke="#8a8a8a" stroke-width="0.7" opacity="0.8"/>
<g transform="translate(267.30 485.00) scale(0.94 1.03)"><use href="#mouse"/><g clip-path="url(#mclip)"><ellipse cx="0" cy="-4" rx="3.2" ry="3.4" fill="#5a48c0" opacity="0.55"/></g></g>
<g transform="translate(276.80 485.00) scale(0.94 1.03)"><use href="#mouse"/><g clip-path="url(#mclip)"><ellipse cx="-0.5" cy="-3.2" rx="3.5" ry="3.0" fill="#6a58d0" opacity="0.7"/><ellipse cx="0.8" cy="2.5" rx="2.6" ry="3.0" fill="#e8502a" opacity="0.9"/><ellipse cx="0" cy="6.2" rx="3.5" ry="1.6" fill="#2a30c0" opacity="0.9"/></g></g>
<g transform="translate(286.30 485.00) scale(0.94 1.03)"><use href="#mouse"/></g>
<line x1="295.80" y1="475.20" x2="295.80" y2="478.00" stroke="#8a8a8a" stroke-width="0.7" opacity="0.8"/>
<g transform="translate(305.30 485.00) scale(0.94 1.03)"><use href="#mouse"/><g clip-path="url(#mclip)"><ellipse cx="0.5" cy="4" rx="3.4" ry="3.4" fill="#4b30b0" opacity="0.6"/></g></g>
<line x1="219.80" y1="493.70" x2="219.80" y2="496.50" stroke="#8a8a8a" stroke-width="0.7" opacity="0.8"/>
<line x1="229.30" y1="493.70" x2="229.30" y2="496.50" stroke="#8a8a8a" stroke-width="0.7" opacity="0.8"/>
<g transform="translate(238.80 503.50) scale(0.94 1.03)"><use href="#mouse"/><g clip-path="url(#mclip)"><ellipse cx="0.5" cy="4.5" rx="2.4" ry="2.2" fill="#2a3cb8" opacity="0.7"/></g></g>
<line x1="248.30" y1="493.70" x2="248.30" y2="496.50" stroke="#8a8a8a" stroke-width="0.7" opacity="0.8"/>
<line x1="257.80" y1="493.70" x2="257.80" y2="496.50" stroke="#8a8a8a" stroke-width="0.7" opacity="0.8"/>
<line x1="267.30" y1="493.70" x2="267.30" y2="496.50" stroke="#8a8a8a" stroke-width="0.7" opacity="0.8"/>
<line x1="276.80" y1="493.70" x2="276.80" y2="496.50" stroke="#8a8a8a" stroke-width="0.7" opacity="0.8"/>
<g transform="translate(286.30 503.50) scale(0.94 1.03)"><use href="#mouse"/></g>
<line x1="295.80" y1="493.70" x2="295.80" y2="496.50" stroke="#8a8a8a" stroke-width="0.7" opacity="0.8"/>
<line x1="305.30" y1="493.70" x2="305.30" y2="496.50" stroke="#8a8a8a" stroke-width="0.7" opacity="0.8"/>
<line x1="219.80" y1="512.90" x2="219.80" y2="515.70" stroke="#8a8a8a" stroke-width="0.7" opacity="0.8"/>
<line x1="229.30" y1="512.90" x2="229.30" y2="515.70" stroke="#8a8a8a" stroke-width="0.7" opacity="0.8"/>
<g transform="translate(238.80 522.70) scale(0.94 1.03)"><use href="#mouse"/><g clip-path="url(#mclip)"><ellipse cx="-0.5" cy="-3.2" rx="3.5" ry="3.0" fill="#6a58d0" opacity="0.7"/><ellipse cx="0.8" cy="2.5" rx="2.6" ry="3.0" fill="#e8502a" opacity="0.9"/><ellipse cx="0" cy="6.2" rx="3.5" ry="1.6" fill="#2a30c0" opacity="0.9"/></g></g>
<line x1="248.30" y1="512.90" x2="248.30" y2="515.70" stroke="#8a8a8a" stroke-width="0.7" opacity="0.8"/>
<line x1="257.80" y1="512.90" x2="257.80" y2="515.70" stroke="#8a8a8a" stroke-width="0.7" opacity="0.8"/>
<line x1="267.30" y1="512.90" x2="267.30" y2="515.70" stroke="#8a8a8a" stroke-width="0.7" opacity="0.8"/>
<line x1="276.80" y1="512.90" x2="276.80" y2="515.70" stroke="#8a8a8a" stroke-width="0.7" opacity="0.8"/>
<g transform="translate(286.30 522.70) scale(0.94 1.03)"><use href="#mouse"/></g>
<line x1="295.80" y1="512.90" x2="295.80" y2="515.70" stroke="#8a8a8a" stroke-width="0.7" opacity="0.8"/>
<line x1="305.30" y1="512.90" x2="305.30" y2="515.70" stroke="#8a8a8a" stroke-width="0.7" opacity="0.8"/>
<line x1="219.80" y1="531.40" x2="219.80" y2="534.20" stroke="#8a8a8a" stroke-width="0.7" opacity="0.8"/>
<line x1="229.30" y1="531.40" x2="229.30" y2="534.20" stroke="#8a8a8a" stroke-width="0.7" opacity="0.8"/>
<line x1="238.80" y1="531.40" x2="238.80" y2="534.20" stroke="#8a8a8a" stroke-width="0.7" opacity="0.8"/>
<line x1="248.30" y1="531.40" x2="248.30" y2="534.20" stroke="#8a8a8a" stroke-width="0.7" opacity="0.8"/>
<line x1="257.80" y1="531.40" x2="257.80" y2="534.20" stroke="#8a8a8a" stroke-width="0.7" opacity="0.8"/>
<line x1="267.30" y1="531.40" x2="267.30" y2="534.20" stroke="#8a8a8a" stroke-width="0.7" opacity="0.8"/>
<line x1="276.80" y1="531.40" x2="276.80" y2="534.20" stroke="#8a8a8a" stroke-width="0.7" opacity="0.8"/>
<g transform="translate(286.30 541.20) scale(0.94 1.03)"><use href="#mouse"/></g>
<line x1="295.80" y1="531.40" x2="295.80" y2="534.20" stroke="#8a8a8a" stroke-width="0.7" opacity="0.8"/>
<line x1="305.30" y1="531.40" x2="305.30" y2="534.20" stroke="#8a8a8a" stroke-width="0.7" opacity="0.8"/>
<rect x="244.8" y="424.2" width="6.4" height="6.0" fill="#fff"/><rect x="246.8" y="426.0" width="2.4" height="2.4" fill="#111"/>
<g transform="translate(323.00 276.50) scale(0.94 1.03)"><use href="#mouse"/><g clip-path="url(#mclip)"><ellipse cx="0" cy="0" rx="3.8" ry="7.5" fill="#7a70d0" opacity="0.3"/></g></g>
<g transform="translate(332.27 276.50) scale(0.94 1.03)"><use href="#mouse"/></g>
<g transform="translate(341.54 276.50) scale(0.94 1.03)"><use href="#mouse"/><g clip-path="url(#mclip)"><ellipse cx="-0.8" cy="-1.5" rx="3.4" ry="5.5" fill="#5038b8" opacity="0.6"/><ellipse cx="1.2" cy="3" rx="1.2" ry="1.2" fill="#20106a" opacity="0.5"/></g></g>
<g transform="translate(350.81 276.50) scale(0.94 1.03)"><use href="#mouse"/></g>
<g transform="translate(360.08 276.50) scale(0.94 1.03)"><use href="#mouse"/><g clip-path="url(#mclip)"><ellipse cx="1" cy="2" rx="1.8" ry="2.0" fill="#3a3490" opacity="0.6"/><ellipse cx="-1" cy="-3" rx="1.3" ry="1.3" fill="#3a3090" opacity="0.5"/><ellipse cx="-1.5" cy="4.5" rx="1.2" ry="1.2" fill="#302860" opacity="0.5"/></g></g>
<g transform="translate(369.35 276.50) scale(0.94 1.03)"><use href="#mouse"/></g>
<g transform="translate(378.62 276.50) scale(0.94 1.03)"><use href="#mouse"/><g clip-path="url(#mclip)"><ellipse cx="-0.8" cy="-1.5" rx="3.4" ry="5.5" fill="#5038b8" opacity="0.6"/><ellipse cx="1.2" cy="3" rx="1.2" ry="1.2" fill="#20106a" opacity="0.5"/></g></g>
<g transform="translate(323.00 295.20) scale(0.94 1.03)"><use href="#mouse"/></g>
<g transform="translate(332.27 295.20) scale(0.94 1.03)"><use href="#mouse"/></g>
<g transform="translate(341.54 295.20) scale(0.94 1.03)"><use href="#mouse"/></g>
<g transform="translate(350.81 295.20) scale(0.94 1.03)"><use href="#mouse"/></g>
<g transform="translate(360.08 295.20) scale(0.94 1.03)"><use href="#mouse"/></g>
<g transform="translate(369.35 295.20) scale(0.94 1.03)"><use href="#mouse"/></g>
<g transform="translate(378.62 295.20) scale(0.94 1.03)"><use href="#mouse"/></g>
<g transform="translate(323.00 313.20) scale(0.94 1.03)"><use href="#mouse"/></g>
<g transform="translate(332.27 313.20) scale(0.94 1.03)"><use href="#mouse"/><g clip-path="url(#mclip)"><ellipse cx="1" cy="2" rx="1.8" ry="2.0" fill="#3a3490" opacity="0.6"/><ellipse cx="-1" cy="-3" rx="1.3" ry="1.3" fill="#3a3090" opacity="0.5"/><ellipse cx="-1.5" cy="4.5" rx="1.2" ry="1.2" fill="#302860" opacity="0.5"/></g></g>
<g transform="translate(341.54 313.20) scale(0.94 1.03)"><use href="#mouse"/></g>
<g transform="translate(350.81 313.20) scale(0.94 1.03)"><use href="#mouse"/></g>
<g transform="translate(360.08 313.20) scale(0.94 1.03)"><use href="#mouse"/></g>
<g transform="translate(369.35 313.20) scale(0.94 1.03)"><use href="#mouse"/></g>
<g transform="translate(378.62 313.20) scale(0.94 1.03)"><use href="#mouse"/></g>
<line x1="323.00" y1="321.40" x2="323.00" y2="324.20" stroke="#8a8a8a" stroke-width="0.7" opacity="0.8"/>
<g transform="translate(332.27 331.20) scale(0.94 1.03)"><use href="#mouse"/><g clip-path="url(#mclip)"><ellipse cx="0" cy="-3.5" rx="4.0" ry="4.2" fill="#4a30b8" opacity="0.9"/><ellipse cx="0" cy="4.5" rx="4.0" ry="3.4" fill="#5448c0" opacity="0.8"/><ellipse cx="0.8" cy="0.8" rx="1.7" ry="1.5" fill="#ffffff" opacity="0.7"/></g></g>
<g transform="translate(341.54 331.20) scale(0.94 1.03)"><use href="#mouse"/></g>
<g transform="translate(350.81 331.20) scale(0.94 1.03)"><use href="#mouse"/></g>
<g transform="translate(360.08 331.20) scale(0.94 1.03)"><use href="#mouse"/></g>
<g transform="translate(369.35 331.20) scale(0.94 1.03)"><use href="#mouse"/></g>
<g transform="translate(378.62 331.20) scale(0.94 1.03)"><use href="#mouse"/></g>
<line x1="323.00" y1="342.50" x2="323.00" y2="345.30" stroke="#8a8a8a" stroke-width="0.7" opacity="0.8"/>
<g transform="translate(332.27 352.30) scale(0.94 1.03)"><use href="#mouse"/><g clip-path="url(#mclip)"><ellipse cx="0" cy="-4.6" rx="3.4" ry="2.6" fill="#e05a40" opacity="0.9"/><ellipse cx="0" cy="2.8" rx="3.8" ry="3.4" fill="#4b30b0" opacity="0.9"/><ellipse cx="0" cy="0" rx="2.0" ry="0.8" fill="#ffffff" opacity="0.6"/></g></g>
<g transform="translate(341.54 352.30) scale(0.94 1.03)"><use href="#mouse"/></g>
<g transform="translate(350.81 352.30) scale(0.94 1.03)"><use href="#mouse"/></g>
<g transform="translate(360.08 352.30) scale(0.94 1.03)"><use href="#mouse"/><g clip-path="url(#mclip)"><ellipse cx="0" cy="-4" rx="3.2" ry="3.4" fill="#5a48c0" opacity="0.55"/></g></g>
<g transform="translate(369.35 352.30) scale(0.94 1.03)"><use href="#mouse"/><g clip-path="url(#mclip)"><ellipse cx="0" cy="0" rx="3.8" ry="7.5" fill="#7a70d0" opacity="0.3"/></g></g>
<line x1="378.62" y1="342.50" x2="378.62" y2="345.30" stroke="#8a8a8a" stroke-width="0.7" opacity="0.8"/>
<line x1="323.00" y1="362.30" x2="323.00" y2="365.10" stroke="#8a8a8a" stroke-width="0.7" opacity="0.8"/>
<line x1="332.27" y1="362.30" x2="332.27" y2="365.10" stroke="#8a8a8a" stroke-width="0.7" opacity="0.8"/>
<g transform="translate(341.54 372.10) scale(0.94 1.03)"><use href="#mouse"/></g>
<g transform="translate(350.81 372.10) scale(0.94 1.03)"><use href="#mouse"/></g>
<line x1="360.08" y1="362.30" x2="360.08" y2="365.10" stroke="#8a8a8a" stroke-width="0.7" opacity="0.8"/>
<g transform="translate(369.35 372.10) scale(0.94 1.03)"><use href="#mouse"/><g clip-path="url(#mclip)"><ellipse cx="0.5" cy="4.5" rx="2.4" ry="2.2" fill="#2a3cb8" opacity="0.7"/></g></g>
<line x1="378.62" y1="362.30" x2="378.62" y2="365.10" stroke="#8a8a8a" stroke-width="0.7" opacity="0.8"/>
<line x1="323.00" y1="379.70" x2="323.00" y2="382.50" stroke="#8a8a8a" stroke-width="0.7" opacity="0.8"/>
<line x1="332.27" y1="379.70" x2="332.27" y2="382.50" stroke="#8a8a8a" stroke-width="0.7" opacity="0.8"/>
<g transform="translate(341.54 389.50) scale(0.94 1.03)"><use href="#mouse"/></g>
<g transform="translate(350.81 389.50) scale(0.94 1.03)"><use href="#mouse"/></g>
<line x1="360.08" y1="379.70" x2="360.08" y2="382.50" stroke="#8a8a8a" stroke-width="0.7" opacity="0.8"/>
<g transform="translate(369.35 389.50) scale(0.94 1.03)"><use href="#mouse"/><g clip-path="url(#mclip)"><ellipse cx="0" cy="-4" rx="3.2" ry="3.4" fill="#5a48c0" opacity="0.55"/></g></g>
<line x1="378.62" y1="379.70" x2="378.62" y2="382.50" stroke="#8a8a8a" stroke-width="0.7" opacity="0.8"/>
<line x1="323.00" y1="398.90" x2="323.00" y2="401.70" stroke="#8a8a8a" stroke-width="0.7" opacity="0.8"/>
<line x1="332.27" y1="398.90" x2="332.27" y2="401.70" stroke="#8a8a8a" stroke-width="0.7" opacity="0.8"/>
<g transform="translate(341.54 408.70) scale(0.94 1.03)"><use href="#mouse"/><g clip-path="url(#mclip)"><ellipse cx="0" cy="-3.5" rx="4.0" ry="4.2" fill="#4a30b8" opacity="0.9"/><ellipse cx="0" cy="4.5" rx="4.0" ry="3.4" fill="#5448c0" opacity="0.8"/><ellipse cx="0.8" cy="0.8" rx="1.7" ry="1.5" fill="#ffffff" opacity="0.7"/></g></g>
<line x1="350.81" y1="398.90" x2="350.81" y2="401.70" stroke="#8a8a8a" stroke-width="0.7" opacity="0.8"/>
<line x1="360.08" y1="398.90" x2="360.08" y2="401.70" stroke="#8a8a8a" stroke-width="0.7" opacity="0.8"/>
<line x1="369.35" y1="398.90" x2="369.35" y2="401.70" stroke="#8a8a8a" stroke-width="0.7" opacity="0.8"/>
<line x1="378.62" y1="398.90" x2="378.62" y2="401.70" stroke="#8a8a8a" stroke-width="0.7" opacity="0.8"/>
<line x1="323.00" y1="418.20" x2="323.00" y2="421.00" stroke="#8a8a8a" stroke-width="0.7" opacity="0.8"/>
<line x1="332.27" y1="418.20" x2="332.27" y2="421.00" stroke="#8a8a8a" stroke-width="0.7" opacity="0.8"/>
<g transform="translate(341.54 428.00) scale(0.94 1.03)"><use href="#mouse"/><g clip-path="url(#mclip)"><ellipse cx="0" cy="-3" rx="4.0" ry="4.8" fill="#4a2cb8" opacity="0.95"/><ellipse cx="0" cy="0.9" rx="3.0" ry="1.0" fill="#ffffff" opacity="0.7"/><ellipse cx="0" cy="4.6" rx="4.0" ry="3.4" fill="#5044b8" opacity="0.88"/></g></g>
<line x1="350.81" y1="418.20" x2="350.81" y2="421.00" stroke="#8a8a8a" stroke-width="0.7" opacity="0.8"/>
<line x1="360.08" y1="418.20" x2="360.08" y2="421.00" stroke="#8a8a8a" stroke-width="0.7" opacity="0.8"/>
<line x1="369.35" y1="418.20" x2="369.35" y2="421.00" stroke="#8a8a8a" stroke-width="0.7" opacity="0.8"/>
<line x1="378.62" y1="418.20" x2="378.62" y2="421.00" stroke="#8a8a8a" stroke-width="0.7" opacity="0.8"/>
<line x1="323.00" y1="437.00" x2="323.00" y2="439.80" stroke="#8a8a8a" stroke-width="0.7" opacity="0.8"/>
<line x1="332.27" y1="437.00" x2="332.27" y2="439.80" stroke="#8a8a8a" stroke-width="0.7" opacity="0.8"/>
<g transform="translate(341.54 446.80) scale(0.94 1.03)"><use href="#mouse"/><g clip-path="url(#mclip)"><ellipse cx="0" cy="-3" rx="4.0" ry="4.8" fill="#4a2cb8" opacity="0.95"/><ellipse cx="0" cy="0.9" rx="3.0" ry="1.0" fill="#ffffff" opacity="0.7"/><ellipse cx="0" cy="4.6" rx="4.0" ry="3.4" fill="#5044b8" opacity="0.88"/></g></g>
<line x1="350.81" y1="437.00" x2="350.81" y2="439.80" stroke="#8a8a8a" stroke-width="0.7" opacity="0.8"/>
<line x1="360.08" y1="437.00" x2="360.08" y2="439.80" stroke="#8a8a8a" stroke-width="0.7" opacity="0.8"/>
<line x1="369.35" y1="437.00" x2="369.35" y2="439.80" stroke="#8a8a8a" stroke-width="0.7" opacity="0.8"/>
<line x1="378.62" y1="437.00" x2="378.62" y2="439.80" stroke="#8a8a8a" stroke-width="0.7" opacity="0.8"/>
<line x1="323.00" y1="456.20" x2="323.00" y2="459.00" stroke="#8a8a8a" stroke-width="0.7" opacity="0.8"/>
<line x1="332.27" y1="456.20" x2="332.27" y2="459.00" stroke="#8a8a8a" stroke-width="0.7" opacity="0.8"/>
<g transform="translate(341.54 466.00) scale(0.94 1.03)"><use href="#mouse"/><g clip-path="url(#mclip)"><ellipse cx="0" cy="0" rx="4" ry="8" fill="#2a3ad0" opacity="0.95"/><ellipse cx="0" cy="1" rx="2.6" ry="4.5" fill="#40b8d8" opacity="0.9"/><ellipse cx="0" cy="1.5" rx="1.6" ry="2.8" fill="#c8e040" opacity="0.9"/></g></g>
<line x1="350.81" y1="456.20" x2="350.81" y2="459.00" stroke="#8a8a8a" stroke-width="0.7" opacity="0.8"/>
<line x1="360.08" y1="456.20" x2="360.08" y2="459.00" stroke="#8a8a8a" stroke-width="0.7" opacity="0.8"/>
<line x1="369.35" y1="456.20" x2="369.35" y2="459.00" stroke="#8a8a8a" stroke-width="0.7" opacity="0.8"/>
<line x1="378.62" y1="456.20" x2="378.62" y2="459.00" stroke="#8a8a8a" stroke-width="0.7" opacity="0.8"/>
<line x1="323.00" y1="475.20" x2="323.00" y2="478.00" stroke="#8a8a8a" stroke-width="0.7" opacity="0.8"/>
<line x1="332.27" y1="475.20" x2="332.27" y2="478.00" stroke="#8a8a8a" stroke-width="0.7" opacity="0.8"/>
<line x1="341.54" y1="475.20" x2="341.54" y2="478.00" stroke="#8a8a8a" stroke-width="0.7" opacity="0.8"/>
<line x1="350.81" y1="475.20" x2="350.81" y2="478.00" stroke="#8a8a8a" stroke-width="0.7" opacity="0.8"/>
<line x1="360.08" y1="475.20" x2="360.08" y2="478.00" stroke="#8a8a8a" stroke-width="0.7" opacity="0.8"/>
<line x1="369.35" y1="475.20" x2="369.35" y2="478.00" stroke="#8a8a8a" stroke-width="0.7" opacity="0.8"/>
<line x1="378.62" y1="475.20" x2="378.62" y2="478.00" stroke="#8a8a8a" stroke-width="0.7" opacity="0.8"/>
<line x1="323.00" y1="493.70" x2="323.00" y2="496.50" stroke="#8a8a8a" stroke-width="0.7" opacity="0.8"/>
<line x1="332.27" y1="493.70" x2="332.27" y2="496.50" stroke="#8a8a8a" stroke-width="0.7" opacity="0.8"/>
<line x1="341.54" y1="493.70" x2="341.54" y2="496.50" stroke="#8a8a8a" stroke-width="0.7" opacity="0.8"/>
<line x1="350.81" y1="493.70" x2="350.81" y2="496.50" stroke="#8a8a8a" stroke-width="0.7" opacity="0.8"/>
<line x1="360.08" y1="493.70" x2="360.08" y2="496.50" stroke="#8a8a8a" stroke-width="0.7" opacity="0.8"/>
<line x1="369.35" y1="493.70" x2="369.35" y2="496.50" stroke="#8a8a8a" stroke-width="0.7" opacity="0.8"/>
<line x1="378.62" y1="493.70" x2="378.62" y2="496.50" stroke="#8a8a8a" stroke-width="0.7" opacity="0.8"/>
<line x1="323.00" y1="512.90" x2="323.00" y2="515.70" stroke="#8a8a8a" stroke-width="0.7" opacity="0.8"/>
<line x1="332.27" y1="512.90" x2="332.27" y2="515.70" stroke="#8a8a8a" stroke-width="0.7" opacity="0.8"/>
<line x1="341.54" y1="512.90" x2="341.54" y2="515.70" stroke="#8a8a8a" stroke-width="0.7" opacity="0.8"/>
<line x1="350.81" y1="512.90" x2="350.81" y2="515.70" stroke="#8a8a8a" stroke-width="0.7" opacity="0.8"/>
<line x1="360.08" y1="512.90" x2="360.08" y2="515.70" stroke="#8a8a8a" stroke-width="0.7" opacity="0.8"/>
<line x1="369.35" y1="512.90" x2="369.35" y2="515.70" stroke="#8a8a8a" stroke-width="0.7" opacity="0.8"/>
<line x1="378.62" y1="512.90" x2="378.62" y2="515.70" stroke="#8a8a8a" stroke-width="0.7" opacity="0.8"/>
<line x1="323.00" y1="531.40" x2="323.00" y2="534.20" stroke="#8a8a8a" stroke-width="0.7" opacity="0.8"/>
<line x1="332.27" y1="531.40" x2="332.27" y2="534.20" stroke="#8a8a8a" stroke-width="0.7" opacity="0.8"/>
<line x1="341.54" y1="531.40" x2="341.54" y2="534.20" stroke="#8a8a8a" stroke-width="0.7" opacity="0.8"/>
<line x1="350.81" y1="531.40" x2="350.81" y2="534.20" stroke="#8a8a8a" stroke-width="0.7" opacity="0.8"/>
<line x1="360.08" y1="531.40" x2="360.08" y2="534.20" stroke="#8a8a8a" stroke-width="0.7" opacity="0.8"/>
<line x1="369.35" y1="531.40" x2="369.35" y2="534.20" stroke="#8a8a8a" stroke-width="0.7" opacity="0.8"/>
<line x1="378.62" y1="531.40" x2="378.62" y2="534.20" stroke="#8a8a8a" stroke-width="0.7" opacity="0.8"/>
<g transform="translate(398.30 276.50) scale(0.94 1.03)"><use href="#mouse"/><g clip-path="url(#mclip)"><ellipse cx="0" cy="0" rx="3.8" ry="7.5" fill="#7a70d0" opacity="0.3"/></g></g>
<g transform="translate(407.35 276.50) scale(0.94 1.03)"><use href="#mouse"/><g clip-path="url(#mclip)"><ellipse cx="0" cy="0" rx="3.8" ry="7.5" fill="#7a70d0" opacity="0.3"/></g></g>
<g transform="translate(416.40 276.50) scale(0.94 1.03)"><use href="#mouse"/></g>
<g transform="translate(425.45 276.50) scale(0.94 1.03)"><use href="#mouse"/></g>
<g transform="translate(434.50 276.50) scale(0.94 1.03)"><use href="#mouse"/><g clip-path="url(#mclip)"><ellipse cx="-0.8" cy="-1.5" rx="3.4" ry="5.5" fill="#5038b8" opacity="0.6"/><ellipse cx="1.2" cy="3" rx="1.2" ry="1.2" fill="#20106a" opacity="0.5"/></g></g>
<g transform="translate(398.30 295.20) scale(0.94 1.03)"><use href="#mouse"/></g>
<g transform="translate(407.35 295.20) scale(0.94 1.03)"><use href="#mouse"/></g>
<g transform="translate(416.40 295.20) scale(0.94 1.03)"><use href="#mouse"/></g>
<g transform="translate(425.45 295.20) scale(0.94 1.03)"><use href="#mouse"/><g clip-path="url(#mclip)"><ellipse cx="0" cy="-3.5" rx="4.0" ry="4.2" fill="#4a30b8" opacity="0.9"/><ellipse cx="0" cy="4.5" rx="4.0" ry="3.4" fill="#5448c0" opacity="0.8"/><ellipse cx="0.8" cy="0.8" rx="1.7" ry="1.5" fill="#ffffff" opacity="0.7"/></g></g>
<g transform="translate(434.50 295.20) scale(0.94 1.03)"><use href="#mouse"/><g clip-path="url(#mclip)"><ellipse cx="0" cy="0" rx="3.8" ry="7.5" fill="#7a70d0" opacity="0.3"/></g></g>
<g transform="translate(398.30 313.20) scale(0.94 1.03)"><use href="#mouse"/><g clip-path="url(#mclip)"><ellipse cx="0" cy="-3" rx="4.0" ry="4.8" fill="#4a2cb8" opacity="0.95"/><ellipse cx="0" cy="0.9" rx="3.0" ry="1.0" fill="#ffffff" opacity="0.7"/><ellipse cx="0" cy="4.6" rx="4.0" ry="3.4" fill="#5044b8" opacity="0.88"/></g></g>
<g transform="translate(407.35 313.20) scale(0.94 1.03)"><use href="#mouse"/><g clip-path="url(#mclip)"><ellipse cx="0" cy="-3" rx="4.0" ry="4.8" fill="#4a2cb8" opacity="0.95"/><ellipse cx="0" cy="0.9" rx="3.0" ry="1.0" fill="#ffffff" opacity="0.7"/><ellipse cx="0" cy="4.6" rx="4.0" ry="3.4" fill="#5044b8" opacity="0.88"/></g></g>
<g transform="translate(416.40 313.20) scale(0.94 1.03)"><use href="#mouse"/><g clip-path="url(#mclip)"><ellipse cx="0" cy="-3" rx="4.0" ry="4.8" fill="#4a2cb8" opacity="0.95"/><ellipse cx="0" cy="0.9" rx="3.0" ry="1.0" fill="#ffffff" opacity="0.7"/><ellipse cx="0" cy="4.6" rx="4.0" ry="3.4" fill="#5044b8" opacity="0.88"/></g></g>
<g transform="translate(425.45 313.20) scale(0.94 1.03)"><use href="#mouse"/><g clip-path="url(#mclip)"><ellipse cx="0" cy="-3" rx="4.0" ry="4.8" fill="#4a2cb8" opacity="0.95"/><ellipse cx="0" cy="0.9" rx="3.0" ry="1.0" fill="#ffffff" opacity="0.7"/><ellipse cx="0" cy="4.6" rx="4.0" ry="3.4" fill="#5044b8" opacity="0.88"/></g></g>
<g transform="translate(434.50 313.20) scale(0.94 1.03)"><use href="#mouse"/><g clip-path="url(#mclip)"><ellipse cx="0" cy="-3" rx="4.0" ry="4.8" fill="#4a2cb8" opacity="0.95"/><ellipse cx="0" cy="0.9" rx="3.0" ry="1.0" fill="#ffffff" opacity="0.7"/><ellipse cx="0" cy="4.6" rx="4.0" ry="3.4" fill="#5044b8" opacity="0.88"/></g></g>
<g transform="translate(398.30 331.20) scale(0.94 1.03)"><use href="#mouse"/><g clip-path="url(#mclip)"><ellipse cx="0" cy="-3" rx="4.0" ry="4.8" fill="#4a2cb8" opacity="0.95"/><ellipse cx="0" cy="0.9" rx="3.0" ry="1.0" fill="#ffffff" opacity="0.7"/><ellipse cx="0" cy="4.6" rx="4.0" ry="3.4" fill="#5044b8" opacity="0.88"/></g></g>
<g transform="translate(407.35 331.20) scale(0.94 1.03)"><use href="#mouse"/><g clip-path="url(#mclip)"><ellipse cx="0" cy="-3" rx="4.0" ry="4.8" fill="#4a2cb8" opacity="0.95"/><ellipse cx="0" cy="0.9" rx="3.0" ry="1.0" fill="#ffffff" opacity="0.7"/><ellipse cx="0" cy="4.6" rx="4.0" ry="3.4" fill="#5044b8" opacity="0.88"/></g></g>
<line x1="416.40" y1="321.40" x2="416.40" y2="324.20" stroke="#8a8a8a" stroke-width="0.7" opacity="0.8"/>
<g transform="translate(425.45 331.20) scale(0.94 1.03)"><use href="#mouse"/><g clip-path="url(#mclip)"><ellipse cx="0" cy="-3" rx="4.0" ry="4.8" fill="#4a2cb8" opacity="0.95"/><ellipse cx="0" cy="0.9" rx="3.0" ry="1.0" fill="#ffffff" opacity="0.7"/><ellipse cx="0" cy="4.6" rx="4.0" ry="3.4" fill="#5044b8" opacity="0.88"/></g></g>
<line x1="434.50" y1="321.40" x2="434.50" y2="324.20" stroke="#8a8a8a" stroke-width="0.7" opacity="0.8"/>
<line x1="398.30" y1="342.50" x2="398.30" y2="345.30" stroke="#8a8a8a" stroke-width="0.7" opacity="0.8"/>
<line x1="407.35" y1="342.50" x2="407.35" y2="345.30" stroke="#8a8a8a" stroke-width="0.7" opacity="0.8"/>
<line x1="416.40" y1="342.50" x2="416.40" y2="345.30" stroke="#8a8a8a" stroke-width="0.7" opacity="0.8"/>
<line x1="425.45" y1="342.50" x2="425.45" y2="345.30" stroke="#8a8a8a" stroke-width="0.7" opacity="0.8"/>
<line x1="434.50" y1="342.50" x2="434.50" y2="345.30" stroke="#8a8a8a" stroke-width="0.7" opacity="0.8"/>
<line x1="398.30" y1="362.30" x2="398.30" y2="365.10" stroke="#8a8a8a" stroke-width="0.7" opacity="0.8"/>
<line x1="407.35" y1="362.30" x2="407.35" y2="365.10" stroke="#8a8a8a" stroke-width="0.7" opacity="0.8"/>
<line x1="416.40" y1="362.30" x2="416.40" y2="365.10" stroke="#8a8a8a" stroke-width="0.7" opacity="0.8"/>
<line x1="425.45" y1="362.30" x2="425.45" y2="365.10" stroke="#8a8a8a" stroke-width="0.7" opacity="0.8"/>
<line x1="434.50" y1="362.30" x2="434.50" y2="365.10" stroke="#8a8a8a" stroke-width="0.7" opacity="0.8"/>
<line x1="398.30" y1="379.70" x2="398.30" y2="382.50" stroke="#8a8a8a" stroke-width="0.7" opacity="0.8"/>
<line x1="407.35" y1="379.70" x2="407.35" y2="382.50" stroke="#8a8a8a" stroke-width="0.7" opacity="0.8"/>
<line x1="416.40" y1="379.70" x2="416.40" y2="382.50" stroke="#8a8a8a" stroke-width="0.7" opacity="0.8"/>
<line x1="425.45" y1="379.70" x2="425.45" y2="382.50" stroke="#8a8a8a" stroke-width="0.7" opacity="0.8"/>
<line x1="434.50" y1="379.70" x2="434.50" y2="382.50" stroke="#8a8a8a" stroke-width="0.7" opacity="0.8"/>
<line x1="398.30" y1="398.90" x2="398.30" y2="401.70" stroke="#8a8a8a" stroke-width="0.7" opacity="0.8"/>
<line x1="407.35" y1="398.90" x2="407.35" y2="401.70" stroke="#8a8a8a" stroke-width="0.7" opacity="0.8"/>
<line x1="416.40" y1="398.90" x2="416.40" y2="401.70" stroke="#8a8a8a" stroke-width="0.7" opacity="0.8"/>
<line x1="425.45" y1="398.90" x2="425.45" y2="401.70" stroke="#8a8a8a" stroke-width="0.7" opacity="0.8"/>
<line x1="434.50" y1="398.90" x2="434.50" y2="401.70" stroke="#8a8a8a" stroke-width="0.7" opacity="0.8"/>
<line x1="398.30" y1="418.20" x2="398.30" y2="421.00" stroke="#8a8a8a" stroke-width="0.7" opacity="0.8"/>
<line x1="407.35" y1="418.20" x2="407.35" y2="421.00" stroke="#8a8a8a" stroke-width="0.7" opacity="0.8"/>
<line x1="416.40" y1="418.20" x2="416.40" y2="421.00" stroke="#8a8a8a" stroke-width="0.7" opacity="0.8"/>
<line x1="425.45" y1="418.20" x2="425.45" y2="421.00" stroke="#8a8a8a" stroke-width="0.7" opacity="0.8"/>
<line x1="434.50" y1="418.20" x2="434.50" y2="421.00" stroke="#8a8a8a" stroke-width="0.7" opacity="0.8"/>
<line x1="398.30" y1="437.00" x2="398.30" y2="439.80" stroke="#8a8a8a" stroke-width="0.7" opacity="0.8"/>
<line x1="407.35" y1="437.00" x2="407.35" y2="439.80" stroke="#8a8a8a" stroke-width="0.7" opacity="0.8"/>
<line x1="416.40" y1="437.00" x2="416.40" y2="439.80" stroke="#8a8a8a" stroke-width="0.7" opacity="0.8"/>
<line x1="425.45" y1="437.00" x2="425.45" y2="439.80" stroke="#8a8a8a" stroke-width="0.7" opacity="0.8"/>
<line x1="434.50" y1="437.00" x2="434.50" y2="439.80" stroke="#8a8a8a" stroke-width="0.7" opacity="0.8"/>
<line x1="398.30" y1="456.20" x2="398.30" y2="459.00" stroke="#8a8a8a" stroke-width="0.7" opacity="0.8"/>
<line x1="407.35" y1="456.20" x2="407.35" y2="459.00" stroke="#8a8a8a" stroke-width="0.7" opacity="0.8"/>
<line x1="416.40" y1="456.20" x2="416.40" y2="459.00" stroke="#8a8a8a" stroke-width="0.7" opacity="0.8"/>
<line x1="425.45" y1="456.20" x2="425.45" y2="459.00" stroke="#8a8a8a" stroke-width="0.7" opacity="0.8"/>
<line x1="434.50" y1="456.20" x2="434.50" y2="459.00" stroke="#8a8a8a" stroke-width="0.7" opacity="0.8"/>
<line x1="398.30" y1="475.20" x2="398.30" y2="478.00" stroke="#8a8a8a" stroke-width="0.7" opacity="0.8"/>
<line x1="407.35" y1="475.20" x2="407.35" y2="478.00" stroke="#8a8a8a" stroke-width="0.7" opacity="0.8"/>
<line x1="416.40" y1="475.20" x2="416.40" y2="478.00" stroke="#8a8a8a" stroke-width="0.7" opacity="0.8"/>
<line x1="425.45" y1="475.20" x2="425.45" y2="478.00" stroke="#8a8a8a" stroke-width="0.7" opacity="0.8"/>
<line x1="434.50" y1="475.20" x2="434.50" y2="478.00" stroke="#8a8a8a" stroke-width="0.7" opacity="0.8"/>
<line x1="398.30" y1="493.70" x2="398.30" y2="496.50" stroke="#8a8a8a" stroke-width="0.7" opacity="0.8"/>
<line x1="407.35" y1="493.70" x2="407.35" y2="496.50" stroke="#8a8a8a" stroke-width="0.7" opacity="0.8"/>
<line x1="416.40" y1="493.70" x2="416.40" y2="496.50" stroke="#8a8a8a" stroke-width="0.7" opacity="0.8"/>
<line x1="425.45" y1="493.70" x2="425.45" y2="496.50" stroke="#8a8a8a" stroke-width="0.7" opacity="0.8"/>
<line x1="434.50" y1="493.70" x2="434.50" y2="496.50" stroke="#8a8a8a" stroke-width="0.7" opacity="0.8"/>
<line x1="398.30" y1="512.90" x2="398.30" y2="515.70" stroke="#8a8a8a" stroke-width="0.7" opacity="0.8"/>
<line x1="407.35" y1="512.90" x2="407.35" y2="515.70" stroke="#8a8a8a" stroke-width="0.7" opacity="0.8"/>
<line x1="416.40" y1="512.90" x2="416.40" y2="515.70" stroke="#8a8a8a" stroke-width="0.7" opacity="0.8"/>
<line x1="425.45" y1="512.90" x2="425.45" y2="515.70" stroke="#8a8a8a" stroke-width="0.7" opacity="0.8"/>
<line x1="434.50" y1="512.90" x2="434.50" y2="515.70" stroke="#8a8a8a" stroke-width="0.7" opacity="0.8"/>
<line x1="398.30" y1="531.40" x2="398.30" y2="534.20" stroke="#8a8a8a" stroke-width="0.7" opacity="0.8"/>
<line x1="407.35" y1="531.40" x2="407.35" y2="534.20" stroke="#8a8a8a" stroke-width="0.7" opacity="0.8"/>
<line x1="416.40" y1="531.40" x2="416.40" y2="534.20" stroke="#8a8a8a" stroke-width="0.7" opacity="0.8"/>
<line x1="425.45" y1="531.40" x2="425.45" y2="534.20" stroke="#8a8a8a" stroke-width="0.7" opacity="0.8"/>
<line x1="434.50" y1="531.40" x2="434.50" y2="534.20" stroke="#8a8a8a" stroke-width="0.7" opacity="0.8"/>
<g transform="translate(455.00 276.50) scale(0.94 1.03)"><use href="#mouse"/><g clip-path="url(#mclip)"><ellipse cx="0" cy="0" rx="3.8" ry="7.5" fill="#7a70d0" opacity="0.3"/></g></g>
<g transform="translate(464.35 276.50) scale(0.94 1.03)"><use href="#mouse"/><g clip-path="url(#mclip)"><ellipse cx="1" cy="2" rx="1.8" ry="2.0" fill="#3a3490" opacity="0.6"/><ellipse cx="-1" cy="-3" rx="1.3" ry="1.3" fill="#3a3090" opacity="0.5"/><ellipse cx="-1.5" cy="4.5" rx="1.2" ry="1.2" fill="#302860" opacity="0.5"/></g></g>
<g transform="translate(473.70 276.50) scale(0.94 1.03)"><use href="#mouse"/><g clip-path="url(#mclip)"><ellipse cx="1" cy="2" rx="1.8" ry="2.0" fill="#3a3490" opacity="0.6"/><ellipse cx="-1" cy="-3" rx="1.3" ry="1.3" fill="#3a3090" opacity="0.5"/><ellipse cx="-1.5" cy="4.5" rx="1.2" ry="1.2" fill="#302860" opacity="0.5"/></g></g>
<g transform="translate(483.05 276.50) scale(0.94 1.03)"><use href="#mouse"/><g clip-path="url(#mclip)"><ellipse cx="0" cy="0" rx="3.8" ry="7.5" fill="#7a70d0" opacity="0.3"/></g></g>
<g transform="translate(492.40 276.50) scale(0.94 1.03)"><use href="#mouse"/><g clip-path="url(#mclip)"><ellipse cx="0.5" cy="4" rx="3.4" ry="3.4" fill="#4b30b0" opacity="0.6"/></g></g>
<g transform="translate(455.00 295.20) scale(0.94 1.03)"><use href="#mouse"/></g>
<g transform="translate(464.35 295.20) scale(0.94 1.03)"><use href="#mouse"/></g>
<g transform="translate(473.70 295.20) scale(0.94 1.03)"><use href="#mouse"/><g clip-path="url(#mclip)"><ellipse cx="0" cy="0" rx="3.8" ry="7.5" fill="#7a70d0" opacity="0.3"/></g></g>
<g transform="translate(483.05 295.20) scale(0.94 1.03)"><use href="#mouse"/><g clip-path="url(#mclip)"><ellipse cx="1" cy="2" rx="1.8" ry="2.0" fill="#3a3490" opacity="0.6"/><ellipse cx="-1" cy="-3" rx="1.3" ry="1.3" fill="#3a3090" opacity="0.5"/><ellipse cx="-1.5" cy="4.5" rx="1.2" ry="1.2" fill="#302860" opacity="0.5"/></g></g>
<g transform="translate(492.40 295.20) scale(0.94 1.03)"><use href="#mouse"/></g>
<g transform="translate(455.00 313.20) scale(0.94 1.03)"><use href="#mouse"/><g clip-path="url(#mclip)"><ellipse cx="0" cy="-3" rx="4.0" ry="4.8" fill="#4a2cb8" opacity="0.95"/><ellipse cx="0" cy="0.9" rx="3.0" ry="1.0" fill="#ffffff" opacity="0.7"/><ellipse cx="0" cy="4.6" rx="4.0" ry="3.4" fill="#5044b8" opacity="0.88"/></g></g>
<g transform="translate(464.35 313.20) scale(0.94 1.03)"><use href="#mouse"/><g clip-path="url(#mclip)"><ellipse cx="1" cy="2" rx="1.8" ry="2.0" fill="#3a3490" opacity="0.6"/><ellipse cx="-1" cy="-3" rx="1.3" ry="1.3" fill="#3a3090" opacity="0.5"/><ellipse cx="-1.5" cy="4.5" rx="1.2" ry="1.2" fill="#302860" opacity="0.5"/></g></g>
<g transform="translate(473.70 313.20) scale(0.94 1.03)"><use href="#mouse"/><g clip-path="url(#mclip)"><ellipse cx="0" cy="-4" rx="3.2" ry="3.4" fill="#5a48c0" opacity="0.55"/></g></g>
<g transform="translate(483.05 313.20) scale(0.94 1.03)"><use href="#mouse"/><g clip-path="url(#mclip)"><ellipse cx="0" cy="-3.5" rx="4.0" ry="4.2" fill="#4a30b8" opacity="0.9"/><ellipse cx="0" cy="4.5" rx="4.0" ry="3.4" fill="#5448c0" opacity="0.8"/><ellipse cx="0.8" cy="0.8" rx="1.7" ry="1.5" fill="#ffffff" opacity="0.7"/></g></g>
<line x1="492.40" y1="303.40" x2="492.40" y2="306.20" stroke="#8a8a8a" stroke-width="0.7" opacity="0.8"/>
<g transform="translate(455.00 331.20) scale(0.94 1.03)"><use href="#mouse"/><g clip-path="url(#mclip)"><ellipse cx="0" cy="-3" rx="4.0" ry="4.8" fill="#4a2cb8" opacity="0.95"/><ellipse cx="0" cy="0.9" rx="3.0" ry="1.0" fill="#ffffff" opacity="0.7"/><ellipse cx="0" cy="4.6" rx="4.0" ry="3.4" fill="#5044b8" opacity="0.88"/></g></g>
<g transform="translate(464.35 331.20) scale(0.94 1.03)"><use href="#mouse"/><g clip-path="url(#mclip)"><ellipse cx="1" cy="2" rx="1.8" ry="2.0" fill="#3a3490" opacity="0.6"/><ellipse cx="-1" cy="-3" rx="1.3" ry="1.3" fill="#3a3090" opacity="0.5"/><ellipse cx="-1.5" cy="4.5" rx="1.2" ry="1.2" fill="#302860" opacity="0.5"/></g></g>
<g transform="translate(473.70 331.20) scale(0.94 1.03)"><use href="#mouse"/><g clip-path="url(#mclip)"><ellipse cx="0" cy="-3.5" rx="4.0" ry="4.2" fill="#4a30b8" opacity="0.9"/><ellipse cx="0" cy="4.5" rx="4.0" ry="3.4" fill="#5448c0" opacity="0.8"/><ellipse cx="0.8" cy="0.8" rx="1.7" ry="1.5" fill="#ffffff" opacity="0.7"/></g></g>
<g transform="translate(483.05 331.20) scale(0.94 1.03)"><use href="#mouse"/><g clip-path="url(#mclip)"><ellipse cx="0.5" cy="4" rx="3.4" ry="3.4" fill="#4b30b0" opacity="0.6"/></g></g>
<line x1="492.40" y1="321.40" x2="492.40" y2="324.20" stroke="#8a8a8a" stroke-width="0.7" opacity="0.8"/>
<line x1="455.00" y1="342.50" x2="455.00" y2="345.30" stroke="#8a8a8a" stroke-width="0.7" opacity="0.8"/>
<g transform="translate(464.35 352.30) scale(0.94 1.03)"><use href="#mouse"/><g clip-path="url(#mclip)"><ellipse cx="0" cy="-3" rx="4.0" ry="4.8" fill="#4a2cb8" opacity="0.95"/><ellipse cx="0" cy="0.9" rx="3.0" ry="1.0" fill="#ffffff" opacity="0.7"/><ellipse cx="0" cy="4.6" rx="4.0" ry="3.4" fill="#5044b8" opacity="0.88"/></g></g>
<line x1="473.70" y1="342.50" x2="473.70" y2="345.30" stroke="#8a8a8a" stroke-width="0.7" opacity="0.8"/>
<line x1="483.05" y1="342.50" x2="483.05" y2="345.30" stroke="#8a8a8a" stroke-width="0.7" opacity="0.8"/>
<line x1="492.40" y1="342.50" x2="492.40" y2="345.30" stroke="#8a8a8a" stroke-width="0.7" opacity="0.8"/>
<line x1="455.00" y1="362.30" x2="455.00" y2="365.10" stroke="#8a8a8a" stroke-width="0.7" opacity="0.8"/>
<line x1="464.35" y1="362.30" x2="464.35" y2="365.10" stroke="#8a8a8a" stroke-width="0.7" opacity="0.8"/>
<line x1="473.70" y1="362.30" x2="473.70" y2="365.10" stroke="#8a8a8a" stroke-width="0.7" opacity="0.8"/>
<line x1="483.05" y1="362.30" x2="483.05" y2="365.10" stroke="#8a8a8a" stroke-width="0.7" opacity="0.8"/>
<line x1="492.40" y1="362.30" x2="492.40" y2="365.10" stroke="#8a8a8a" stroke-width="0.7" opacity="0.8"/>
<line x1="455.00" y1="379.70" x2="455.00" y2="382.50" stroke="#8a8a8a" stroke-width="0.7" opacity="0.8"/>
<line x1="464.35" y1="379.70" x2="464.35" y2="382.50" stroke="#8a8a8a" stroke-width="0.7" opacity="0.8"/>
<line x1="473.70" y1="379.70" x2="473.70" y2="382.50" stroke="#8a8a8a" stroke-width="0.7" opacity="0.8"/>
<line x1="483.05" y1="379.70" x2="483.05" y2="382.50" stroke="#8a8a8a" stroke-width="0.7" opacity="0.8"/>
<line x1="492.40" y1="379.70" x2="492.40" y2="382.50" stroke="#8a8a8a" stroke-width="0.7" opacity="0.8"/>
<line x1="455.00" y1="398.90" x2="455.00" y2="401.70" stroke="#8a8a8a" stroke-width="0.7" opacity="0.8"/>
<line x1="464.35" y1="398.90" x2="464.35" y2="401.70" stroke="#8a8a8a" stroke-width="0.7" opacity="0.8"/>
<line x1="473.70" y1="398.90" x2="473.70" y2="401.70" stroke="#8a8a8a" stroke-width="0.7" opacity="0.8"/>
<line x1="483.05" y1="398.90" x2="483.05" y2="401.70" stroke="#8a8a8a" stroke-width="0.7" opacity="0.8"/>
<line x1="492.40" y1="398.90" x2="492.40" y2="401.70" stroke="#8a8a8a" stroke-width="0.7" opacity="0.8"/>
<line x1="455.00" y1="418.20" x2="455.00" y2="421.00" stroke="#8a8a8a" stroke-width="0.7" opacity="0.8"/>
<line x1="464.35" y1="418.20" x2="464.35" y2="421.00" stroke="#8a8a8a" stroke-width="0.7" opacity="0.8"/>
<line x1="473.70" y1="418.20" x2="473.70" y2="421.00" stroke="#8a8a8a" stroke-width="0.7" opacity="0.8"/>
<line x1="483.05" y1="418.20" x2="483.05" y2="421.00" stroke="#8a8a8a" stroke-width="0.7" opacity="0.8"/>
<line x1="492.40" y1="418.20" x2="492.40" y2="421.00" stroke="#8a8a8a" stroke-width="0.7" opacity="0.8"/>
<line x1="455.00" y1="437.00" x2="455.00" y2="439.80" stroke="#8a8a8a" stroke-width="0.7" opacity="0.8"/>
<line x1="464.35" y1="437.00" x2="464.35" y2="439.80" stroke="#8a8a8a" stroke-width="0.7" opacity="0.8"/>
<line x1="473.70" y1="437.00" x2="473.70" y2="439.80" stroke="#8a8a8a" stroke-width="0.7" opacity="0.8"/>
<line x1="483.05" y1="437.00" x2="483.05" y2="439.80" stroke="#8a8a8a" stroke-width="0.7" opacity="0.8"/>
<line x1="492.40" y1="437.00" x2="492.40" y2="439.80" stroke="#8a8a8a" stroke-width="0.7" opacity="0.8"/>
<line x1="455.00" y1="456.20" x2="455.00" y2="459.00" stroke="#8a8a8a" stroke-width="0.7" opacity="0.8"/>
<line x1="464.35" y1="456.20" x2="464.35" y2="459.00" stroke="#8a8a8a" stroke-width="0.7" opacity="0.8"/>
<line x1="473.70" y1="456.20" x2="473.70" y2="459.00" stroke="#8a8a8a" stroke-width="0.7" opacity="0.8"/>
<line x1="483.05" y1="456.20" x2="483.05" y2="459.00" stroke="#8a8a8a" stroke-width="0.7" opacity="0.8"/>
<line x1="492.40" y1="456.20" x2="492.40" y2="459.00" stroke="#8a8a8a" stroke-width="0.7" opacity="0.8"/>
<line x1="455.00" y1="475.20" x2="455.00" y2="478.00" stroke="#8a8a8a" stroke-width="0.7" opacity="0.8"/>
<line x1="464.35" y1="475.20" x2="464.35" y2="478.00" stroke="#8a8a8a" stroke-width="0.7" opacity="0.8"/>
<line x1="473.70" y1="475.20" x2="473.70" y2="478.00" stroke="#8a8a8a" stroke-width="0.7" opacity="0.8"/>
<line x1="483.05" y1="475.20" x2="483.05" y2="478.00" stroke="#8a8a8a" stroke-width="0.7" opacity="0.8"/>
<line x1="492.40" y1="475.20" x2="492.40" y2="478.00" stroke="#8a8a8a" stroke-width="0.7" opacity="0.8"/>
<line x1="455.00" y1="493.70" x2="455.00" y2="496.50" stroke="#8a8a8a" stroke-width="0.7" opacity="0.8"/>
<line x1="464.35" y1="493.70" x2="464.35" y2="496.50" stroke="#8a8a8a" stroke-width="0.7" opacity="0.8"/>
<line x1="473.70" y1="493.70" x2="473.70" y2="496.50" stroke="#8a8a8a" stroke-width="0.7" opacity="0.8"/>
<line x1="483.05" y1="493.70" x2="483.05" y2="496.50" stroke="#8a8a8a" stroke-width="0.7" opacity="0.8"/>
<line x1="492.40" y1="493.70" x2="492.40" y2="496.50" stroke="#8a8a8a" stroke-width="0.7" opacity="0.8"/>
<line x1="455.00" y1="512.90" x2="455.00" y2="515.70" stroke="#8a8a8a" stroke-width="0.7" opacity="0.8"/>
<line x1="464.35" y1="512.90" x2="464.35" y2="515.70" stroke="#8a8a8a" stroke-width="0.7" opacity="0.8"/>
<line x1="473.70" y1="512.90" x2="473.70" y2="515.70" stroke="#8a8a8a" stroke-width="0.7" opacity="0.8"/>
<line x1="483.05" y1="512.90" x2="483.05" y2="515.70" stroke="#8a8a8a" stroke-width="0.7" opacity="0.8"/>
<line x1="492.40" y1="512.90" x2="492.40" y2="515.70" stroke="#8a8a8a" stroke-width="0.7" opacity="0.8"/>
<line x1="455.00" y1="531.40" x2="455.00" y2="534.20" stroke="#8a8a8a" stroke-width="0.7" opacity="0.8"/>
<line x1="464.35" y1="531.40" x2="464.35" y2="534.20" stroke="#8a8a8a" stroke-width="0.7" opacity="0.8"/>
<line x1="473.70" y1="531.40" x2="473.70" y2="534.20" stroke="#8a8a8a" stroke-width="0.7" opacity="0.8"/>
<line x1="483.05" y1="531.40" x2="483.05" y2="534.20" stroke="#8a8a8a" stroke-width="0.7" opacity="0.8"/>
<line x1="492.40" y1="531.40" x2="492.40" y2="534.20" stroke="#8a8a8a" stroke-width="0.7" opacity="0.8"/>
</g>
<rect x="503.4" y="293.4" width="8.9" height="200.8" fill="url(#cbar)"/>
<path d="M503.4,293.4 H512.3 V309.0 Z" fill="#ffffff"/>
<path d="M503.4,293.4 H512.3 V309.0" fill="none" stroke="#111" stroke-width="0.7"/>
<text x="507.5" y="289.3" font-size="5.8" text-anchor="middle" fill="#222">1e<tspan font-size="3.6" dy="-2.4">6</tspan></text>
<text x="507.5" y="505.8" font-size="5.8" text-anchor="middle" fill="#222">3e<tspan font-size="3.6" dy="-2.4">9</tspan></text>
<rect x="0.5" y="0.5" width="519" height="717" fill="none" stroke="#686868" stroke-width="1"/>
</svg></body></html>
